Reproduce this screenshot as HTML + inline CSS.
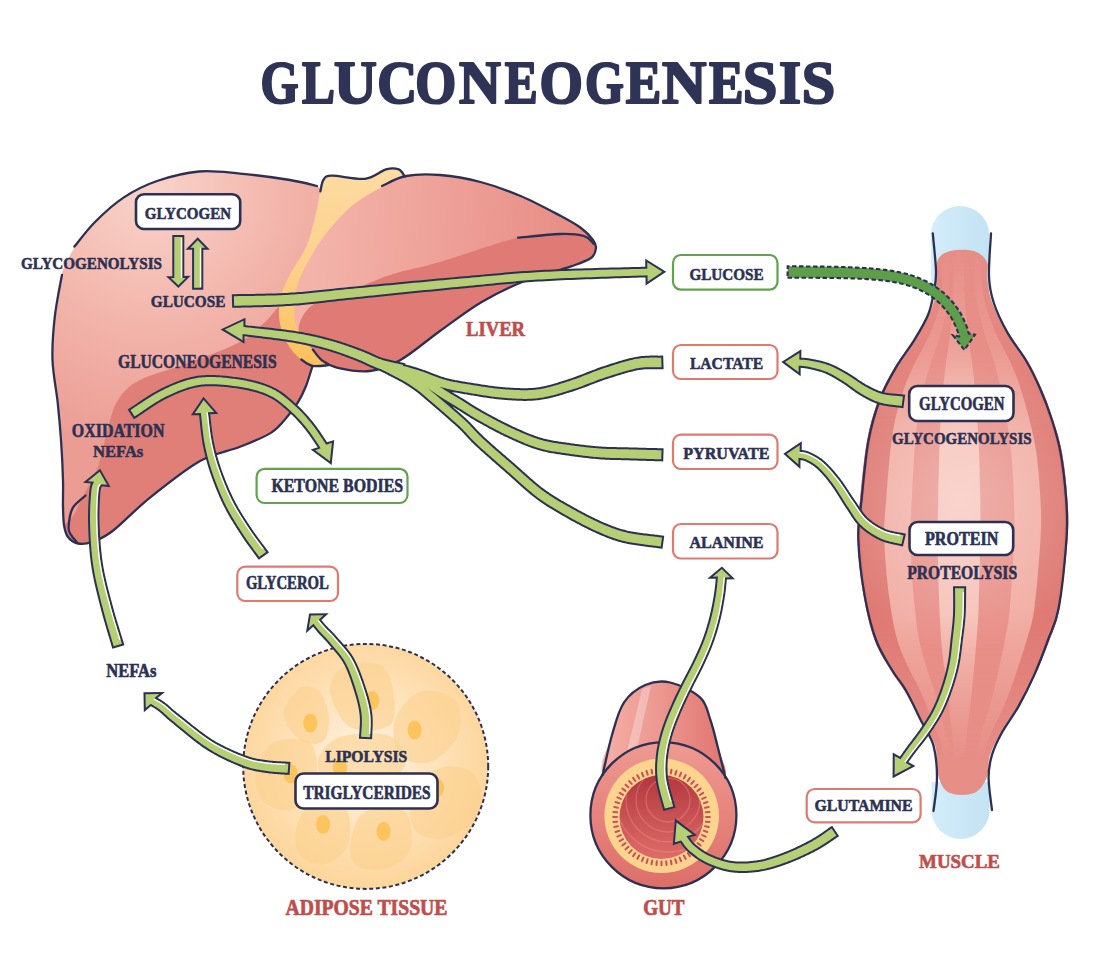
<!DOCTYPE html>
<html><head><meta charset="utf-8"><title>Gluconeogenesis</title>
<style>html,body{margin:0;padding:0;background:#ffffff;}svg{display:block;}</style></head>
<body><svg width="1095" height="958" viewBox="0 0 1095 958">
<defs>
<radialGradient id="gLiverL" cx="150" cy="190" r="260" gradientUnits="userSpaceOnUse">
  <stop offset="0" stop-color="#f9d3ca"/><stop offset="0.55" stop-color="#f2b3a9"/><stop offset="1" stop-color="#eb9d94"/>
</radialGradient>
<linearGradient id="gLiverR" x1="320" y1="220" x2="590" y2="240" gradientUnits="userSpaceOnUse">
  <stop offset="0" stop-color="#f3b3a9"/><stop offset="1" stop-color="#e78b84"/>
</linearGradient>
<linearGradient id="gYellow" x1="0" y1="170" x2="0" y2="365" gradientUnits="userSpaceOnUse">
  <stop offset="0" stop-color="#fddba2"/><stop offset="0.5" stop-color="#fdd08a"/><stop offset="1" stop-color="#fcc15a"/>
</linearGradient>
<radialGradient id="gMuscleC" cx="960" cy="500" r="150" gradientUnits="userSpaceOnUse">
  <stop offset="0" stop-color="#ffffff" stop-opacity="0.3"/><stop offset="1" stop-color="#ffffff" stop-opacity="0"/>
</radialGradient>
<linearGradient id="gTendon" x1="930" y1="0" x2="990" y2="0" gradientUnits="userSpaceOnUse">
  <stop offset="0" stop-color="#d4eefa"/><stop offset="1" stop-color="#c3e2f3"/>
</linearGradient>
<radialGradient id="gAdipose" cx="365" cy="760" r="125" gradientUnits="userSpaceOnUse">
  <stop offset="0" stop-color="#fff5e6"/><stop offset="0.45" stop-color="#fee6c3"/><stop offset="1" stop-color="#fdd69c"/>
</radialGradient>
<linearGradient id="gGutTube" x1="600" y1="0" x2="725" y2="0" gradientUnits="userSpaceOnUse">
  <stop offset="0" stop-color="#f6b0a8"/><stop offset="0.5" stop-color="#ec968e"/><stop offset="1" stop-color="#e07670"/>
</linearGradient>
<linearGradient id="gGutFace" x1="0" y1="742" x2="0" y2="888" gradientUnits="userSpaceOnUse">
  <stop offset="0" stop-color="#ee9a92"/><stop offset="1" stop-color="#dd6e68"/>
</linearGradient>
<linearGradient id="gLumen" x1="0" y1="775" x2="0" y2="859" gradientUnits="userSpaceOnUse">
  <stop offset="0" stop-color="#b3373e"/><stop offset="1" stop-color="#df6c68"/>
</linearGradient>
<linearGradient id="gMFade" x1="0" y1="250" x2="0" y2="800" gradientUnits="userSpaceOnUse"><stop offset="0" stop-color="#fff" stop-opacity="0"/><stop offset="0.17" stop-color="#fff" stop-opacity="0.35"/><stop offset="0.35" stop-color="#fff" stop-opacity="1"/><stop offset="0.66" stop-color="#fff" stop-opacity="1"/><stop offset="0.82" stop-color="#fff" stop-opacity="0.35"/><stop offset="0.93" stop-color="#fff" stop-opacity="0"/></linearGradient><mask id="mFade" maskUnits="userSpaceOnUse" x="800" y="200" width="300" height="650"><rect x="800" y="200" width="300" height="650" fill="url(#gMFade)"/></mask><linearGradient id="gMEdge" x1="850" y1="0" x2="1070" y2="0" gradientUnits="userSpaceOnUse"><stop offset="0" stop-color="#d9706a" stop-opacity="0.0"/><stop offset="0.85" stop-color="#d9706a" stop-opacity="0"/><stop offset="1" stop-color="#d9706a" stop-opacity="0.35"/></linearGradient><clipPath id="cLumen"><circle cx="661.5" cy="817" r="42"/></clipPath></defs>
<rect width="1095" height="958" fill="#ffffff"/>
<clipPath id="cL"><path d="M320.0,188.0 C311.7,181.3 303.3,182.4 290.0,180.0 C276.7,177.6 255.2,175.0 240.0,173.6 C224.8,172.2 212.8,170.3 199.0,171.5 C185.2,172.7 169.6,176.7 157.0,181.0 C144.4,185.3 133.8,190.9 123.5,197.6 C113.2,204.3 103.0,212.9 95.0,221.0 C87.0,229.1 81.2,236.8 75.5,246.0 C69.8,255.2 64.5,264.2 61.0,276.0 C57.5,287.8 56.2,302.7 54.8,316.7 C53.4,330.7 52.0,345.7 52.5,360.0 C53.0,374.3 56.3,389.3 57.7,402.6 C59.1,415.9 60.1,427.1 61.0,440.0 C61.9,452.9 62.7,468.8 63.0,480.0 C63.3,491.2 62.8,499.5 63.0,507.0 C63.2,514.5 63.2,520.0 64.0,525.0 C64.8,530.0 65.7,533.9 68.0,537.0 C70.3,540.1 74.0,542.7 78.0,543.5 C82.0,544.3 86.2,544.1 92.0,542.0 C97.8,539.9 102.9,538.4 112.6,531.0 C122.3,523.6 135.4,509.3 150.0,497.6 C164.6,485.9 185.0,469.5 200.0,461.0 C215.0,452.5 228.1,451.5 240.0,446.8 C251.9,442.1 263.5,437.6 271.3,432.6 C279.1,427.6 282.5,422.2 287.0,417.0 C291.5,411.8 295.3,406.5 298.5,401.3 C301.7,396.1 303.8,391.4 306.0,386.0 C308.2,380.6 308.9,373.5 311.6,368.8 C314.3,364.1 317.3,369.5 322.0,358.0 C326.7,346.5 337.0,323.0 340.0,300.0 C343.0,277.0 343.3,238.7 340.0,220.0 C336.7,201.3 328.3,194.7 320.0,188.0Z"/></clipPath>
<path d="M320.0,188.0 C311.7,181.3 303.3,182.4 290.0,180.0 C276.7,177.6 255.2,175.0 240.0,173.6 C224.8,172.2 212.8,170.3 199.0,171.5 C185.2,172.7 169.6,176.7 157.0,181.0 C144.4,185.3 133.8,190.9 123.5,197.6 C113.2,204.3 103.0,212.9 95.0,221.0 C87.0,229.1 81.2,236.8 75.5,246.0 C69.8,255.2 64.5,264.2 61.0,276.0 C57.5,287.8 56.2,302.7 54.8,316.7 C53.4,330.7 52.0,345.7 52.5,360.0 C53.0,374.3 56.3,389.3 57.7,402.6 C59.1,415.9 60.1,427.1 61.0,440.0 C61.9,452.9 62.7,468.8 63.0,480.0 C63.3,491.2 62.8,499.5 63.0,507.0 C63.2,514.5 63.2,520.0 64.0,525.0 C64.8,530.0 65.7,533.9 68.0,537.0 C70.3,540.1 74.0,542.7 78.0,543.5 C82.0,544.3 86.2,544.1 92.0,542.0 C97.8,539.9 102.9,538.4 112.6,531.0 C122.3,523.6 135.4,509.3 150.0,497.6 C164.6,485.9 185.0,469.5 200.0,461.0 C215.0,452.5 228.1,451.5 240.0,446.8 C251.9,442.1 263.5,437.6 271.3,432.6 C279.1,427.6 282.5,422.2 287.0,417.0 C291.5,411.8 295.3,406.5 298.5,401.3 C301.7,396.1 303.8,391.4 306.0,386.0 C308.2,380.6 308.9,373.5 311.6,368.8 C314.3,364.1 317.3,369.5 322.0,358.0 C326.7,346.5 337.0,323.0 340.0,300.0 C343.0,277.0 343.3,238.7 340.0,220.0 C336.7,201.3 328.3,194.7 320.0,188.0Z" fill="url(#gLiverL)"/>
<path clip-path="url(#cL)" d="M40.0,545.0 C38.3,538.3 63.0,527.7 70.0,520.0 C77.0,512.3 77.0,507.8 81.8,498.6 C86.5,489.4 94.0,477.5 98.5,465.0 C103.0,452.5 105.6,434.6 109.0,423.5 C112.4,412.4 113.8,405.8 119.0,398.5 C124.2,391.2 128.3,385.9 140.0,380.0 C151.7,374.1 172.3,369.1 189.0,362.8 C205.7,356.5 227.3,348.8 240.0,342.0 C252.7,335.2 256.7,329.2 265.0,322.0 C273.3,314.8 277.5,304.3 290.0,299.0 C302.5,293.7 330.8,269.8 340.0,290.0 C349.2,310.2 368.3,385.0 345.0,420.0 C321.7,455.0 244.2,476.7 200.0,500.0 C155.8,523.3 106.7,552.5 80.0,560.0 C53.3,567.5 41.7,551.7 40.0,545.0Z" fill="#e07f78"/>
<path d="M320.4,191.3 C321.8,185.0 321.6,182.4 323.5,179.8 C325.4,177.2 325.0,175.9 331.9,175.7 C338.8,175.5 356.0,179.9 365.0,178.8 C374.0,177.8 380.4,171.0 386.0,169.4 C391.6,167.8 395.5,168.2 398.7,169.4 C401.9,170.6 405.6,173.3 405.0,176.7 C404.4,180.1 402.5,183.6 395.0,190.0 C387.5,196.4 370.8,205.0 360.0,215.0 C349.2,225.0 338.3,237.5 330.0,250.0 C321.7,262.5 314.2,276.7 310.0,290.0 C305.8,303.3 303.7,319.3 305.0,330.0 C306.3,340.7 313.9,348.2 318.0,354.0 C322.1,359.8 329.7,362.7 329.5,364.7 C329.3,366.7 321.7,366.6 317.0,365.8 C312.3,365.0 306.2,363.4 301.3,359.7 C296.4,356.0 291.1,350.2 287.5,343.7 C283.9,337.2 280.6,328.4 279.5,320.7 C278.4,313.0 279.0,305.3 280.7,297.7 C282.4,290.1 285.6,283.2 289.8,274.8 C294.0,266.4 301.8,256.8 306.0,247.2 C310.2,237.6 312.6,226.7 315.0,217.4 C317.4,208.1 319.0,197.6 320.4,191.3Z" fill="url(#gYellow)"/>
<clipPath id="cR"><path d="M384.0,186.0 C393.0,181.0 396.7,177.8 406.0,176.0 C415.3,174.2 427.6,174.0 440.0,175.0 C452.4,176.0 467.1,178.5 480.5,182.0 C493.9,185.5 507.2,190.3 520.6,196.0 C534.0,201.7 550.7,210.7 560.8,216.0 C570.9,221.3 575.6,224.0 581.0,228.0 C586.4,232.0 590.5,236.7 593.0,240.0 C595.5,243.3 596.3,245.0 596.0,248.0 C595.7,251.0 595.2,254.9 591.0,258.0 C586.8,261.1 582.2,262.5 571.0,266.4 C559.8,270.3 538.4,275.6 523.5,281.5 C508.6,287.4 495.6,293.8 481.7,302.0 C467.8,310.2 453.5,321.3 440.0,331.0 C426.5,340.7 412.2,353.3 400.5,360.0 C388.8,366.7 380.4,369.7 370.0,371.0 C359.6,372.3 345.8,369.6 337.8,367.8 C329.8,366.1 326.4,363.5 322.2,360.5 C318.0,357.5 316.5,353.9 312.8,349.6 C309.1,345.3 303.3,340.1 300.2,334.5 C297.1,328.9 295.0,323.6 294.4,316.0 C293.8,308.4 294.8,297.0 296.7,288.6 C298.6,280.2 301.4,274.4 306.0,265.6 C310.6,256.8 316.7,245.7 324.3,235.8 C331.9,225.9 341.9,214.3 351.8,206.0 C361.8,197.7 375.0,191.0 384.0,186.0Z"/></clipPath>
<path d="M384.0,186.0 C393.0,181.0 396.7,177.8 406.0,176.0 C415.3,174.2 427.6,174.0 440.0,175.0 C452.4,176.0 467.1,178.5 480.5,182.0 C493.9,185.5 507.2,190.3 520.6,196.0 C534.0,201.7 550.7,210.7 560.8,216.0 C570.9,221.3 575.6,224.0 581.0,228.0 C586.4,232.0 590.5,236.7 593.0,240.0 C595.5,243.3 596.3,245.0 596.0,248.0 C595.7,251.0 595.2,254.9 591.0,258.0 C586.8,261.1 582.2,262.5 571.0,266.4 C559.8,270.3 538.4,275.6 523.5,281.5 C508.6,287.4 495.6,293.8 481.7,302.0 C467.8,310.2 453.5,321.3 440.0,331.0 C426.5,340.7 412.2,353.3 400.5,360.0 C388.8,366.7 380.4,369.7 370.0,371.0 C359.6,372.3 345.8,369.6 337.8,367.8 C329.8,366.1 326.4,363.5 322.2,360.5 C318.0,357.5 316.5,353.9 312.8,349.6 C309.1,345.3 303.3,340.1 300.2,334.5 C297.1,328.9 295.0,323.6 294.4,316.0 C293.8,308.4 294.8,297.0 296.7,288.6 C298.6,280.2 301.4,274.4 306.0,265.6 C310.6,256.8 316.7,245.7 324.3,235.8 C331.9,225.9 341.9,214.3 351.8,206.0 C361.8,197.7 375.0,191.0 384.0,186.0Z" fill="url(#gLiverR)"/>
<path clip-path="url(#cR)" d="M298.0,345.0 C299.7,328.7 297.3,328.8 300.0,322.0 C302.7,315.2 306.7,308.7 314.0,304.0 C321.3,299.3 331.3,298.4 344.0,293.6 C356.7,288.8 374.0,280.3 390.0,275.0 C406.0,269.7 418.8,268.2 440.0,262.0 C461.2,255.8 497.0,242.7 517.0,238.0 C537.0,233.3 547.8,234.0 560.0,234.0 C572.2,234.0 580.0,235.3 590.0,238.0 C600.0,240.7 615.0,219.7 620.0,250.0 C625.0,280.3 675.0,391.7 620.0,420.0 C565.0,448.3 343.7,432.5 290.0,420.0 C236.3,407.5 296.3,361.3 298.0,345.0Z" fill="#df7b74"/>
<g fill="none" stroke="#2c3153" stroke-width="2.3" stroke-linecap="round">
<path d="M317.0,186.0 C312.5,185.0 302.8,182.1 290.0,180.0 C277.2,177.9 255.2,175.0 240.0,173.6 C224.8,172.2 212.8,170.3 199.0,171.5 C185.2,172.7 169.6,176.7 157.0,181.0 C144.4,185.3 133.8,190.8 123.5,197.6 C113.2,204.4 103.2,213.8 95.0,222.0 C86.8,230.2 77.8,242.5 74.4,246.6"/>
<path d="M62.0,274.8 C60.8,281.8 56.4,302.5 54.8,316.7 C53.2,330.9 52.0,345.7 52.5,360.0 C53.0,374.3 56.3,389.3 57.7,402.6 C59.1,415.9 60.1,427.1 61.0,440.0 C61.9,452.9 62.7,468.8 63.0,480.0 C63.3,491.2 62.8,499.5 63.0,507.0 C63.2,514.5 63.2,520.0 64.0,525.0 C64.8,530.0 65.7,533.9 68.0,537.0 C70.3,540.1 74.0,542.7 78.0,543.5 C82.0,544.3 86.2,544.1 92.0,542.0 C97.8,539.9 102.9,538.4 112.6,531.0 C122.3,523.6 135.4,509.3 150.0,497.6 C164.6,485.9 185.0,469.5 200.0,461.0 C215.0,452.5 228.1,451.5 240.0,446.8 C251.9,442.1 263.5,437.6 271.3,432.6 C279.1,427.6 282.5,422.2 287.0,417.0 C291.5,411.8 295.3,406.5 298.5,401.3 C301.7,396.1 303.8,391.4 306.0,386.0 C308.2,380.6 310.5,372.1 311.6,368.8 C312.7,365.5 312.6,366.5 312.8,366.0"/>
<path d="M85.5,495.5 C83.6,497.2 76.6,502.6 74.0,506.0 C71.4,509.4 70.8,511.8 70.0,516.0 C69.2,520.2 67.8,526.6 69.0,531.0 C70.2,535.4 75.7,540.6 77.0,542.5"/>
<path d="M320.4,191.3 C320.9,189.4 321.6,182.4 323.5,179.8 C325.4,177.2 325.0,175.9 331.9,175.7 C338.8,175.5 356.0,179.9 365.0,178.8 C374.0,177.8 380.4,171.0 386.0,169.4 C391.6,167.8 395.5,168.2 398.7,169.4 C401.9,170.6 403.9,175.5 405.0,176.7"/>
<path d="M382.0,186.0 C386.0,184.3 396.3,177.8 406.0,176.0 C415.7,174.2 427.6,174.0 440.0,175.0 C452.4,176.0 467.1,178.5 480.5,182.0 C493.9,185.5 507.2,190.3 520.6,196.0 C534.0,201.7 550.7,210.7 560.8,216.0 C570.9,221.3 575.6,224.0 581.0,228.0 C586.4,232.0 590.5,236.7 593.0,240.0 C595.5,243.3 596.3,245.0 596.0,248.0 C595.7,251.0 595.2,254.9 591.0,258.0 C586.8,261.1 582.2,262.5 571.0,266.4 C559.8,270.3 538.4,275.6 523.5,281.5 C508.6,287.4 495.6,293.8 481.7,302.0 C467.8,310.2 453.5,321.3 440.0,331.0 C426.5,340.7 412.2,353.3 400.5,360.0 C388.8,366.7 380.4,369.7 370.0,371.0 C359.6,372.3 345.8,369.6 337.8,367.8 C329.8,366.1 326.4,363.5 322.2,360.5 C318.0,357.5 314.4,351.4 312.8,349.6"/>
<path d="M518.0,237.7 C525.0,237.1 549.0,234.3 560.0,234.0 C571.0,233.7 578.3,234.3 584.0,236.0 C589.7,237.7 592.3,242.7 594.0,244.0"/>
<path d="M301.3,359.5 C303.1,360.6 307.8,364.9 312.3,365.8 C316.8,366.8 325.8,365.3 328.5,365.2"/>
</g>
<path d="M931,300 L931,234 A29,28 0 0 1 989,234 L989,300Z" fill="url(#gTendon)"/>
<path d="M931.5,782 L931.5,810 A29,29 0 0 0 989.5,810 L989.5,782Z" fill="url(#gTendon)"/>
<path d="M937.0,262.0 C934.7,268.7 937.3,282.2 936.0,291.0 C934.7,299.8 932.8,306.3 929.2,314.5 C925.5,322.7 919.9,331.2 914.2,340.0 C908.4,348.8 900.4,357.6 894.5,367.5 C888.6,377.4 883.1,387.2 878.5,399.5 C873.9,411.8 870.1,424.2 867.0,441.0 C863.9,457.8 861.6,483.7 860.0,500.0 C858.4,516.3 856.9,523.2 857.5,539.0 C858.1,554.8 860.7,578.2 863.5,595.0 C866.3,611.8 870.0,627.5 874.5,640.0 C879.0,652.5 885.5,661.5 890.5,670.0 C895.5,678.5 899.2,682.3 904.5,691.0 C909.8,699.7 916.9,712.8 922.0,722.0 C927.2,731.2 932.4,736.7 935.2,746.0 C938.0,755.3 936.5,770.2 939.0,778.0 C941.5,785.8 944.2,790.5 950.0,793.0 C955.8,795.5 967.9,795.5 974.0,793.0 C980.1,790.5 983.9,784.3 986.6,778.0 C989.3,771.7 987.5,762.7 990.0,755.0 C992.5,747.3 996.8,740.2 1001.8,732.0 C1006.7,723.8 1014.0,715.7 1019.6,706.0 C1025.2,696.3 1030.5,685.0 1035.5,674.0 C1040.5,663.0 1045.5,651.0 1049.5,640.0 C1053.5,629.0 1056.5,624.8 1059.5,608.0 C1062.5,591.2 1066.2,557.0 1067.5,539.0 C1068.8,521.0 1068.4,514.4 1067.5,500.0 C1066.6,485.6 1064.5,466.1 1062.0,452.4 C1059.5,438.7 1056.0,428.7 1052.5,418.0 C1049.0,407.3 1045.5,397.6 1041.3,388.0 C1037.1,378.4 1033.1,369.7 1027.5,360.5 C1021.9,351.3 1013.4,342.6 1007.5,333.0 C1001.6,323.4 995.6,312.3 992.2,303.0 C988.8,293.7 987.9,283.8 987.0,277.0 C986.1,270.2 989.2,266.3 987.0,262.0 C984.8,257.7 980.2,252.8 974.0,251.0 C967.8,249.2 956.2,249.2 950.0,251.0 C943.8,252.8 939.3,255.3 937.0,262.0Z" fill="#e78e87"/>
<g mask="url(#mFade)">
<path d="M937.0,262.0 C934.7,268.7 937.3,282.2 936.0,291.0 C934.7,299.8 932.8,306.3 929.2,314.5 C925.5,322.7 919.9,331.2 914.2,340.0 C908.4,348.8 900.4,357.6 894.5,367.5 C888.6,377.4 883.1,387.2 878.5,399.5 C873.9,411.8 870.1,424.2 867.0,441.0 C863.9,457.8 861.6,483.7 860.0,500.0 C858.4,516.3 856.9,523.2 857.5,539.0 C858.1,554.8 860.7,578.2 863.5,595.0 C866.3,611.8 870.0,627.5 874.5,640.0 C879.0,652.5 885.5,661.5 890.5,670.0 C895.5,678.5 899.2,682.3 904.5,691.0 C909.8,699.7 916.9,712.8 922.0,722.0 C927.2,731.2 932.4,736.7 935.2,746.0 C938.0,755.3 936.5,770.2 939.0,778.0 C941.5,785.8 944.2,790.5 950.0,793.0 C955.8,795.5 967.9,795.5 974.0,793.0 C980.1,790.5 983.9,784.3 986.6,778.0 C989.3,771.7 987.5,762.7 990.0,755.0 C992.5,747.3 996.8,740.2 1001.8,732.0 C1006.7,723.8 1014.0,715.7 1019.6,706.0 C1025.2,696.3 1030.5,685.0 1035.5,674.0 C1040.5,663.0 1045.5,651.0 1049.5,640.0 C1053.5,629.0 1056.5,624.8 1059.5,608.0 C1062.5,591.2 1066.2,557.0 1067.5,539.0 C1068.8,521.0 1068.4,514.4 1067.5,500.0 C1066.6,485.6 1064.5,466.1 1062.0,452.4 C1059.5,438.7 1056.0,428.7 1052.5,418.0 C1049.0,407.3 1045.5,397.6 1041.3,388.0 C1037.1,378.4 1033.1,369.7 1027.5,360.5 C1021.9,351.3 1013.4,342.6 1007.5,333.0 C1001.6,323.4 995.6,312.3 992.2,303.0 C988.8,293.7 987.9,283.8 987.0,277.0 C986.1,270.2 989.2,266.3 987.0,262.0 C984.8,257.7 980.2,252.8 974.0,251.0 C967.8,249.2 956.2,249.2 950.0,251.0 C943.8,252.8 939.3,255.3 937.0,262.0Z" fill="#de7872"/>
<path d="M942.8,262.0 C941.0,268.7 942.9,282.2 942.0,291.0 C941.1,299.8 939.9,306.3 937.4,314.5 C934.9,322.7 931.1,331.2 927.0,340.0 C922.9,348.8 917.1,357.6 912.7,367.5 C908.3,377.4 903.9,387.2 900.4,399.5 C896.9,411.8 893.9,424.2 891.5,441.0 C889.2,457.8 887.4,483.7 886.2,500.0 C884.9,516.3 883.8,523.2 884.2,539.0 C884.7,554.8 886.7,578.2 888.9,595.0 C891.0,611.8 893.9,627.5 897.3,640.0 C900.8,652.5 905.8,661.5 909.6,670.0 C913.5,678.5 916.6,682.3 920.4,691.0 C924.3,699.7 929.2,712.8 932.7,722.0 C936.3,731.2 939.7,736.7 941.6,746.0 C943.5,755.3 942.4,770.2 944.3,778.0 C946.2,785.8 948.3,790.5 952.8,793.0 C957.3,795.5 966.5,795.5 971.2,793.0 C975.9,790.5 978.9,784.3 980.9,778.0 C983.0,771.7 981.8,762.7 983.6,755.0 C985.3,747.3 988.2,740.2 991.6,732.0 C995.0,723.8 999.9,715.7 1004.0,706.0 C1008.0,696.3 1012.1,685.0 1015.9,674.0 C1019.7,663.0 1023.6,651.0 1026.7,640.0 C1029.8,629.0 1032.1,624.8 1034.4,608.0 C1036.7,591.2 1039.5,557.0 1040.5,539.0 C1041.6,521.0 1041.2,514.4 1040.5,500.0 C1039.8,485.6 1038.2,466.1 1036.3,452.4 C1034.4,438.7 1031.6,428.7 1029.0,418.0 C1026.3,407.3 1023.6,397.6 1020.4,388.0 C1017.2,378.4 1013.9,369.7 1009.7,360.5 C1005.6,351.3 999.7,342.6 995.6,333.0 C991.5,323.4 987.5,312.3 985.1,303.0 C982.7,293.7 981.9,283.8 981.2,277.0 C980.6,270.2 982.9,266.3 981.2,262.0 C979.6,257.7 976.0,252.8 971.2,251.0 C966.5,249.2 957.5,249.2 952.8,251.0 C948.0,252.8 944.5,255.3 942.8,262.0Z" fill="#f1ada3"/>
<path d="M949.2,262.0 C948.1,268.7 949.3,282.2 948.7,291.0 C948.1,299.8 947.3,306.3 945.7,314.5 C944.0,322.7 941.5,331.2 938.8,340.0 C936.1,348.8 932.3,357.6 929.4,367.5 C926.4,377.4 923.5,387.2 921.2,399.5 C918.9,411.8 916.9,424.2 915.3,441.0 C913.8,457.8 912.6,483.7 911.8,500.0 C911.0,516.3 910.2,523.2 910.5,539.0 C910.8,554.8 912.1,578.2 913.5,595.0 C915.0,611.8 916.9,627.5 919.2,640.0 C921.5,652.5 924.8,661.5 927.3,670.0 C929.9,678.5 931.9,682.3 934.5,691.0 C937.0,699.7 940.3,712.8 942.6,722.0 C945.0,731.2 947.2,736.7 948.5,746.0 C949.8,755.3 949.0,770.2 950.3,778.0 C951.5,785.8 952.9,790.5 955.9,793.0 C958.9,795.5 965.0,795.5 968.1,793.0 C971.2,790.5 973.2,784.3 974.5,778.0 C975.9,771.7 975.1,762.7 976.3,755.0 C977.5,747.3 979.4,740.2 981.6,732.0 C983.9,723.8 987.1,715.7 989.8,706.0 C992.5,696.3 995.2,685.0 997.7,674.0 C1000.2,663.0 1002.8,651.0 1004.8,640.0 C1006.9,629.0 1008.4,624.8 1009.9,608.0 C1011.5,591.2 1013.3,557.0 1014.0,539.0 C1014.7,521.0 1014.5,514.4 1014.0,500.0 C1013.6,485.6 1012.5,466.1 1011.2,452.4 C1009.9,438.7 1008.1,428.7 1006.4,418.0 C1004.6,407.3 1002.8,397.6 1000.7,388.0 C998.5,378.4 996.4,369.7 993.6,360.5 C990.9,351.3 987.0,342.6 984.2,333.0 C981.5,323.4 978.9,312.3 977.3,303.0 C975.7,293.7 975.2,283.8 974.8,277.0 C974.3,270.2 975.9,266.3 974.8,262.0 C973.6,257.7 971.3,252.8 968.1,251.0 C965.0,249.2 959.0,249.2 955.9,251.0 C952.7,252.8 950.4,255.3 949.2,262.0Z" fill="#e88f88"/>
<path d="M953.6,262.0 C953.2,268.7 953.6,282.2 953.4,291.0 C953.1,299.8 952.8,306.3 952.1,314.5 C951.4,322.7 950.4,331.2 949.3,340.0 C948.2,348.8 946.6,357.6 945.4,367.5 C944.2,377.4 943.0,387.2 942.0,399.5 C941.1,411.8 940.3,424.2 939.6,441.0 C939.0,457.8 938.5,483.7 938.2,500.0 C937.8,516.3 937.5,523.2 937.6,539.0 C937.8,554.8 938.3,578.2 938.9,595.0 C939.5,611.8 940.3,627.5 941.2,640.0 C942.1,652.5 943.5,661.5 944.6,670.0 C945.6,678.5 946.5,682.3 947.5,691.0 C948.5,699.7 949.9,712.8 950.9,722.0 C951.8,731.2 952.8,736.7 953.3,746.0 C953.8,755.3 953.6,770.2 954.0,778.0 C954.4,785.8 954.4,790.5 955.5,793.0 C956.6,795.5 959.1,795.5 960.5,793.0 C961.9,790.5 963.3,784.3 964.0,778.0 C964.7,771.7 964.2,762.7 964.7,755.0 C965.2,747.3 966.0,740.2 966.9,732.0 C967.9,723.8 969.2,715.7 970.3,706.0 C971.4,696.3 972.5,685.0 973.5,674.0 C974.6,663.0 975.6,651.0 976.5,640.0 C977.3,629.0 978.0,624.8 978.6,608.0 C979.2,591.2 980.0,557.0 980.3,539.0 C980.5,521.0 980.5,514.4 980.3,500.0 C980.1,485.6 979.6,466.1 979.1,452.4 C978.6,438.7 977.8,428.7 977.1,418.0 C976.4,407.3 975.6,397.6 974.8,388.0 C973.9,378.4 973.0,369.7 971.9,360.5 C970.7,351.3 969.1,342.6 968.0,333.0 C966.9,323.4 965.8,312.3 965.1,303.0 C964.5,293.7 964.3,283.8 964.1,277.0 C963.9,270.2 964.7,266.3 964.1,262.0 C963.5,257.7 962.0,252.8 960.5,251.0 C959.1,249.2 956.6,249.2 955.5,251.0 C954.3,252.8 953.9,255.3 953.6,262.0Z" fill="#f6c2b8"/>
</g>
<path d="M937.0,262.0 C934.7,268.7 937.2,282.2 936.0,291.0 C934.8,299.8 933.2,306.3 930.0,314.5 C926.8,322.7 921.8,331.2 916.5,340.0 C911.2,348.8 903.8,357.6 898.0,367.5 C892.2,377.4 886.6,387.2 882.0,399.5 C877.4,411.8 873.6,424.2 870.5,441.0 C867.4,457.8 865.1,483.7 863.5,500.0 C861.9,516.3 860.4,523.2 861.0,539.0 C861.6,554.8 864.2,578.2 867.0,595.0 C869.8,611.8 873.5,627.5 878.0,640.0 C882.5,652.5 889.0,661.5 894.0,670.0 C899.0,678.5 903.0,682.3 908.0,691.0 C913.0,699.7 919.4,712.8 924.0,722.0 C928.6,731.2 933.0,736.7 935.5,746.0 C938.0,755.3 936.6,770.2 939.0,778.0 C941.4,785.8 944.2,790.5 950.0,793.0 C955.8,795.5 967.9,795.5 974.0,793.0 C980.1,790.5 983.9,784.3 986.6,778.0 C989.3,771.7 987.7,762.7 990.0,755.0 C992.3,747.3 996.1,740.2 1000.5,732.0 C1004.9,723.8 1011.2,715.7 1016.5,706.0 C1021.8,696.3 1027.1,685.0 1032.0,674.0 C1036.9,663.0 1042.0,651.0 1046.0,640.0 C1050.0,629.0 1053.0,624.8 1056.0,608.0 C1059.0,591.2 1062.7,557.0 1064.0,539.0 C1065.3,521.0 1064.9,514.4 1064.0,500.0 C1063.1,485.6 1061.0,466.1 1058.5,452.4 C1056.0,438.7 1052.5,428.7 1049.0,418.0 C1045.5,407.3 1042.0,397.6 1037.8,388.0 C1033.6,378.4 1029.4,369.7 1024.0,360.5 C1018.6,351.3 1010.9,342.6 1005.6,333.0 C1000.3,323.4 995.1,312.3 992.0,303.0 C988.9,293.7 987.8,283.8 987.0,277.0 C986.2,270.2 989.2,266.3 987.0,262.0 C984.8,257.7 980.2,252.8 974.0,251.0 C967.8,249.2 956.2,249.2 950.0,251.0 C943.8,252.8 939.3,255.3 937.0,262.0Z" fill="url(#gMuscleC)"/>
<g fill="none" stroke="#2c3153" stroke-width="2.3" stroke-linecap="round">
<path d="M932.8,233.4 C933.3,239.7 935.8,261.7 936.0,271.4 C936.2,281.1 935.2,284.3 933.9,291.5 C932.6,298.7 931.5,306.4 928.2,314.5 C925.0,322.6 919.8,331.0 914.4,339.8 C909.0,348.6 901.8,357.4 896.0,367.4 C890.2,377.3 884.5,387.2 879.9,399.5 C875.3,411.8 871.5,424.2 868.4,441.0 C865.3,457.8 863.2,483.7 861.5,500.0 C859.8,516.3 857.8,523.1 858.3,539.0 C858.8,554.9 861.6,578.6 864.6,595.4 C867.6,612.2 871.4,627.6 876.0,640.0 C880.6,652.4 887.0,661.6 892.0,670.0 C897.0,678.4 901.0,681.7 906.0,690.5 C911.0,699.3 917.4,713.4 922.0,722.6 C926.6,731.8 931.0,736.4 933.5,745.6 C936.0,754.8 937.0,766.8 937.0,777.7 C937.0,788.6 934.1,805.5 933.5,811.0"/>
<path d="M991.0,233.4 C990.7,240.6 988.5,265.2 989.0,276.8 C989.5,288.4 990.7,293.6 993.8,303.0 C996.9,312.4 1002.2,323.3 1007.6,332.9 C1013.0,342.5 1020.6,351.3 1026.0,360.5 C1031.4,369.7 1035.6,378.4 1039.8,388.0 C1044.0,397.6 1047.8,407.3 1051.3,418.0 C1054.8,428.7 1058.0,438.7 1060.5,452.4 C1063.0,466.1 1065.2,485.6 1066.2,500.0 C1067.2,514.4 1067.8,521.0 1066.5,539.0 C1065.2,557.0 1061.8,591.2 1058.7,608.0 C1055.6,624.8 1052.0,628.9 1048.0,640.0 C1044.0,651.1 1039.4,663.3 1034.5,674.4 C1029.6,685.5 1023.8,697.0 1018.4,706.6 C1013.0,716.2 1006.8,723.8 1002.4,731.8 C998.0,739.8 994.3,747.1 992.0,754.8 C989.7,762.4 988.6,768.5 988.6,777.7 C988.6,786.9 991.4,804.6 992.0,810.0"/>
</g>
<circle cx="365.7" cy="766.4" r="122.5" fill="url(#gAdipose)"/>
<path d="M283.5,714.0 C283.5,705.3 293.9,691.7 300.0,688.0 C306.1,684.3 315.2,686.7 320.0,692.0 C324.8,697.3 328.7,711.7 329.0,720.0 C329.3,728.3 326.8,738.7 322.0,742.0 C317.2,745.3 306.4,744.7 300.0,740.0 C293.6,735.3 283.5,722.7 283.5,714.0Z" fill="#fcd08e" fill-opacity="0.6"/>
<path d="M330.0,690.0 C329.2,679.8 336.7,670.2 345.0,666.0 C353.3,661.8 372.0,661.0 380.0,665.0 C388.0,669.0 391.3,680.0 393.0,690.0 C394.7,700.0 397.2,718.8 390.0,725.0 C382.8,731.2 360.0,732.8 350.0,727.0 C340.0,721.2 330.8,700.2 330.0,690.0Z" fill="#fcd08e" fill-opacity="0.6"/>
<path d="M395.0,720.0 C398.3,709.5 410.0,695.3 420.0,692.0 C430.0,688.7 448.7,692.8 455.0,700.0 C461.3,707.2 462.2,724.7 458.0,735.0 C453.8,745.3 439.7,758.7 430.0,762.0 C420.3,765.3 405.8,762.0 400.0,755.0 C394.2,748.0 391.7,730.5 395.0,720.0Z" fill="#fcd08e" fill-opacity="0.6"/>
<path d="M256.0,770.0 C258.2,760.3 265.7,746.2 275.0,742.0 C284.3,737.8 305.5,737.0 312.0,745.0 C318.5,753.0 317.7,779.2 314.0,790.0 C310.3,800.8 298.7,808.3 290.0,810.0 C281.3,811.7 267.7,806.7 262.0,800.0 C256.3,793.3 253.8,779.7 256.0,770.0Z" fill="#fcd08e" fill-opacity="0.6"/>
<path d="M318.0,760.0 C319.7,752.5 328.0,741.0 340.0,737.0 C352.0,733.0 379.2,731.3 390.0,736.0 C400.8,740.7 406.7,757.3 405.0,765.0 C403.3,772.7 392.5,779.2 380.0,782.0 C367.5,784.8 340.3,785.7 330.0,782.0 C319.7,778.3 316.3,767.5 318.0,760.0Z" fill="#fcd08e" fill-opacity="0.6"/>
<path d="M412.0,795.0 C416.2,784.7 429.5,771.3 440.0,768.0 C450.5,764.7 468.7,767.2 475.0,775.0 C481.3,782.8 483.0,804.5 478.0,815.0 C473.0,825.5 455.5,835.5 445.0,838.0 C434.5,840.5 420.5,837.2 415.0,830.0 C409.5,822.8 407.8,805.3 412.0,795.0Z" fill="#fcd08e" fill-opacity="0.6"/>
<path d="M296.0,830.0 C297.7,821.8 301.8,809.7 310.0,806.0 C318.2,802.3 338.7,801.5 345.0,808.0 C351.3,814.5 351.3,835.7 348.0,845.0 C344.7,854.3 333.0,862.3 325.0,864.0 C317.0,865.7 304.8,860.7 300.0,855.0 C295.2,849.3 294.3,838.2 296.0,830.0Z" fill="#fcd08e" fill-opacity="0.6"/>
<path d="M351.0,840.0 C352.7,831.2 356.0,816.7 365.0,812.0 C374.0,807.3 397.5,805.7 405.0,812.0 C412.5,818.3 413.3,840.5 410.0,850.0 C406.7,859.5 394.2,866.5 385.0,869.0 C375.8,871.5 360.7,869.8 355.0,865.0 C349.3,860.2 349.3,848.8 351.0,840.0Z" fill="#fcd08e" fill-opacity="0.6"/>
<ellipse cx="310.3" cy="723" rx="7" ry="9.5" fill="#fcc45c"/>
<ellipse cx="372.3" cy="700.5" rx="7" ry="9.5" fill="#fcc45c"/>
<ellipse cx="414.6" cy="730" rx="7" ry="9.5" fill="#fcc45c"/>
<ellipse cx="290.6" cy="773.7" rx="7" ry="9.5" fill="#fcc45c"/>
<ellipse cx="340" cy="768" rx="7" ry="9.5" fill="#fcc45c"/>
<ellipse cx="437" cy="787.8" rx="7" ry="9.5" fill="#fcc45c"/>
<ellipse cx="323" cy="824.5" rx="7" ry="9.5" fill="#fcc45c"/>
<ellipse cx="383.6" cy="831.5" rx="7" ry="9.5" fill="#fcc45c"/>
<circle cx="365.7" cy="766.4" r="122.5" fill="none" stroke="#2c3153" stroke-width="2" stroke-dasharray="4 2.6"/>
<path d="M602.6,775.0 C597.9,764.2 608.5,747.1 612.0,735.0 C615.5,722.9 618.4,710.9 623.9,702.6 C629.4,694.3 637.5,688.4 645.2,685.0 C652.9,681.6 661.1,680.4 670.3,682.5 C679.5,684.6 693.6,691.4 700.3,697.6 C707.0,703.9 707.4,711.6 710.4,720.0 C713.4,728.4 715.5,738.3 718.0,748.0 C720.5,757.7 728.4,769.3 725.4,778.0 C722.4,786.7 714.2,796.3 700.0,800.0 C685.8,803.7 656.2,804.2 640.0,800.0 C623.8,795.8 607.3,785.8 602.6,775.0Z" fill="url(#gGutTube)"/>
<path d="M642,689 L651,686 L634,762 L624,764Z" fill="#ffffff" fill-opacity="0.3"/>
<circle cx="663.4" cy="815.3" r="73" fill="url(#gGutFace)"/>
<circle cx="661.7" cy="815.8" r="57.3" fill="#fdd48e"/>
<path d="M706.0,817.0L709.8,817.0M705.8,821.7L709.5,822.0M705.0,826.3L708.7,827.0M703.8,830.8L707.4,831.9M702.2,835.1L705.6,836.6M700.0,839.2L703.3,841.1M697.5,843.2L700.6,845.4M694.6,846.8L697.4,849.3M691.3,850.1L693.8,852.9M687.7,853.0L689.9,856.1M683.8,855.5L685.6,858.8M679.6,857.7L681.1,861.1M675.3,859.3L676.4,862.9M670.8,860.5L671.5,864.2M666.2,861.3L666.5,865.0M661.5,861.5L661.5,865.3M656.8,861.3L656.5,865.0M652.2,860.5L651.5,864.2M647.7,859.3L646.6,862.9M643.4,857.7L641.9,861.1M639.2,855.5L637.4,858.8M635.3,853.0L633.1,856.1M631.7,850.1L629.2,852.9M628.4,846.8L625.6,849.3M625.5,843.2L622.4,845.4M623.0,839.2L619.7,841.1M620.8,835.1L617.4,836.6M619.2,830.8L615.6,831.9M618.0,826.3L614.3,827.0M617.2,821.7L613.5,822.0M617.0,817.0L613.2,817.0M617.2,812.3L613.5,812.0M618.0,807.7L614.3,807.0M619.2,803.2L615.6,802.1M620.8,798.9L617.4,797.4M623.0,794.8L619.7,792.9M625.5,790.8L622.4,788.6M628.4,787.2L625.6,784.7M631.7,783.9L629.2,781.1M635.3,781.0L633.1,777.9M639.2,778.5L637.4,775.2M643.4,776.3L641.9,772.9M647.7,774.7L646.6,771.1M652.2,773.5L651.5,769.8M656.8,772.7L656.5,769.0M661.5,772.5L661.5,768.7M666.2,772.7L666.5,769.0M670.8,773.5L671.5,769.8M675.3,774.7L676.4,771.1M679.6,776.3L681.1,772.9M683.8,778.5L685.6,775.2M687.7,781.0L689.9,777.9M691.3,783.9L693.8,781.1M694.6,787.2L697.4,784.7M697.5,790.8L700.6,788.6M700.0,794.8L703.3,792.9M702.2,798.9L705.6,797.4M703.8,803.2L707.4,802.1M705.0,807.7L708.7,807.0M705.8,812.3L709.5,812.0" stroke="#cf5057" stroke-width="2.1" stroke-linecap="round"/>
<circle cx="661.5" cy="817" r="42" fill="url(#gLumen)"/>
<circle cx="668" cy="800" r="22" fill="none" stroke="#f3a19a" stroke-opacity="0.35" stroke-width="1.3" clip-path="url(#cLumen)"/>
<circle cx="668" cy="800" r="32" fill="none" stroke="#f3a19a" stroke-opacity="0.35" stroke-width="1.3" clip-path="url(#cLumen)"/>
<circle cx="668" cy="800" r="42" fill="none" stroke="#f3a19a" stroke-opacity="0.35" stroke-width="1.3" clip-path="url(#cLumen)"/>
<circle cx="668" cy="800" r="52" fill="none" stroke="#f3a19a" stroke-opacity="0.35" stroke-width="1.3" clip-path="url(#cLumen)"/>
<circle cx="668" cy="800" r="62" fill="none" stroke="#f3a19a" stroke-opacity="0.35" stroke-width="1.3" clip-path="url(#cLumen)"/>
<g fill="none" stroke="#2c3153" stroke-width="2.3" stroke-linecap="round">
<path d="M602.6,775.0 C604.2,768.3 608.5,747.1 612.0,735.0 C615.5,722.9 618.4,710.9 623.9,702.6 C629.4,694.3 637.5,688.4 645.2,685.0 C652.9,681.6 661.1,680.4 670.3,682.5 C679.5,684.6 693.6,691.4 700.3,697.6 C707.0,703.9 707.4,711.6 710.4,720.0 C713.4,728.4 715.5,738.3 718.0,748.0 C720.5,757.7 724.2,773.0 725.4,778.0"/>
<circle cx="663.4" cy="815.3" r="73"/>
</g>
<g fill="#b6cf74" stroke="#2c3153" stroke-width="4" stroke-linejoin="miter" stroke-miterlimit="10" paint-order="stroke">
<path d="M234.14,305.80 L235.43,305.76 L236.89,305.72 L238.53,305.68 L240.32,305.64 L242.27,305.59 L244.35,305.55 L246.56,305.50 L248.88,305.45 L251.30,305.40 L253.82,305.34 L256.41,305.28 L259.07,305.21 L261.79,305.14 L264.56,305.06 L267.36,304.98 L270.18,304.88 L273.02,304.78 L275.86,304.67 L278.69,304.55 L281.49,304.42 L284.27,304.28 L287.01,304.12 L289.69,303.96 L292.31,303.78 L294.86,303.59 L297.36,303.39 L299.83,303.19 L302.26,302.97 L304.67,302.75 L307.07,302.52 L309.46,302.27 L311.85,302.03 L314.25,301.77 L316.66,301.50 L319.11,301.23 L321.58,300.95 L324.10,300.66 L326.67,300.37 L329.30,300.07 L331.99,299.76 L334.76,299.44 L337.61,299.12 L340.55,298.79 L343.59,298.45 L346.74,298.10 L350.01,297.75 L353.40,297.40 L356.93,297.03 L360.63,296.66 L364.52,296.26 L368.57,295.85 L372.79,295.41 L377.14,294.97 L381.62,294.51 L386.20,294.04 L390.88,293.57 L395.63,293.08 L400.44,292.59 L405.30,292.10 L410.19,291.60 L415.09,291.11 L419.98,290.62 L424.86,290.12 L429.71,289.64 L434.50,289.16 L439.23,288.69 L443.88,288.23 L448.44,287.78 L452.87,287.35 L457.19,286.93 L461.35,286.53 L465.36,286.14 L469.22,285.78 L472.96,285.41 L476.58,285.06 L480.09,284.72 L483.51,284.38 L486.85,284.05 L490.11,283.73 L493.31,283.41 L496.46,283.10 L499.57,282.80 L502.66,282.50 L505.72,282.21 L508.78,281.93 L511.85,281.65 L514.93,281.38 L518.03,281.11 L521.18,280.85 L524.37,280.60 L527.63,280.35 L530.95,280.10 L534.36,279.86 L537.87,279.62 L541.48,279.39 L545.20,279.17 L549.11,278.94 L553.25,278.72 L557.59,278.51 L562.11,278.30 L566.77,278.09 L571.56,277.89 L576.44,277.69 L581.39,277.50 L586.38,277.32 L591.38,277.14 L596.36,276.97 L601.30,276.80 L606.18,276.63 L610.96,276.48 L615.61,276.33 L620.12,276.19 L624.45,276.05 L628.57,275.92 L632.46,275.80 L636.09,275.68 L639.44,275.58 L642.48,275.48 L645.18,275.38 L647.51,275.30 L647.57,281.70 L662.50,271.74 L647.23,262.30 L647.29,268.70 L644.97,268.77 L642.28,268.84 L639.25,268.92 L635.91,269.00 L632.27,269.09 L628.38,269.19 L624.26,269.29 L619.93,269.39 L615.42,269.50 L610.76,269.62 L605.98,269.74 L601.10,269.87 L596.15,270.00 L591.15,270.14 L586.14,270.28 L581.15,270.43 L576.19,270.58 L571.29,270.75 L566.49,270.91 L561.81,271.08 L557.27,271.26 L552.90,271.45 L548.74,271.64 L544.80,271.83 L541.04,272.04 L537.41,272.24 L533.88,272.46 L530.45,272.67 L527.09,272.90 L523.81,273.12 L520.60,273.36 L517.43,273.60 L514.30,273.84 L511.20,274.09 L508.12,274.35 L505.04,274.61 L501.96,274.88 L498.86,275.16 L495.74,275.44 L492.58,275.72 L489.38,276.02 L486.11,276.32 L482.77,276.62 L479.35,276.94 L475.84,277.26 L472.23,277.58 L468.50,277.92 L464.64,278.26 L460.62,278.61 L456.45,278.98 L452.13,279.37 L447.68,279.77 L443.12,280.19 L438.46,280.61 L433.72,281.05 L428.92,281.49 L424.07,281.95 L419.19,282.40 L414.28,282.86 L409.38,283.32 L404.49,283.78 L399.62,284.24 L394.81,284.69 L390.05,285.14 L385.37,285.59 L380.78,286.02 L376.30,286.45 L371.95,286.86 L367.73,287.26 L363.67,287.65 L359.78,288.01 L356.07,288.37 L352.53,288.70 L349.12,289.04 L345.83,289.37 L342.66,289.69 L339.60,290.01 L336.65,290.32 L333.79,290.62 L331.01,290.92 L328.31,291.21 L325.68,291.49 L323.12,291.77 L320.60,292.04 L318.14,292.30 L315.71,292.55 L313.31,292.80 L310.93,293.03 L308.57,293.26 L306.21,293.48 L303.84,293.69 L301.47,293.90 L299.08,294.09 L296.65,294.28 L294.19,294.45 L291.69,294.62 L289.13,294.78 L286.50,294.92 L283.81,295.05 L281.08,295.17 L278.31,295.28 L275.51,295.38 L272.70,295.47 L269.89,295.55 L267.09,295.62 L264.31,295.69 L261.57,295.74 L258.86,295.80 L256.22,295.85 L253.63,295.89 L251.13,295.93 L248.71,295.96 L246.39,295.99 L244.19,296.02 L242.10,296.05 L240.15,296.08 L238.33,296.11 L236.67,296.14 L235.18,296.17 L233.86,296.20 L234.14,305.80Z"/>
<path d="M402.01,364.58 L401.35,364.43 L400.64,364.28 L399.87,364.11 L399.05,363.94 L398.19,363.75 L397.29,363.56 L396.35,363.36 L395.38,363.15 L394.39,362.93 L393.38,362.71 L392.35,362.48 L391.31,362.24 L390.26,362.00 L389.21,361.75 L388.17,361.49 L387.14,361.23 L386.12,360.97 L385.13,360.70 L384.16,360.43 L383.23,360.16 L382.33,359.89 L381.48,359.61 L380.66,359.34 L379.85,359.05 L379.05,358.75 L378.25,358.45 L377.46,358.13 L376.67,357.80 L375.89,357.47 L375.09,357.13 L374.30,356.77 L373.50,356.41 L372.69,356.04 L371.86,355.67 L371.03,355.28 L370.18,354.89 L369.32,354.50 L368.44,354.10 L367.54,353.70 L366.62,353.29 L365.68,352.88 L364.72,352.47 L363.72,352.06 L362.71,351.65 L361.66,351.24 L360.59,350.84 L359.53,350.45 L358.46,350.05 L357.37,349.64 L356.26,349.23 L355.14,348.82 L354.00,348.40 L352.84,347.98 L351.67,347.56 L350.48,347.13 L349.27,346.70 L348.06,346.27 L346.83,345.84 L345.58,345.42 L344.33,344.99 L343.06,344.56 L341.77,344.14 L340.48,343.72 L339.18,343.31 L337.86,342.90 L336.54,342.49 L335.20,342.09 L333.86,341.70 L332.50,341.31 L331.15,340.94 L329.80,340.57 L328.47,340.21 L327.14,339.85 L325.81,339.50 L324.47,339.15 L323.14,338.80 L321.79,338.46 L320.44,338.12 L319.07,337.79 L317.69,337.45 L316.29,337.12 L314.88,336.80 L313.44,336.47 L311.99,336.15 L310.50,335.83 L308.99,335.52 L307.45,335.21 L305.88,334.90 L304.27,334.59 L302.63,334.29 L300.95,333.99 L299.23,333.69 L297.46,333.40 L295.64,333.10 L293.73,332.81 L291.68,332.51 L289.51,332.21 L287.25,331.91 L284.90,331.60 L282.48,331.30 L280.00,331.00 L277.47,330.70 L274.92,330.40 L272.36,330.11 L269.79,329.82 L267.25,329.54 L264.73,329.27 L262.26,329.00 L259.86,328.74 L257.53,328.50 L255.29,328.26 L253.15,328.03 L251.14,327.82 L249.26,327.62 L247.54,327.43 L245.98,327.26 L244.61,327.11 L243.43,326.98 L243.47,320.81 L224.80,329.62 L242.53,340.19 L242.57,334.02 L243.76,334.18 L245.15,334.35 L246.72,334.55 L248.44,334.76 L250.32,334.99 L252.33,335.23 L254.46,335.49 L256.70,335.76 L259.02,336.05 L261.42,336.34 L263.88,336.64 L266.38,336.96 L268.91,337.28 L271.45,337.60 L274.00,337.93 L276.53,338.26 L279.03,338.60 L281.48,338.93 L283.87,339.27 L286.18,339.60 L288.40,339.93 L290.51,340.26 L292.50,340.58 L294.36,340.90 L296.12,341.21 L297.84,341.52 L299.51,341.84 L301.14,342.15 L302.74,342.47 L304.29,342.79 L305.81,343.12 L307.30,343.44 L308.77,343.77 L310.20,344.10 L311.61,344.43 L313.00,344.77 L314.37,345.10 L315.72,345.45 L317.05,345.79 L318.38,346.14 L319.70,346.49 L321.01,346.84 L322.31,347.20 L323.61,347.57 L324.92,347.93 L326.22,348.31 L327.54,348.68 L328.85,349.06 L330.15,349.44 L331.45,349.83 L332.73,350.23 L334.01,350.63 L335.28,351.04 L336.54,351.46 L337.79,351.88 L339.04,352.30 L340.28,352.73 L341.50,353.16 L342.72,353.60 L343.92,354.03 L345.12,354.47 L346.30,354.90 L347.47,355.34 L348.63,355.78 L349.78,356.21 L350.91,356.65 L352.03,357.08 L353.14,357.50 L354.23,357.92 L355.31,358.34 L356.37,358.76 L357.41,359.16 L358.40,359.55 L359.35,359.94 L360.28,360.33 L361.19,360.72 L362.08,361.12 L362.95,361.51 L363.82,361.91 L364.67,362.31 L365.51,362.70 L366.35,363.10 L367.18,363.50 L368.01,363.90 L368.84,364.29 L369.67,364.69 L370.51,365.08 L371.35,365.47 L372.20,365.85 L373.06,366.23 L373.93,366.61 L374.82,366.98 L375.72,367.34 L376.63,367.70 L377.57,368.05 L378.52,368.39 L379.50,368.71 L380.51,369.04 L380.66,369.08 L381.19,369.34 L381.86,369.67 L382.52,369.99 L383.17,370.31 L383.81,370.63 L384.43,370.94 L385.05,371.25 L385.66,371.55 L386.26,371.86 L386.85,372.16 L387.44,372.46 L388.03,372.76 L388.61,373.06 L389.18,373.35 L389.76,373.65 L390.33,373.95 L390.91,374.25 L391.48,374.55 L392.06,374.84 L392.63,375.15 L393.22,375.45 L393.80,375.75 L394.38,376.05 L394.95,376.35 L395.51,376.64 L396.07,376.93 L396.63,377.22 L397.18,377.50 L397.73,377.79 L398.27,378.07 L398.80,378.35 L399.34,378.63 L399.86,378.91 L400.39,379.19 L400.91,379.47 L401.43,379.76 L401.94,380.04 L402.46,380.32 L402.97,380.60 L403.47,380.89 L403.98,381.18 L404.48,381.47 L404.99,381.76 L405.49,382.06 L405.99,382.36 L406.50,382.66 L407.00,382.97 L407.50,383.28 L408.00,383.59 L408.49,383.89 L408.99,384.20 L409.47,384.51 L409.96,384.82 L410.45,385.14 L410.93,385.45 L411.41,385.77 L411.89,386.09 L412.37,386.41 L412.85,386.73 L413.33,387.06 L413.80,387.38 L414.28,387.72 L414.76,388.05 L415.23,388.39 L415.71,388.74 L416.19,389.08 L416.67,389.44 L417.15,389.79 L417.63,390.15 L418.11,390.51 L418.59,390.89 L419.07,391.27 L419.56,391.66 L420.05,392.05 L420.55,392.46 L421.05,392.87 L421.55,393.28 L422.05,393.70 L422.55,394.13 L423.05,394.55 L423.56,394.98 L424.06,395.41 L424.56,395.85 L425.06,396.28 L425.56,396.71 L426.06,397.14 L426.55,397.57 L427.04,397.99 L427.53,398.41 L428.02,398.83 L428.50,399.24 L428.97,399.64 L429.44,400.04 L429.90,400.43 L430.35,400.81 L430.79,401.19 L431.24,401.56 L431.68,401.94 L432.12,402.31 L432.55,402.68 L432.98,403.04 L433.41,403.40 L433.83,403.76 L434.25,404.12 L434.67,404.48 L435.08,404.83 L435.49,405.18 L435.89,405.53 L436.30,405.87 L436.69,406.21 L437.09,406.55 L437.48,406.89 L437.87,407.22 L438.25,407.55 L438.64,407.88 L439.01,408.21 L439.39,408.53 L439.75,408.85 L440.10,409.15 L440.44,409.44 L440.76,409.72 L441.07,409.99 L441.38,410.26 L441.67,410.51 L441.96,410.77 L442.25,411.02 L442.54,411.27 L442.82,411.52 L443.11,411.77 L443.40,412.03 L443.69,412.29 L444.00,412.55 L444.31,412.83 L444.63,413.11 L444.97,413.41 L445.32,413.72 L445.68,414.04 L446.06,414.38 L446.46,414.74 L446.89,415.12 L447.33,415.51 L447.81,415.93 L448.30,416.37 L448.80,416.81 L449.32,417.26 L449.85,417.72 L450.39,418.19 L450.94,418.67 L451.51,419.16 L452.08,419.66 L452.66,420.16 L453.24,420.68 L453.84,421.20 L454.44,421.73 L455.04,422.26 L455.65,422.80 L456.26,423.35 L456.88,423.91 L457.49,424.46 L458.11,425.03 L458.73,425.60 L459.34,426.17 L459.96,426.75 L460.57,427.34 L461.17,427.92 L461.76,428.50 L462.33,429.07 L462.90,429.64 L463.45,430.22 L464.01,430.80 L464.56,431.39 L465.11,431.99 L465.67,432.60 L466.23,433.21 L466.81,433.84 L467.39,434.49 L468.00,435.14 L468.61,435.81 L469.25,436.50 L469.91,437.21 L470.59,437.93 L471.30,438.68 L472.04,439.44 L472.81,440.22 L473.61,441.03 L474.44,441.86 L475.32,442.72 L476.23,443.60 L477.19,444.50 L478.19,445.43 L479.23,446.39 L480.30,447.38 L481.42,448.40 L482.57,449.44 L483.76,450.51 L484.97,451.60 L486.21,452.71 L487.47,453.83 L488.76,454.97 L490.06,456.12 L491.38,457.28 L492.70,458.45 L494.04,459.62 L495.38,460.80 L496.73,461.97 L498.08,463.15 L499.42,464.32 L500.76,465.49 L502.08,466.65 L503.40,467.80 L504.70,468.94 L505.98,470.06 L507.24,471.16 L508.48,472.25 L509.73,473.35 L510.97,474.46 L512.22,475.58 L513.47,476.71 L514.73,477.84 L515.98,478.98 L517.24,480.12 L518.50,481.26 L519.77,482.40 L521.03,483.53 L522.30,484.67 L523.57,485.80 L524.84,486.92 L526.12,488.03 L527.39,489.13 L528.67,490.23 L529.95,491.31 L531.23,492.37 L532.51,493.42 L533.79,494.45 L535.08,495.47 L536.36,496.46 L537.65,497.43 L538.93,498.38 L540.21,499.30 L541.49,500.21 L542.76,501.09 L544.03,501.96 L545.30,502.81 L546.57,503.64 L547.84,504.46 L549.10,505.27 L550.36,506.06 L551.62,506.84 L552.88,507.61 L554.14,508.37 L555.39,509.12 L556.64,509.86 L557.90,510.59 L559.15,511.31 L560.39,512.03 L561.64,512.75 L562.89,513.46 L564.13,514.17 L565.37,514.88 L566.62,515.58 L567.86,516.29 L569.12,517.00 L570.38,517.71 L571.65,518.42 L572.93,519.13 L574.21,519.83 L575.49,520.53 L576.78,521.23 L578.07,521.92 L579.35,522.61 L580.64,523.29 L581.93,523.96 L583.22,524.63 L584.50,525.29 L585.78,525.94 L587.06,526.58 L588.33,527.22 L589.59,527.84 L590.85,528.45 L592.11,529.05 L593.35,529.64 L594.59,530.21 L595.81,530.77 L597.03,531.32 L598.23,531.85 L599.40,532.36 L600.54,532.86 L601.66,533.34 L602.77,533.81 L603.86,534.28 L604.94,534.73 L606.01,535.17 L607.07,535.60 L608.13,536.02 L609.19,536.43 L610.25,536.83 L611.32,537.23 L612.39,537.61 L613.47,537.99 L614.56,538.36 L615.67,538.72 L616.79,539.07 L617.93,539.42 L619.09,539.76 L620.27,540.09 L621.48,540.42 L622.72,540.74 L623.99,541.05 L625.30,541.36 L626.69,541.67 L628.16,541.98 L629.70,542.27 L631.28,542.56 L632.92,542.83 L634.59,543.10 L636.29,543.37 L638.01,543.62 L639.75,543.87 L641.48,544.10 L643.22,544.33 L644.93,544.56 L646.62,544.77 L648.28,544.97 L649.89,545.17 L651.44,545.36 L652.94,545.54 L654.36,545.71 L655.70,545.87 L656.94,546.01 L658.08,546.15 L659.11,546.28 L660.00,546.40 L660.78,546.51 L662.02,537.49 L661.20,537.38 L660.24,537.26 L659.18,537.13 L658.02,536.99 L656.76,536.85 L655.41,536.69 L653.99,536.53 L652.50,536.36 L650.96,536.18 L649.36,535.99 L647.72,535.80 L646.06,535.59 L644.37,535.38 L642.67,535.16 L640.97,534.94 L639.28,534.71 L637.61,534.47 L635.97,534.22 L634.37,533.97 L632.81,533.71 L631.32,533.45 L629.89,533.18 L628.55,532.91 L627.30,532.64 L626.09,532.35 L624.90,532.06 L623.75,531.77 L622.63,531.47 L621.53,531.17 L620.46,530.86 L619.41,530.55 L618.37,530.22 L617.35,529.90 L616.34,529.56 L615.34,529.22 L614.35,528.86 L613.35,528.50 L612.36,528.13 L611.36,527.74 L610.36,527.35 L609.34,526.95 L608.32,526.53 L607.28,526.10 L606.22,525.66 L605.14,525.20 L604.04,524.73 L602.92,524.25 L601.77,523.75 L600.61,523.24 L599.44,522.73 L598.26,522.19 L597.07,521.64 L595.87,521.08 L594.66,520.51 L593.44,519.92 L592.21,519.32 L590.97,518.72 L589.73,518.10 L588.48,517.47 L587.22,516.83 L585.96,516.19 L584.70,515.53 L583.44,514.87 L582.18,514.20 L580.92,513.53 L579.65,512.85 L578.39,512.17 L577.13,511.48 L575.88,510.80 L574.63,510.10 L573.38,509.41 L572.14,508.71 L570.89,508.01 L569.65,507.31 L568.41,506.61 L567.17,505.92 L565.93,505.22 L564.70,504.52 L563.47,503.81 L562.24,503.11 L561.01,502.40 L559.79,501.68 L558.56,500.96 L557.34,500.23 L556.12,499.49 L554.91,498.74 L553.69,497.99 L552.47,497.22 L551.26,496.44 L550.04,495.64 L548.83,494.84 L547.61,494.02 L546.40,493.18 L545.18,492.33 L543.97,491.46 L542.75,490.57 L541.53,489.66 L540.32,488.73 L539.09,487.77 L537.87,486.79 L536.64,485.79 L535.40,484.77 L534.16,483.73 L532.92,482.68 L531.68,481.61 L530.43,480.53 L529.18,479.44 L527.92,478.33 L526.67,477.22 L525.41,476.10 L524.15,474.97 L522.89,473.84 L521.63,472.71 L520.36,471.58 L519.10,470.44 L517.83,469.31 L516.56,468.19 L515.30,467.06 L514.03,465.95 L512.76,464.84 L511.49,463.74 L510.20,462.62 L508.89,461.49 L507.57,460.34 L506.24,459.19 L504.90,458.03 L503.55,456.86 L502.20,455.69 L500.86,454.52 L499.51,453.36 L498.18,452.19 L496.85,451.04 L495.53,449.89 L494.24,448.75 L492.96,447.63 L491.70,446.52 L490.47,445.43 L489.26,444.36 L488.09,443.31 L486.95,442.29 L485.85,441.29 L484.79,440.33 L483.78,439.39 L482.81,438.50 L481.89,437.64 L481.02,436.81 L480.19,436.00 L479.39,435.22 L478.63,434.46 L477.90,433.72 L477.20,432.99 L476.52,432.29 L475.86,431.60 L475.23,430.92 L474.61,430.26 L474.00,429.61 L473.41,428.96 L472.82,428.33 L472.24,427.70 L471.66,427.07 L471.09,426.45 L470.51,425.83 L469.92,425.20 L469.33,424.58 L468.72,423.96 L468.10,423.34 L467.47,422.71 L466.83,422.08 L466.18,421.46 L465.53,420.85 L464.88,420.24 L464.24,419.64 L463.59,419.05 L462.94,418.46 L462.30,417.89 L461.66,417.32 L461.03,416.75 L460.40,416.20 L459.78,415.65 L459.16,415.11 L458.55,414.59 L457.96,414.07 L457.37,413.56 L456.79,413.06 L456.22,412.57 L455.67,412.10 L455.13,411.63 L454.61,411.18 L454.10,410.73 L453.60,410.31 L453.13,409.89 L452.67,409.49 L452.22,409.09 L451.80,408.72 L451.39,408.36 L451.01,408.02 L450.64,407.70 L450.28,407.39 L449.94,407.09 L449.62,406.80 L449.30,406.52 L448.99,406.25 L448.69,405.99 L448.39,405.73 L448.10,405.47 L447.81,405.22 L447.52,404.97 L447.22,404.71 L446.93,404.46 L446.62,404.20 L446.32,403.93 L446.00,403.66 L445.67,403.38 L445.33,403.09 L444.98,402.78 L444.61,402.47 L444.23,402.14 L443.85,401.81 L443.46,401.48 L443.07,401.15 L442.68,400.82 L442.28,400.48 L441.88,400.14 L441.48,399.80 L441.07,399.45 L440.66,399.10 L440.25,398.75 L439.83,398.40 L439.41,398.04 L438.99,397.68 L438.56,397.32 L438.13,396.96 L437.70,396.59 L437.26,396.22 L436.82,395.85 L436.37,395.48 L435.92,395.10 L435.47,394.72 L435.02,394.34 L434.56,393.96 L434.11,393.58 L433.64,393.19 L433.18,392.79 L432.70,392.38 L432.22,391.97 L431.73,391.55 L431.23,391.13 L430.74,390.70 L430.23,390.27 L429.72,389.83 L429.21,389.39 L428.69,388.95 L428.17,388.52 L427.82,388.22 L427.94,388.30 L428.88,388.94 L429.82,389.59 L430.76,390.24 L431.70,390.89 L432.63,391.53 L433.56,392.17 L434.48,392.81 L435.40,393.43 L436.31,394.05 L437.21,394.66 L438.10,395.25 L438.98,395.82 L439.84,396.38 L440.68,396.92 L441.49,397.43 L442.30,397.94 L443.08,398.43 L443.86,398.92 L444.62,399.39 L445.38,399.86 L446.12,400.32 L446.86,400.77 L447.59,401.21 L448.32,401.66 L449.04,402.09 L449.76,402.53 L450.48,402.96 L451.20,403.40 L451.92,403.83 L452.64,404.27 L453.36,404.71 L454.10,405.15 L454.83,405.60 L455.58,406.05 L456.33,406.51 L457.10,406.98 L457.88,407.46 L458.65,407.94 L459.41,408.42 L460.17,408.89 L460.93,409.37 L461.68,409.85 L462.43,410.34 L463.19,410.82 L463.95,411.31 L464.72,411.80 L465.49,412.30 L466.27,412.80 L467.06,413.31 L467.87,413.82 L468.69,414.34 L469.52,414.86 L470.37,415.39 L471.24,415.92 L472.13,416.47 L473.04,417.02 L473.98,417.57 L474.94,418.14 L475.93,418.71 L476.94,419.30 L477.99,419.89 L479.05,420.49 L480.14,421.10 L481.27,421.73 L482.42,422.37 L483.60,423.03 L484.80,423.69 L486.03,424.37 L487.27,425.05 L488.54,425.74 L489.82,426.43 L491.11,427.13 L492.42,427.83 L493.73,428.53 L495.05,429.23 L496.38,429.92 L497.71,430.61 L499.04,431.30 L500.38,431.98 L501.70,432.65 L503.03,433.30 L504.35,433.95 L505.66,434.58 L506.96,435.20 L508.24,435.80 L509.50,436.39 L510.76,436.97 L512.02,437.55 L513.29,438.13 L514.56,438.71 L515.83,439.28 L517.10,439.85 L518.38,440.41 L519.66,440.97 L520.94,441.52 L522.22,442.07 L523.50,442.61 L524.78,443.13 L526.07,443.65 L527.36,444.16 L528.65,444.66 L529.94,445.15 L531.23,445.63 L532.52,446.09 L533.82,446.54 L535.11,446.98 L536.41,447.40 L537.71,447.81 L539.01,448.20 L540.31,448.57 L541.61,448.93 L542.91,449.26 L544.20,449.58 L545.49,449.88 L546.78,450.16 L548.06,450.43 L549.34,450.68 L550.62,450.93 L551.89,451.16 L553.16,451.38 L554.42,451.59 L555.69,451.80 L556.94,451.99 L558.20,452.18 L559.45,452.37 L560.70,452.55 L561.95,452.73 L563.19,452.90 L564.43,453.08 L565.67,453.25 L566.90,453.43 L568.14,453.61 L569.37,453.79 L570.63,453.98 L571.90,454.16 L573.17,454.34 L574.45,454.52 L575.73,454.70 L577.01,454.87 L578.30,455.04 L579.58,455.20 L580.87,455.36 L582.16,455.52 L583.44,455.68 L584.73,455.83 L586.01,455.97 L587.28,456.12 L588.55,456.25 L589.82,456.39 L591.08,456.52 L592.34,456.64 L593.58,456.76 L594.82,456.88 L596.05,456.99 L597.26,457.10 L598.47,457.20 L599.67,457.30 L600.85,457.39 L602.01,457.47 L603.14,457.54 L604.26,457.61 L605.35,457.66 L606.43,457.72 L607.50,457.76 L608.56,457.81 L609.61,457.84 L610.65,457.88 L611.69,457.91 L612.73,457.94 L613.77,457.96 L614.82,457.99 L615.87,458.01 L616.93,458.03 L618.01,458.05 L619.11,458.08 L620.22,458.10 L621.35,458.13 L622.51,458.16 L623.70,458.19 L624.91,458.23 L626.17,458.27 L627.49,458.31 L628.89,458.36 L630.37,458.40 L631.92,458.45 L633.51,458.50 L635.15,458.55 L636.82,458.61 L638.52,458.66 L640.23,458.71 L641.95,458.76 L643.67,458.82 L645.37,458.87 L647.05,458.92 L648.69,458.97 L650.30,459.02 L651.85,459.06 L653.34,459.11 L654.76,459.15 L656.10,459.19 L657.35,459.23 L658.51,459.26 L659.55,459.30 L660.47,459.32 L661.27,459.35 L661.53,450.25 L660.73,450.23 L659.80,450.21 L658.76,450.18 L657.61,450.15 L656.35,450.12 L655.01,450.08 L653.59,450.05 L652.10,450.01 L650.55,449.97 L648.94,449.93 L647.30,449.89 L645.62,449.84 L643.92,449.80 L642.21,449.76 L640.49,449.71 L638.78,449.67 L637.08,449.62 L635.41,449.58 L633.77,449.53 L632.18,449.49 L630.64,449.45 L629.16,449.41 L627.76,449.37 L626.43,449.33 L625.17,449.30 L623.93,449.27 L622.72,449.24 L621.55,449.22 L620.40,449.19 L619.28,449.17 L618.18,449.16 L617.10,449.14 L616.04,449.12 L614.99,449.10 L613.96,449.08 L612.93,449.06 L611.92,449.04 L610.90,449.02 L609.89,448.99 L608.87,448.96 L607.85,448.92 L606.82,448.88 L605.79,448.83 L604.74,448.78 L603.67,448.72 L602.58,448.66 L601.47,448.59 L600.33,448.50 L599.17,448.42 L597.99,448.32 L596.81,448.22 L595.61,448.12 L594.40,448.01 L593.18,447.90 L591.95,447.78 L590.71,447.66 L589.47,447.54 L588.22,447.41 L586.97,447.27 L585.71,447.14 L584.45,446.99 L583.19,446.85 L581.93,446.70 L580.66,446.55 L579.40,446.39 L578.13,446.23 L576.87,446.07 L575.62,445.90 L574.36,445.73 L573.11,445.56 L571.87,445.39 L570.63,445.21 L569.37,445.03 L568.12,444.85 L566.87,444.68 L565.62,444.51 L564.38,444.34 L563.14,444.17 L561.91,444.00 L560.68,443.83 L559.46,443.65 L558.23,443.47 L557.02,443.29 L555.80,443.10 L554.59,442.90 L553.38,442.69 L552.17,442.48 L550.97,442.26 L549.77,442.02 L548.57,441.78 L547.37,441.52 L546.17,441.25 L544.98,440.96 L543.78,440.66 L542.59,440.34 L541.39,440.00 L540.19,439.65 L538.98,439.27 L537.77,438.89 L536.56,438.48 L535.34,438.07 L534.12,437.63 L532.89,437.19 L531.66,436.73 L530.43,436.26 L529.20,435.78 L527.96,435.28 L526.73,434.78 L525.49,434.27 L524.24,433.75 L523.00,433.22 L521.75,432.68 L520.51,432.14 L519.26,431.59 L518.01,431.03 L516.76,430.47 L515.51,429.91 L514.26,429.34 L513.01,428.77 L511.76,428.20 L510.52,427.62 L509.27,427.03 L508.00,426.42 L506.72,425.80 L505.43,425.17 L504.13,424.52 L502.82,423.86 L501.52,423.20 L500.21,422.53 L498.91,421.85 L497.61,421.18 L496.31,420.49 L495.02,419.81 L493.74,419.13 L492.48,418.45 L491.23,417.78 L490.00,417.11 L488.78,416.45 L487.59,415.79 L486.42,415.15 L485.27,414.52 L484.16,413.90 L483.07,413.30 L482.01,412.71 L481.00,412.14 L480.03,411.59 L479.07,411.04 L478.15,410.50 L477.25,409.97 L476.37,409.45 L475.51,408.93 L474.66,408.41 L473.84,407.90 L473.03,407.40 L472.23,406.90 L471.44,406.40 L470.66,405.91 L469.88,405.42 L469.11,404.93 L468.35,404.44 L467.58,403.96 L466.82,403.47 L466.05,402.98 L465.28,402.50 L464.50,402.01 L463.72,401.52 L462.93,401.03 L462.12,400.54 L461.33,400.06 L460.55,399.58 L459.78,399.12 L459.03,398.66 L458.28,398.22 L457.54,397.77 L456.81,397.33 L456.08,396.90 L455.36,396.47 L454.64,396.04 L453.93,395.61 L453.21,395.18 L452.49,394.75 L451.77,394.32 L451.05,393.88 L450.32,393.44 L449.59,392.99 L448.85,392.54 L448.09,392.08 L447.33,391.61 L446.56,391.13 L445.77,390.64 L444.97,390.13 L444.16,389.62 L443.34,389.09 L442.50,388.55 L441.65,387.99 L440.77,387.41 L439.89,386.81 L439.64,386.64 L439.90,386.73 L441.03,387.08 L442.18,387.42 L443.33,387.75 L444.47,388.05 L445.62,388.35 L446.77,388.64 L447.93,388.92 L449.09,389.19 L450.26,389.45 L451.43,389.70 L452.61,389.95 L453.79,390.20 L454.98,390.43 L456.17,390.66 L457.37,390.89 L458.58,391.11 L459.79,391.33 L461.01,391.55 L462.23,391.76 L463.46,391.97 L464.69,392.18 L465.93,392.39 L467.18,392.60 L468.43,392.80 L469.69,393.01 L470.96,393.22 L472.23,393.43 L473.52,393.64 L474.82,393.85 L476.13,394.07 L477.46,394.29 L478.80,394.51 L480.15,394.73 L481.52,394.96 L482.90,395.18 L484.28,395.40 L485.67,395.61 L487.07,395.82 L488.48,396.03 L489.89,396.24 L491.31,396.44 L492.73,396.63 L494.15,396.82 L495.57,397.00 L497.00,397.17 L498.42,397.33 L499.85,397.48 L501.27,397.62 L502.69,397.75 L504.10,397.87 L505.50,397.98 L506.88,398.07 L508.26,398.17 L509.63,398.26 L511.01,398.35 L512.39,398.44 L513.77,398.52 L515.16,398.60 L516.55,398.67 L517.94,398.73 L519.33,398.78 L520.73,398.83 L522.13,398.86 L523.53,398.88 L524.94,398.89 L526.35,398.88 L527.76,398.86 L529.18,398.83 L530.60,398.78 L532.02,398.71 L533.44,398.62 L534.87,398.51 L536.30,398.38 L537.74,398.23 L539.18,398.05 L540.62,397.86 L542.06,397.63 L543.50,397.39 L544.93,397.12 L546.36,396.83 L547.78,396.53 L549.20,396.21 L550.62,395.87 L552.04,395.52 L553.45,395.15 L554.86,394.77 L556.26,394.38 L557.66,393.98 L559.06,393.58 L560.45,393.16 L561.84,392.74 L563.23,392.31 L564.62,391.88 L566.00,391.45 L567.38,391.02 L568.75,390.58 L570.12,390.15 L571.49,389.72 L572.87,389.29 L574.27,388.84 L575.69,388.38 L577.10,387.90 L578.50,387.41 L579.90,386.91 L581.30,386.40 L582.69,385.88 L584.08,385.36 L585.47,384.83 L586.85,384.30 L588.23,383.77 L589.61,383.24 L590.98,382.71 L592.35,382.18 L593.72,381.65 L595.08,381.13 L596.43,380.61 L597.79,380.11 L599.14,379.61 L600.49,379.12 L601.83,378.64 L603.17,378.17 L604.50,377.72 L605.84,377.28 L607.21,376.84 L608.60,376.39 L610.00,375.94 L611.41,375.49 L612.83,375.04 L614.24,374.59 L615.66,374.14 L617.08,373.70 L618.50,373.26 L619.92,372.83 L621.33,372.40 L622.73,371.99 L624.12,371.58 L625.50,371.19 L626.87,370.81 L628.22,370.44 L629.55,370.09 L630.86,369.75 L632.14,369.44 L633.41,369.14 L634.64,368.86 L635.85,368.60 L637.02,368.36 L638.15,368.15 L639.24,367.96 L640.35,367.80 L641.46,367.66 L642.59,367.54 L643.72,367.43 L644.85,367.35 L645.98,367.28 L647.10,367.23 L648.21,367.19 L649.30,367.16 L650.38,367.14 L651.44,367.13 L652.48,367.13 L653.49,367.13 L654.47,367.14 L655.42,367.16 L656.33,367.17 L657.21,367.19 L658.04,367.20 L658.84,367.22 L659.59,367.22 L660.30,367.22 L660.98,367.21 L661.56,367.20 L661.24,357.60 L660.75,357.62 L660.22,357.63 L659.61,357.63 L658.92,357.63 L658.16,357.63 L657.34,357.62 L656.47,357.61 L655.54,357.60 L654.56,357.59 L653.53,357.59 L652.47,357.59 L651.37,357.59 L650.23,357.61 L649.07,357.64 L647.88,357.68 L646.66,357.73 L645.42,357.80 L644.17,357.88 L642.90,357.99 L641.62,358.11 L640.33,358.26 L639.04,358.43 L637.74,358.63 L636.45,358.85 L635.18,359.10 L633.89,359.37 L632.58,359.66 L631.25,359.97 L629.90,360.30 L628.53,360.65 L627.15,361.02 L625.75,361.39 L624.35,361.79 L622.93,362.19 L621.50,362.61 L620.07,363.04 L618.63,363.47 L617.19,363.92 L615.74,364.37 L614.30,364.82 L612.86,365.28 L611.42,365.74 L609.99,366.21 L608.56,366.67 L607.14,367.14 L605.74,367.60 L604.34,368.06 L602.96,368.52 L601.56,368.99 L600.15,369.47 L598.75,369.97 L597.35,370.48 L595.95,371.00 L594.56,371.52 L593.17,372.05 L591.79,372.59 L590.41,373.13 L589.03,373.67 L587.66,374.21 L586.29,374.75 L584.93,375.29 L583.56,375.82 L582.20,376.35 L580.85,376.88 L579.50,377.40 L578.15,377.90 L576.81,378.40 L575.47,378.89 L574.13,379.37 L572.80,379.83 L571.47,380.28 L570.13,380.71 L568.77,381.15 L567.39,381.59 L566.02,382.03 L564.65,382.48 L563.29,382.92 L561.93,383.35 L560.57,383.78 L559.21,384.21 L557.86,384.63 L556.51,385.04 L555.17,385.44 L553.83,385.83 L552.49,386.21 L551.16,386.58 L549.82,386.93 L548.50,387.27 L547.17,387.60 L545.85,387.90 L544.54,388.19 L543.23,388.47 L541.92,388.72 L540.62,388.95 L539.32,389.16 L538.02,389.35 L536.72,389.51 L535.42,389.66 L534.12,389.78 L532.81,389.89 L531.51,389.98 L530.19,390.05 L528.88,390.11 L527.57,390.15 L526.25,390.18 L524.92,390.19 L523.60,390.19 L522.27,390.18 L520.94,390.16 L519.61,390.12 L518.27,390.08 L516.93,390.03 L515.58,389.97 L514.24,389.91 L512.89,389.83 L511.53,389.76 L510.18,389.68 L508.82,389.59 L507.45,389.51 L506.10,389.42 L504.75,389.33 L503.41,389.23 L502.06,389.11 L500.70,388.99 L499.33,388.85 L497.96,388.70 L496.58,388.55 L495.21,388.38 L493.83,388.21 L492.44,388.03 L491.06,387.84 L489.68,387.65 L488.31,387.46 L486.93,387.26 L485.56,387.05 L484.19,386.85 L482.83,386.64 L481.48,386.43 L480.14,386.21 L478.80,386.00 L477.47,385.79 L476.16,385.58 L474.86,385.38 L473.57,385.17 L472.29,384.97 L471.02,384.77 L469.76,384.57 L468.52,384.37 L467.28,384.18 L466.05,383.98 L464.83,383.78 L463.62,383.58 L462.41,383.38 L461.22,383.17 L460.04,382.97 L458.87,382.76 L457.70,382.55 L456.54,382.33 L455.40,382.11 L454.26,381.88 L453.13,381.65 L452.01,381.42 L450.90,381.17 L449.79,380.92 L448.70,380.67 L447.61,380.40 L446.54,380.13 L445.47,379.85 L444.42,379.57 L443.39,379.27 L442.35,378.95 L441.31,378.62 L440.28,378.28 L439.25,377.93 L438.23,377.57 L437.20,377.20 L436.18,376.82 L435.17,376.44 L434.15,376.05 L433.14,375.66 L432.14,375.27 L431.13,374.88 L430.13,374.49 L429.13,374.10 L428.14,373.71 L427.15,373.33 L426.16,372.95 L425.18,372.58 L424.20,372.22 L423.22,371.87 L422.24,371.53 L421.27,371.20 L420.33,370.89 L419.42,370.60 L418.51,370.31 L417.62,370.03 L416.74,369.75 L415.87,369.48 L415.02,369.22 L414.17,368.96 L413.33,368.71 L412.49,368.47 L411.67,368.22 L410.84,367.98 L410.03,367.75 L409.21,367.51 L408.41,367.28 L407.60,367.05 L406.79,366.82 L405.98,366.60 L405.18,366.37 L404.37,366.14 L403.55,365.91 L402.92,365.73 L403.14,364.84 L402.62,364.71 L402.01,364.58Z"/>
<path d="M174.30,237.00 L174.30,237.96 L174.30,239.11 L174.30,240.44 L174.30,241.94 L174.30,243.57 L174.30,245.33 L174.30,247.19 L174.30,249.15 L174.30,251.17 L174.30,253.25 L174.30,255.37 L174.30,257.50 L174.30,259.63 L174.30,261.75 L174.30,263.83 L174.30,265.85 L174.30,267.81 L174.30,269.67 L174.30,271.43 L174.30,273.06 L174.30,274.56 L174.30,275.89 L174.30,277.04 L174.30,278.00 L170.90,278.08 L178.37,285.30 L185.70,277.92 L182.30,278.00 L182.30,277.04 L182.30,275.89 L182.30,274.56 L182.30,273.06 L182.30,271.43 L182.30,269.67 L182.30,267.81 L182.30,265.85 L182.30,263.83 L182.30,261.75 L182.30,259.63 L182.30,257.50 L182.30,255.37 L182.30,253.25 L182.30,251.17 L182.30,249.15 L182.30,247.19 L182.30,245.33 L182.30,243.57 L182.30,241.94 L182.30,240.44 L182.30,239.11 L182.30,237.96 L182.30,237.00 L174.30,237.00Z"/>
<path d="M201.30,287.80 L201.30,286.86 L201.30,285.73 L201.30,284.43 L201.30,282.97 L201.30,281.37 L201.30,279.65 L201.30,277.83 L201.30,275.92 L201.30,273.94 L201.30,271.90 L201.30,269.84 L201.30,267.75 L201.30,265.66 L201.30,263.60 L201.30,261.56 L201.30,259.58 L201.30,257.67 L201.30,255.85 L201.30,254.13 L201.30,252.53 L201.30,251.07 L201.30,249.77 L201.30,248.64 L201.30,247.70 L205.10,247.70 L197.70,240.20 L190.30,247.70 L194.10,247.70 L194.10,248.64 L194.10,249.77 L194.10,251.07 L194.10,252.53 L194.10,254.13 L194.10,255.85 L194.10,257.67 L194.10,259.58 L194.10,261.56 L194.10,263.60 L194.10,265.66 L194.10,267.75 L194.10,269.84 L194.10,271.90 L194.10,273.94 L194.10,275.92 L194.10,277.83 L194.10,279.65 L194.10,281.37 L194.10,282.97 L194.10,284.43 L194.10,285.73 L194.10,286.86 L194.10,287.80 L201.30,287.80Z"/>
<path d="M134.54,416.51 L135.29,416.03 L136.15,415.46 L137.10,414.83 L138.13,414.14 L139.23,413.39 L140.41,412.58 L141.65,411.74 L142.95,410.85 L144.31,409.93 L145.71,408.98 L147.15,408.01 L148.63,407.03 L150.14,406.04 L151.67,405.04 L153.21,404.05 L154.76,403.07 L156.31,402.10 L157.86,401.16 L159.39,400.25 L160.90,399.37 L162.39,398.54 L163.84,397.75 L165.24,397.02 L166.61,396.35 L167.99,395.69 L169.38,395.04 L170.77,394.39 L172.16,393.75 L173.54,393.13 L174.93,392.51 L176.32,391.91 L177.70,391.33 L179.09,390.76 L180.48,390.21 L181.88,389.67 L183.27,389.16 L184.67,388.66 L186.08,388.18 L187.49,387.73 L188.90,387.30 L190.32,386.89 L191.74,386.51 L193.18,386.16 L194.62,385.83 L196.06,385.53 L197.52,385.25 L198.99,385.01 L200.46,384.80 L201.96,384.62 L203.48,384.48 L205.04,384.36 L206.63,384.28 L208.24,384.22 L209.88,384.20 L211.53,384.19 L213.20,384.22 L214.89,384.26 L216.58,384.33 L218.28,384.42 L219.98,384.53 L221.68,384.65 L223.37,384.80 L225.06,384.95 L226.74,385.12 L228.41,385.31 L230.06,385.50 L231.69,385.70 L233.30,385.91 L234.88,386.13 L236.44,386.35 L237.97,386.57 L239.45,386.80 L240.90,387.03 L242.34,387.27 L243.76,387.52 L245.16,387.78 L246.54,388.05 L247.92,388.33 L249.27,388.62 L250.61,388.93 L251.93,389.24 L253.24,389.57 L254.53,389.91 L255.81,390.26 L257.06,390.62 L258.31,391.00 L259.53,391.38 L260.74,391.78 L261.93,392.19 L263.11,392.62 L264.26,393.05 L265.40,393.50 L266.53,393.96 L267.64,394.44 L268.72,394.93 L269.79,395.42 L270.83,395.93 L271.84,396.46 L272.83,397.01 L273.81,397.59 L274.77,398.18 L275.72,398.79 L276.66,399.41 L277.59,400.06 L278.50,400.72 L279.40,401.39 L280.29,402.07 L281.17,402.77 L282.04,403.47 L282.91,404.19 L283.76,404.91 L284.61,405.64 L285.45,406.37 L286.29,407.11 L287.12,407.85 L287.95,408.59 L288.77,409.33 L289.59,410.07 L290.41,410.81 L291.22,411.53 L292.00,412.24 L292.76,412.94 L293.51,413.64 L294.25,414.35 L294.97,415.05 L295.69,415.76 L296.39,416.48 L297.09,417.19 L297.77,417.91 L298.45,418.63 L299.12,419.36 L299.78,420.08 L300.44,420.82 L301.09,421.55 L301.73,422.29 L302.37,423.03 L303.01,423.77 L303.64,424.52 L304.27,425.27 L304.89,426.03 L305.52,426.79 L306.14,427.55 L306.76,428.32 L307.38,429.09 L307.99,429.86 L308.61,430.66 L309.24,431.50 L309.88,432.36 L310.53,433.25 L311.18,434.16 L311.83,435.08 L312.48,436.01 L313.13,436.94 L313.77,437.88 L314.40,438.81 L315.02,439.72 L315.63,440.63 L316.22,441.51 L316.79,442.38 L317.34,443.21 L317.87,444.01 L318.38,444.78 L318.86,445.50 L319.31,446.18 L319.73,446.81 L320.11,447.39 L320.47,447.91 L320.78,448.36 L315.08,450.21 L329.99,461.21 L331.92,442.79 L326.22,444.64 L325.93,444.21 L325.60,443.72 L325.23,443.16 L324.82,442.54 L324.38,441.87 L323.91,441.14 L323.41,440.38 L322.88,439.57 L322.33,438.72 L321.75,437.85 L321.15,436.95 L320.54,436.03 L319.91,435.09 L319.27,434.14 L318.62,433.18 L317.96,432.21 L317.30,431.25 L316.63,430.30 L315.95,429.35 L315.28,428.42 L314.61,427.50 L313.94,426.61 L313.27,425.74 L312.62,424.91 L311.99,424.12 L311.36,423.33 L310.72,422.55 L310.09,421.77 L309.45,420.98 L308.80,420.21 L308.15,419.43 L307.50,418.65 L306.84,417.88 L306.17,417.11 L305.49,416.33 L304.81,415.57 L304.11,414.80 L303.41,414.03 L302.70,413.27 L301.98,412.50 L301.25,411.74 L300.50,410.98 L299.75,410.23 L298.98,409.47 L298.20,408.72 L297.41,407.96 L296.60,407.21 L295.78,406.47 L294.97,405.74 L294.17,405.01 L293.35,404.26 L292.52,403.51 L291.69,402.76 L290.84,402.00 L289.98,401.23 L289.11,400.47 L288.22,399.70 L287.32,398.93 L286.41,398.17 L285.48,397.41 L284.53,396.65 L283.57,395.91 L282.59,395.17 L281.58,394.44 L280.56,393.72 L279.52,393.02 L278.46,392.33 L277.38,391.66 L276.27,391.01 L275.14,390.37 L273.98,389.76 L272.81,389.18 L271.63,388.62 L270.44,388.08 L269.24,387.56 L268.02,387.05 L266.78,386.56 L265.53,386.08 L264.27,385.62 L262.99,385.17 L261.69,384.73 L260.38,384.31 L259.06,383.91 L257.72,383.52 L256.37,383.14 L255.00,382.77 L253.62,382.42 L252.22,382.08 L250.81,381.75 L249.38,381.44 L247.95,381.14 L246.49,380.85 L245.03,380.57 L243.55,380.30 L242.05,380.04 L240.55,379.80 L239.03,379.56 L237.47,379.33 L235.88,379.09 L234.26,378.87 L232.61,378.64 L230.93,378.43 L229.23,378.22 L227.51,378.02 L225.77,377.84 L224.02,377.67 L222.26,377.51 L220.49,377.37 L218.71,377.25 L216.93,377.15 L215.15,377.07 L213.37,377.01 L211.59,376.98 L209.83,376.98 L208.07,377.00 L206.33,377.05 L204.60,377.14 L202.89,377.25 L201.20,377.41 L199.54,377.60 L197.90,377.82 L196.28,378.08 L194.67,378.38 L193.08,378.70 L191.50,379.05 L189.94,379.43 L188.38,379.84 L186.84,380.28 L185.31,380.74 L183.79,381.22 L182.29,381.72 L180.79,382.24 L179.30,382.79 L177.82,383.35 L176.35,383.92 L174.89,384.51 L173.43,385.12 L171.99,385.74 L170.54,386.37 L169.11,387.01 L167.67,387.66 L166.25,388.31 L164.82,388.98 L163.39,389.65 L161.90,390.38 L160.36,391.17 L158.80,392.00 L157.22,392.88 L155.62,393.80 L154.02,394.75 L152.40,395.72 L150.79,396.71 L149.19,397.72 L147.60,398.73 L146.03,399.74 L144.49,400.75 L142.98,401.74 L141.51,402.72 L140.09,403.67 L138.72,404.59 L137.40,405.48 L136.16,406.32 L134.98,407.11 L133.89,407.85 L132.88,408.52 L131.97,409.12 L131.17,409.64 L130.46,410.09 L134.54,416.51Z"/>
<path d="M266.18,551.98 L265.79,551.44 L265.34,550.84 L264.84,550.17 L264.30,549.44 L263.72,548.66 L263.09,547.83 L262.43,546.96 L261.74,546.04 L261.02,545.08 L260.27,544.08 L259.51,543.05 L258.72,542.00 L257.92,540.92 L257.11,539.83 L256.30,538.71 L255.48,537.59 L254.66,536.46 L253.85,535.33 L253.05,534.20 L252.25,533.08 L251.48,531.96 L250.72,530.86 L249.99,529.78 L249.28,528.72 L248.57,527.65 L247.85,526.56 L247.13,525.47 L246.41,524.36 L245.68,523.26 L244.96,522.14 L244.23,521.02 L243.50,519.89 L242.77,518.75 L242.04,517.60 L241.32,516.45 L240.60,515.30 L239.88,514.13 L239.17,512.97 L238.46,511.79 L237.76,510.61 L237.07,509.43 L236.38,508.24 L235.71,507.04 L235.04,505.85 L234.38,504.64 L233.74,503.44 L233.10,502.22 L232.48,501.01 L231.86,499.78 L231.25,498.53 L230.64,497.26 L230.03,495.97 L229.42,494.67 L228.82,493.36 L228.23,492.04 L227.64,490.70 L227.05,489.36 L226.47,488.02 L225.90,486.67 L225.34,485.32 L224.78,483.97 L224.24,482.62 L223.70,481.27 L223.17,479.93 L222.65,478.59 L222.14,477.26 L221.64,475.94 L221.16,474.63 L220.68,473.34 L220.22,472.06 L219.77,470.80 L219.33,469.55 L218.90,468.33 L218.49,467.12 L218.10,465.93 L217.71,464.75 L217.33,463.58 L216.97,462.42 L216.62,461.27 L216.28,460.13 L215.95,458.99 L215.62,457.86 L215.31,456.74 L215.00,455.62 L214.70,454.49 L214.41,453.37 L214.13,452.25 L213.86,451.13 L213.58,450.00 L213.32,448.87 L213.06,447.73 L212.81,446.58 L212.56,445.43 L212.31,444.26 L212.07,443.08 L211.83,441.90 L211.60,440.70 L211.37,439.45 L211.15,438.15 L210.94,436.81 L210.73,435.43 L210.52,434.03 L210.32,432.60 L210.13,431.16 L209.95,429.72 L209.76,428.28 L209.59,426.85 L209.42,425.43 L209.26,424.04 L209.11,422.68 L208.96,421.35 L208.82,420.07 L208.68,418.84 L208.55,417.66 L208.43,416.55 L208.32,415.51 L208.21,414.54 L208.11,413.66 L208.01,412.86 L207.92,412.17 L214.08,412.02 L203.65,400.00 L194.72,413.18 L200.88,413.03 L200.95,413.69 L201.04,414.45 L201.13,415.31 L201.22,416.26 L201.33,417.30 L201.44,418.40 L201.56,419.58 L201.68,420.82 L201.81,422.11 L201.95,423.45 L202.09,424.83 L202.24,426.24 L202.40,427.68 L202.56,429.14 L202.73,430.61 L202.91,432.08 L203.09,433.55 L203.28,435.02 L203.48,436.47 L203.68,437.91 L203.89,439.31 L204.11,440.68 L204.34,442.02 L204.57,443.30 L204.81,444.53 L205.04,445.74 L205.29,446.94 L205.53,448.14 L205.79,449.33 L206.04,450.51 L206.31,451.68 L206.57,452.86 L206.85,454.03 L207.13,455.20 L207.42,456.37 L207.72,457.53 L208.03,458.71 L208.34,459.88 L208.67,461.06 L209.00,462.24 L209.35,463.43 L209.70,464.63 L210.07,465.84 L210.45,467.06 L210.83,468.28 L211.23,469.52 L211.65,470.78 L212.07,472.05 L212.51,473.33 L212.96,474.63 L213.42,475.95 L213.90,477.28 L214.39,478.63 L214.88,479.98 L215.39,481.35 L215.91,482.73 L216.44,484.11 L216.98,485.50 L217.53,486.89 L218.08,488.28 L218.65,489.67 L219.22,491.07 L219.81,492.46 L220.39,493.84 L220.99,495.22 L221.59,496.60 L222.20,497.96 L222.81,499.31 L223.43,500.66 L224.06,501.98 L224.69,503.29 L225.32,504.59 L225.96,505.88 L226.62,507.16 L227.29,508.44 L227.96,509.70 L228.65,510.96 L229.34,512.22 L230.05,513.46 L230.75,514.70 L231.47,515.93 L232.19,517.15 L232.91,518.36 L233.64,519.57 L234.37,520.76 L235.10,521.95 L235.83,523.12 L236.56,524.29 L237.29,525.45 L238.02,526.60 L238.75,527.74 L239.47,528.87 L240.19,529.99 L240.91,531.09 L241.61,532.19 L242.32,533.28 L243.05,534.40 L243.80,535.53 L244.58,536.69 L245.37,537.85 L246.18,539.01 L246.99,540.18 L247.81,541.35 L248.64,542.51 L249.46,543.66 L250.28,544.80 L251.09,545.92 L251.89,547.02 L252.67,548.10 L253.44,549.14 L254.18,550.15 L254.90,551.13 L255.58,552.06 L256.23,552.94 L256.85,553.77 L257.42,554.55 L257.95,555.27 L258.42,555.92 L258.85,556.51 L259.22,557.02 L266.18,551.98Z"/>
<path d="M94.15,481.81 L94.11,481.88 L94.03,482.00 L93.91,482.17 L93.77,482.39 L93.61,482.65 L93.43,482.95 L93.25,483.28 L93.06,483.65 L92.87,484.05 L92.69,484.49 L92.51,484.96 L92.35,485.46 L92.19,485.99 L92.03,486.57 L91.89,487.18 L91.76,487.84 L91.64,488.54 L91.52,489.30 L91.42,490.10 L91.33,490.95 L91.24,491.84 L91.16,492.76 L91.07,493.75 L90.98,494.79 L90.90,495.87 L90.81,497.01 L90.73,498.19 L90.64,499.42 L90.56,500.68 L90.48,501.99 L90.41,503.33 L90.34,504.70 L90.27,506.10 L90.22,507.52 L90.16,508.97 L90.12,510.45 L90.08,511.94 L90.05,513.45 L90.03,514.97 L90.01,516.51 L90.01,518.05 L90.02,519.60 L90.04,521.15 L90.07,522.70 L90.11,524.26 L90.15,525.84 L90.20,527.46 L90.25,529.11 L90.31,530.78 L90.38,532.49 L90.45,534.21 L90.53,535.96 L90.62,537.73 L90.71,539.51 L90.82,541.31 L90.93,543.12 L91.05,544.94 L91.18,546.77 L91.32,548.60 L91.47,550.44 L91.64,552.28 L91.81,554.11 L92.00,555.95 L92.19,557.77 L92.41,559.59 L92.63,561.40 L92.87,563.20 L93.12,564.99 L93.39,566.76 L93.68,568.54 L93.98,570.32 L94.30,572.10 L94.63,573.88 L94.98,575.66 L95.33,577.44 L95.70,579.22 L96.08,580.99 L96.47,582.77 L96.87,584.54 L97.28,586.30 L97.69,588.06 L98.11,589.82 L98.53,591.57 L98.96,593.32 L99.39,595.06 L99.82,596.79 L100.26,598.52 L100.69,600.24 L101.13,601.95 L101.56,603.65 L101.99,605.35 L102.42,607.04 L102.86,608.76 L103.33,610.54 L103.81,612.36 L104.32,614.22 L104.84,616.10 L105.37,617.99 L105.91,619.90 L106.46,621.81 L107.01,623.71 L107.56,625.60 L108.10,627.47 L108.65,629.31 L109.18,631.12 L109.70,632.87 L110.21,634.58 L110.70,636.22 L111.17,637.80 L111.62,639.30 L112.05,640.71 L112.44,642.03 L112.80,643.25 L113.13,644.36 L113.42,645.35 L113.68,646.22 L121.92,643.78 L121.66,642.90 L121.35,641.89 L121.01,640.77 L120.63,639.54 L120.22,638.22 L119.79,636.81 L119.32,635.32 L118.84,633.75 L118.33,632.11 L117.81,630.42 L117.28,628.67 L116.73,626.89 L116.17,625.06 L115.61,623.21 L115.05,621.34 L114.49,619.46 L113.93,617.58 L113.38,615.70 L112.84,613.83 L112.31,611.99 L111.80,610.17 L111.31,608.39 L110.83,606.65 L110.38,604.96 L109.94,603.29 L109.50,601.60 L109.05,599.90 L108.60,598.20 L108.15,596.49 L107.71,594.78 L107.26,593.07 L106.82,591.35 L106.38,589.63 L105.95,587.90 L105.52,586.18 L105.10,584.45 L104.68,582.72 L104.28,580.99 L103.88,579.26 L103.50,577.54 L103.12,575.81 L102.76,574.09 L102.41,572.37 L102.07,570.65 L101.75,568.93 L101.44,567.22 L101.15,565.52 L100.88,563.81 L100.62,562.10 L100.37,560.38 L100.14,558.63 L99.92,556.87 L99.71,555.10 L99.52,553.32 L99.33,551.54 L99.16,549.75 L98.99,547.96 L98.84,546.16 L98.69,544.38 L98.56,542.59 L98.43,540.82 L98.32,539.06 L98.21,537.30 L98.11,535.57 L98.01,533.85 L97.92,532.15 L97.84,530.47 L97.77,528.82 L97.70,527.19 L97.64,525.59 L97.58,524.03 L97.53,522.50 L97.49,521.00 L97.45,519.50 L97.43,518.00 L97.42,516.51 L97.42,515.02 L97.43,513.54 L97.44,512.08 L97.47,510.63 L97.50,509.19 L97.54,507.78 L97.58,506.38 L97.64,505.02 L97.69,503.68 L97.75,502.37 L97.82,501.10 L97.88,499.86 L97.95,498.67 L98.03,497.51 L98.10,496.40 L98.18,495.34 L98.25,494.33 L98.33,493.38 L98.40,492.47 L98.47,491.65 L98.55,490.91 L98.62,490.26 L98.71,489.67 L98.79,489.14 L98.88,488.67 L98.98,488.26 L99.07,487.90 L99.16,487.59 L99.24,487.32 L99.33,487.09 L99.41,486.90 L99.48,486.74 L99.55,486.59 L99.62,486.46 L99.69,486.34 L99.77,486.21 L99.86,486.07 L99.97,485.90 L100.10,485.71 L100.24,485.48 L100.40,485.19 L100.57,484.86 L100.74,484.48 L100.84,484.19 L107.03,484.82 L99.63,471.86 L87.97,481.18 L94.15,481.81Z"/>
<path d="M288.35,763.76 L287.83,763.73 L287.23,763.69 L286.58,763.66 L285.87,763.62 L285.11,763.58 L284.30,763.54 L283.45,763.50 L282.55,763.46 L281.62,763.41 L280.66,763.36 L279.68,763.31 L278.67,763.26 L277.64,763.20 L276.60,763.13 L275.56,763.06 L274.51,762.99 L273.47,762.91 L272.43,762.82 L271.41,762.73 L270.40,762.63 L269.42,762.53 L268.47,762.42 L267.55,762.30 L266.66,762.18 L265.75,762.05 L264.85,761.92 L263.96,761.79 L263.10,761.67 L262.26,761.56 L261.43,761.44 L260.61,761.32 L259.80,761.20 L258.99,761.08 L258.19,760.95 L257.39,760.81 L256.59,760.66 L255.78,760.50 L254.96,760.33 L254.13,760.14 L253.28,759.93 L252.41,759.71 L251.52,759.47 L250.60,759.21 L249.65,758.92 L248.67,758.60 L247.66,758.26 L246.60,757.89 L245.49,757.49 L244.33,757.05 L243.12,756.58 L241.87,756.10 L240.59,755.60 L239.29,755.07 L237.95,754.53 L236.59,753.96 L235.20,753.38 L233.79,752.78 L232.37,752.15 L230.93,751.52 L229.48,750.86 L228.02,750.18 L226.55,749.49 L225.08,748.78 L223.61,748.06 L222.14,747.32 L220.67,746.56 L219.20,745.79 L217.74,745.00 L216.30,744.20 L214.87,743.38 L213.45,742.55 L212.06,741.71 L210.67,740.83 L209.24,739.91 L207.77,738.92 L206.27,737.90 L204.75,736.83 L203.22,735.72 L201.67,734.59 L200.11,733.43 L198.54,732.25 L196.98,731.06 L195.43,729.86 L193.88,728.66 L192.36,727.46 L190.85,726.27 L189.37,725.09 L187.91,723.93 L186.50,722.79 L185.12,721.68 L183.78,720.61 L182.49,719.58 L181.25,718.59 L180.07,717.64 L178.95,716.76 L177.90,715.93 L176.94,715.18 L176.04,714.47 L175.20,713.79 L174.42,713.15 L173.68,712.55 L172.99,711.97 L172.35,711.42 L171.74,710.90 L171.17,710.40 L170.63,709.93 L170.11,709.47 L169.62,709.03 L169.14,708.60 L168.68,708.19 L168.23,707.79 L167.79,707.39 L167.35,707.00 L166.91,706.62 L166.46,706.23 L166.01,705.85 L165.54,705.47 L165.06,705.08 L164.57,704.69 L164.06,704.30 L163.53,703.92 L163.01,703.54 L162.49,703.18 L161.97,702.82 L161.46,702.48 L160.95,702.15 L160.45,701.83 L159.96,701.52 L159.48,701.22 L159.01,700.94 L158.55,700.66 L158.10,700.40 L157.66,700.15 L157.25,699.91 L156.84,699.68 L156.46,699.46 L156.10,699.26 L155.75,699.07 L155.43,698.89 L155.14,698.72 L154.87,698.57 L154.63,698.43 L154.43,698.31 L154.24,698.19 L159.24,694.02 L145.50,694.24 L145.76,707.98 L150.76,703.81 L150.99,703.95 L151.26,704.11 L151.54,704.28 L151.83,704.45 L152.14,704.63 L152.46,704.82 L152.80,705.02 L153.15,705.22 L153.52,705.44 L153.90,705.66 L154.29,705.90 L154.69,706.14 L155.10,706.39 L155.52,706.65 L155.95,706.91 L156.38,707.19 L156.82,707.48 L157.26,707.77 L157.71,708.07 L158.16,708.38 L158.60,708.70 L159.05,709.02 L159.50,709.36 L159.94,709.70 L160.38,710.04 L160.79,710.38 L161.20,710.71 L161.60,711.05 L161.99,711.40 L162.39,711.75 L162.79,712.11 L163.20,712.48 L163.62,712.87 L164.05,713.27 L164.51,713.69 L164.98,714.13 L165.48,714.59 L166.01,715.08 L166.57,715.58 L167.16,716.12 L167.79,716.67 L168.46,717.26 L169.17,717.88 L169.93,718.53 L170.74,719.21 L171.61,719.93 L172.53,720.68 L173.50,721.47 L174.52,722.29 L175.60,723.18 L176.75,724.13 L177.96,725.13 L179.23,726.18 L180.55,727.28 L181.92,728.41 L183.32,729.57 L184.77,730.77 L186.24,731.98 L187.75,733.21 L189.28,734.45 L190.83,735.70 L192.39,736.95 L193.96,738.19 L195.55,739.42 L197.13,740.64 L198.71,741.83 L200.29,743.00 L201.85,744.14 L203.40,745.25 L204.94,746.31 L206.45,747.33 L207.94,748.29 L209.41,749.21 L210.89,750.12 L212.39,751.01 L213.90,751.88 L215.42,752.73 L216.94,753.56 L218.47,754.38 L219.99,755.18 L221.52,755.96 L223.04,756.72 L224.55,757.47 L226.05,758.19 L227.55,758.90 L229.03,759.58 L230.49,760.25 L231.93,760.90 L233.36,761.52 L234.75,762.13 L236.12,762.71 L237.47,763.28 L238.78,763.82 L240.06,764.34 L241.30,764.84 L242.51,765.31 L243.69,765.77 L244.85,766.20 L245.98,766.60 L247.07,766.97 L248.13,767.31 L249.17,767.62 L250.18,767.92 L251.16,768.18 L252.13,768.43 L253.07,768.66 L254.00,768.87 L254.91,769.07 L255.80,769.25 L256.69,769.42 L257.56,769.57 L258.42,769.72 L259.28,769.87 L260.14,770.00 L260.99,770.14 L261.84,770.27 L262.70,770.40 L263.56,770.54 L264.44,770.67 L265.34,770.82 L266.32,770.98 L267.34,771.12 L268.38,771.26 L269.44,771.39 L270.52,771.51 L271.60,771.63 L272.69,771.73 L273.79,771.83 L274.88,771.93 L275.96,772.02 L277.03,772.10 L278.08,772.18 L279.12,772.26 L280.12,772.33 L281.10,772.39 L282.04,772.45 L282.94,772.51 L283.79,772.56 L284.60,772.62 L285.34,772.67 L286.03,772.71 L286.64,772.76 L287.18,772.80 L287.65,772.84 L288.35,763.76Z"/>
<path d="M370.15,737.13 L370.16,736.67 L370.17,736.16 L370.20,735.56 L370.23,734.90 L370.27,734.17 L370.31,733.38 L370.36,732.53 L370.41,731.64 L370.45,730.71 L370.50,729.73 L370.55,728.73 L370.59,727.69 L370.63,726.63 L370.66,725.56 L370.68,724.46 L370.70,723.35 L370.70,722.24 L370.70,721.12 L370.68,720.00 L370.64,718.89 L370.59,717.78 L370.52,716.68 L370.43,715.60 L370.31,714.54 L370.19,713.53 L370.06,712.54 L369.91,711.56 L369.76,710.57 L369.59,709.59 L369.42,708.60 L369.23,707.62 L369.04,706.64 L368.83,705.65 L368.62,704.66 L368.39,703.67 L368.16,702.68 L367.91,701.67 L367.65,700.67 L367.39,699.65 L367.11,698.63 L366.82,697.60 L366.52,696.56 L366.21,695.51 L365.89,694.45 L365.57,693.38 L365.23,692.29 L364.88,691.19 L364.52,690.07 L364.15,688.94 L363.76,687.77 L363.37,686.57 L362.96,685.34 L362.54,684.09 L362.11,682.82 L361.66,681.52 L361.21,680.22 L360.74,678.90 L360.26,677.57 L359.77,676.23 L359.27,674.90 L358.76,673.56 L358.25,672.23 L357.72,670.90 L357.18,669.59 L356.63,668.29 L356.07,667.00 L355.51,665.73 L354.93,664.49 L354.35,663.27 L353.75,662.07 L353.15,660.91 L352.53,659.78 L351.90,658.67 L351.24,657.58 L350.56,656.51 L349.87,655.47 L349.16,654.44 L348.45,653.44 L347.72,652.46 L346.98,651.49 L346.24,650.55 L345.49,649.63 L344.74,648.73 L344.00,647.84 L343.26,646.98 L342.52,646.13 L341.79,645.31 L341.07,644.50 L340.36,643.71 L339.67,642.94 L338.99,642.19 L338.33,641.46 L337.69,640.75 L337.08,640.06 L336.49,639.38 L335.91,638.71 L335.33,638.04 L334.75,637.37 L334.18,636.73 L333.61,636.10 L333.06,635.50 L332.51,634.91 L331.98,634.35 L331.45,633.79 L330.93,633.26 L330.42,632.74 L329.93,632.24 L329.44,631.75 L328.97,631.28 L328.50,630.81 L328.05,630.36 L327.61,629.92 L327.18,629.50 L326.77,629.08 L326.36,628.67 L325.97,628.27 L325.59,627.88 L325.23,627.50 L324.88,627.12 L324.53,626.75 L324.20,626.37 L323.86,626.00 L323.54,625.62 L323.22,625.26 L322.91,624.89 L322.61,624.54 L322.31,624.19 L322.03,623.84 L321.75,623.50 L321.48,623.18 L321.23,622.85 L320.98,622.54 L320.73,622.24 L320.50,621.95 L320.28,621.66 L320.06,621.39 L319.86,621.13 L319.66,620.88 L319.48,620.64 L319.30,620.42 L319.13,620.20 L318.97,620.00 L318.81,619.81 L318.68,619.64 L323.45,615.36 L310.83,615.59 L308.75,628.04 L313.52,623.76 L313.64,623.91 L313.77,624.08 L313.91,624.26 L314.06,624.46 L314.23,624.68 L314.41,624.92 L314.60,625.18 L314.80,625.44 L315.02,625.73 L315.24,626.03 L315.48,626.34 L315.72,626.66 L315.98,626.99 L316.25,627.34 L316.53,627.69 L316.82,628.06 L317.11,628.43 L317.42,628.81 L317.74,629.20 L318.06,629.60 L318.40,630.00 L318.75,630.41 L319.10,630.83 L319.47,631.25 L319.85,631.68 L320.24,632.12 L320.63,632.55 L321.04,632.98 L321.45,633.42 L321.86,633.86 L322.29,634.30 L322.71,634.74 L323.15,635.19 L323.59,635.65 L324.04,636.11 L324.50,636.59 L324.96,637.07 L325.43,637.56 L325.90,638.07 L326.38,638.58 L326.87,639.11 L327.36,639.66 L327.87,640.22 L328.37,640.79 L328.89,641.38 L329.41,641.99 L329.94,642.62 L330.49,643.29 L331.07,643.99 L331.68,644.72 L332.31,645.45 L332.95,646.20 L333.61,646.95 L334.27,647.72 L334.95,648.50 L335.63,649.28 L336.31,650.08 L337.00,650.89 L337.69,651.71 L338.38,652.54 L339.06,653.39 L339.74,654.24 L340.42,655.11 L341.08,655.99 L341.73,656.88 L342.38,657.78 L343.00,658.69 L343.62,659.62 L344.21,660.55 L344.78,661.49 L345.34,662.45 L345.87,663.42 L346.39,664.42 L346.91,665.48 L347.43,666.57 L347.94,667.70 L348.45,668.86 L348.95,670.05 L349.45,671.27 L349.95,672.51 L350.43,673.77 L350.91,675.04 L351.39,676.32 L351.85,677.62 L352.31,678.91 L352.76,680.21 L353.19,681.51 L353.62,682.80 L354.04,684.08 L354.45,685.35 L354.85,686.61 L355.24,687.84 L355.62,689.06 L355.99,690.24 L356.34,691.40 L356.68,692.53 L357.01,693.62 L357.33,694.69 L357.64,695.75 L357.93,696.78 L358.22,697.80 L358.49,698.81 L358.76,699.80 L359.01,700.78 L359.25,701.75 L359.49,702.70 L359.71,703.65 L359.92,704.59 L360.12,705.51 L360.31,706.44 L360.49,707.35 L360.66,708.26 L360.83,709.16 L360.98,710.07 L361.12,710.97 L361.25,711.87 L361.38,712.76 L361.49,713.66 L361.59,714.57 L361.69,715.46 L361.76,716.34 L361.82,717.25 L361.86,718.19 L361.89,719.15 L361.90,720.14 L361.90,721.15 L361.89,722.17 L361.86,723.19 L361.83,724.22 L361.79,725.25 L361.74,726.26 L361.68,727.27 L361.62,728.26 L361.56,729.22 L361.50,730.17 L361.43,731.08 L361.37,731.96 L361.30,732.80 L361.25,733.60 L361.19,734.35 L361.14,735.06 L361.10,735.73 L361.07,736.34 L361.05,736.87 L370.15,737.13Z"/>
<path d="M902.92,396.44 L902.40,396.38 L901.79,396.32 L901.13,396.26 L900.41,396.20 L899.65,396.13 L898.84,396.07 L897.99,396.00 L897.11,395.93 L896.19,395.85 L895.24,395.77 L894.27,395.69 L893.28,395.60 L892.29,395.50 L891.28,395.39 L890.28,395.28 L889.28,395.16 L888.29,395.04 L887.32,394.90 L886.37,394.75 L885.46,394.60 L884.58,394.44 L883.74,394.27 L882.96,394.09 L882.22,393.91 L881.50,393.70 L880.76,393.49 L880.04,393.26 L879.32,393.02 L878.61,392.77 L877.90,392.51 L877.20,392.23 L876.50,391.95 L875.80,391.66 L875.11,391.36 L874.41,391.05 L873.72,390.73 L873.02,390.40 L872.33,390.06 L871.63,389.72 L870.93,389.37 L870.22,389.00 L869.51,388.64 L868.80,388.26 L868.08,387.88 L867.36,387.49 L866.63,387.09 L865.89,386.69 L865.16,386.29 L864.45,385.90 L863.76,385.50 L863.05,385.08 L862.34,384.65 L861.63,384.20 L860.91,383.74 L860.19,383.27 L859.46,382.78 L858.73,382.29 L857.99,381.79 L857.25,381.29 L856.50,380.77 L855.76,380.26 L855.00,379.74 L854.25,379.22 L853.49,378.70 L852.73,378.19 L851.96,377.67 L851.19,377.16 L850.41,376.66 L849.63,376.16 L848.85,375.67 L848.06,375.19 L847.28,374.73 L846.52,374.29 L845.77,373.86 L845.01,373.42 L844.26,372.99 L843.50,372.55 L842.75,372.12 L841.99,371.69 L841.23,371.26 L840.46,370.84 L839.70,370.42 L838.93,370.00 L838.17,369.59 L837.40,369.19 L836.62,368.79 L835.85,368.40 L835.08,368.01 L834.30,367.63 L833.52,367.26 L832.74,366.90 L831.95,366.55 L831.17,366.21 L830.38,365.87 L829.59,365.55 L828.80,365.24 L827.99,364.94 L827.18,364.65 L826.35,364.38 L825.53,364.12 L824.70,363.86 L823.87,363.62 L823.04,363.39 L822.22,363.17 L821.39,362.96 L820.57,362.75 L819.76,362.56 L818.95,362.37 L818.15,362.19 L817.36,362.02 L816.58,361.86 L815.82,361.70 L815.06,361.55 L814.33,361.41 L813.61,361.27 L812.92,361.13 L812.24,361.01 L811.59,360.88 L810.96,360.76 L810.34,360.65 L809.72,360.53 L809.09,360.42 L808.47,360.33 L807.87,360.24 L807.27,360.16 L806.69,360.09 L806.12,360.03 L805.56,359.97 L805.02,359.92 L804.49,359.87 L803.99,359.83 L803.49,359.80 L803.02,359.77 L802.56,359.74 L802.13,359.72 L801.71,359.70 L801.32,359.68 L800.95,359.66 L800.61,359.65 L800.29,359.63 L800.00,359.61 L799.74,359.60 L799.52,359.58 L799.31,359.57 L799.35,352.91 L784.90,362.09 L798.65,372.29 L798.69,365.63 L798.95,365.66 L799.24,365.69 L799.55,365.72 L799.87,365.75 L800.21,365.78 L800.56,365.80 L800.93,365.83 L801.31,365.86 L801.71,365.90 L802.12,365.93 L802.54,365.97 L802.98,366.01 L803.43,366.06 L803.90,366.11 L804.37,366.16 L804.86,366.22 L805.36,366.29 L805.86,366.36 L806.38,366.44 L806.90,366.53 L807.43,366.62 L807.96,366.72 L808.50,366.83 L809.06,366.95 L809.66,367.09 L810.28,367.23 L810.93,367.37 L811.60,367.52 L812.28,367.67 L812.97,367.83 L813.68,367.99 L814.40,368.16 L815.13,368.33 L815.87,368.51 L816.61,368.70 L817.36,368.89 L818.12,369.09 L818.88,369.29 L819.63,369.51 L820.39,369.73 L821.14,369.95 L821.89,370.19 L822.64,370.43 L823.37,370.68 L824.10,370.94 L824.81,371.20 L825.51,371.48 L826.20,371.76 L826.89,372.05 L827.59,372.36 L828.28,372.68 L828.98,373.01 L829.68,373.35 L830.38,373.70 L831.09,374.06 L831.79,374.43 L832.50,374.82 L833.21,375.20 L833.92,375.60 L834.63,376.01 L835.35,376.42 L836.07,376.84 L836.79,377.26 L837.51,377.69 L838.23,378.13 L838.95,378.57 L839.68,379.01 L840.41,379.46 L841.14,379.91 L841.87,380.36 L842.60,380.82 L843.32,381.27 L844.02,381.71 L844.72,382.16 L845.41,382.63 L846.12,383.11 L846.82,383.60 L847.54,384.11 L848.25,384.62 L848.97,385.14 L849.69,385.67 L850.42,386.20 L851.15,386.74 L851.88,387.28 L852.62,387.82 L853.36,388.36 L854.11,388.90 L854.86,389.44 L855.62,389.98 L856.38,390.51 L857.14,391.03 L857.91,391.55 L858.69,392.06 L859.47,392.56 L860.26,393.04 L861.04,393.51 L861.79,393.95 L862.53,394.38 L863.26,394.81 L863.99,395.23 L864.73,395.65 L865.46,396.07 L866.20,396.48 L866.94,396.89 L867.68,397.30 L868.43,397.70 L869.19,398.09 L869.95,398.48 L870.71,398.86 L871.48,399.24 L872.27,399.61 L873.06,399.97 L873.86,400.32 L874.67,400.66 L875.49,400.99 L876.32,401.31 L877.16,401.62 L878.01,401.92 L878.88,402.21 L879.78,402.49 L880.72,402.76 L881.71,403.02 L882.71,403.26 L883.74,403.48 L884.79,403.69 L885.85,403.89 L886.92,404.07 L888.00,404.24 L889.07,404.41 L890.14,404.56 L891.21,404.70 L892.25,404.84 L893.28,404.97 L894.29,405.09 L895.26,405.20 L896.20,405.31 L897.09,405.41 L897.94,405.50 L898.74,405.59 L899.47,405.67 L900.14,405.75 L900.73,405.83 L901.23,405.89 L901.68,405.96 L902.92,396.44Z"/>
<path d="M903.56,535.28 L903.07,535.16 L902.49,535.04 L901.87,534.92 L901.21,534.80 L900.51,534.67 L899.78,534.54 L899.00,534.40 L898.20,534.26 L897.37,534.11 L896.52,533.95 L895.64,533.79 L894.75,533.61 L893.85,533.43 L892.94,533.23 L892.02,533.03 L891.12,532.82 L890.22,532.59 L889.33,532.36 L888.46,532.11 L887.61,531.86 L886.80,531.59 L886.01,531.32 L885.27,531.04 L884.56,530.74 L883.82,530.41 L883.05,530.06 L882.28,529.70 L881.51,529.32 L880.73,528.92 L879.95,528.52 L879.17,528.09 L878.38,527.66 L877.60,527.22 L876.82,526.76 L876.05,526.29 L875.28,525.81 L874.51,525.32 L873.76,524.83 L873.01,524.32 L872.27,523.80 L871.53,523.28 L870.82,522.75 L870.11,522.21 L869.42,521.66 L868.74,521.11 L868.07,520.55 L867.43,519.99 L866.81,519.43 L866.21,518.87 L865.64,518.30 L865.08,517.72 L864.53,517.13 L864.00,516.52 L863.47,515.91 L862.96,515.27 L862.45,514.63 L861.94,513.97 L861.44,513.29 L860.94,512.60 L860.44,511.90 L859.94,511.18 L859.43,510.44 L858.93,509.70 L858.41,508.94 L857.90,508.16 L857.37,507.37 L856.83,506.57 L856.29,505.76 L855.73,504.94 L855.15,504.10 L854.56,503.25 L853.97,502.41 L853.38,501.58 L852.79,500.73 L852.19,499.86 L851.58,498.96 L850.97,498.04 L850.35,497.11 L849.73,496.16 L849.10,495.20 L848.46,494.22 L847.82,493.24 L847.18,492.25 L846.54,491.26 L845.89,490.27 L845.23,489.27 L844.58,488.28 L843.92,487.30 L843.27,486.32 L842.61,485.35 L841.95,484.39 L841.29,483.45 L840.62,482.52 L839.96,481.61 L839.30,480.72 L838.64,479.86 L837.99,479.02 L837.34,478.20 L836.69,477.38 L836.03,476.56 L835.38,475.76 L834.72,474.96 L834.06,474.16 L833.40,473.38 L832.74,472.61 L832.08,471.84 L831.42,471.09 L830.77,470.35 L830.11,469.62 L829.45,468.90 L828.80,468.20 L828.14,467.50 L827.49,466.83 L826.84,466.16 L826.20,465.52 L825.55,464.89 L824.91,464.27 L824.28,463.67 L823.64,463.10 L823.01,462.53 L822.37,461.98 L821.73,461.45 L821.09,460.93 L820.44,460.44 L819.80,459.97 L819.17,459.51 L818.53,459.07 L817.90,458.65 L817.27,458.25 L816.65,457.86 L816.04,457.49 L815.43,457.13 L814.83,456.79 L814.24,456.47 L813.66,456.15 L813.08,455.85 L812.52,455.56 L811.97,455.29 L811.43,455.02 L810.90,454.77 L810.39,454.53 L809.89,454.29 L809.41,454.07 L808.92,453.84 L808.39,453.61 L807.85,453.40 L807.32,453.20 L806.79,453.02 L806.27,452.87 L805.76,452.73 L805.27,452.60 L804.78,452.49 L804.31,452.40 L803.85,452.31 L803.41,452.24 L802.98,452.18 L802.57,452.12 L802.18,452.08 L801.81,452.04 L801.46,452.00 L801.14,451.97 L800.83,451.94 L800.56,451.92 L800.32,451.89 L800.11,451.87 L799.95,451.85 L799.83,451.83 L799.70,451.81 L799.75,445.12 L786.59,453.97 L798.45,464.48 L798.50,457.79 L798.75,457.84 L799.04,457.89 L799.33,457.93 L799.62,457.97 L799.91,458.01 L800.20,458.04 L800.50,458.07 L800.80,458.11 L801.11,458.15 L801.42,458.19 L801.74,458.23 L802.07,458.28 L802.40,458.34 L802.74,458.40 L803.08,458.47 L803.43,458.55 L803.77,458.64 L804.13,458.73 L804.48,458.84 L804.83,458.96 L805.19,459.09 L805.55,459.23 L805.90,459.38 L806.28,459.56 L806.71,459.76 L807.17,459.99 L807.64,460.22 L808.11,460.46 L808.60,460.70 L809.09,460.96 L809.58,461.22 L810.09,461.49 L810.60,461.77 L811.11,462.06 L811.63,462.36 L812.16,462.68 L812.68,463.00 L813.21,463.34 L813.75,463.69 L814.28,464.05 L814.82,464.43 L815.36,464.82 L815.90,465.22 L816.44,465.64 L816.98,466.07 L817.52,466.52 L818.05,466.98 L818.59,467.47 L819.14,467.98 L819.70,468.51 L820.27,469.07 L820.84,469.64 L821.42,470.24 L822.01,470.85 L822.60,471.48 L823.19,472.13 L823.79,472.79 L824.39,473.47 L825.00,474.16 L825.61,474.86 L826.22,475.58 L826.83,476.31 L827.45,477.06 L828.06,477.81 L828.68,478.57 L829.29,479.35 L829.91,480.13 L830.52,480.92 L831.14,481.72 L831.75,482.52 L832.36,483.33 L832.96,484.14 L833.55,484.96 L834.15,485.79 L834.75,486.66 L835.36,487.55 L835.97,488.46 L836.58,489.39 L837.19,490.33 L837.81,491.30 L838.43,492.27 L839.05,493.25 L839.67,494.24 L840.29,495.24 L840.91,496.24 L841.53,497.24 L842.15,498.24 L842.77,499.23 L843.39,500.22 L844.00,501.20 L844.61,502.17 L845.22,503.13 L845.83,504.08 L846.44,505.00 L847.04,505.91 L847.63,506.79 L848.20,507.62 L848.74,508.44 L849.27,509.25 L849.79,510.05 L850.31,510.86 L850.82,511.66 L851.33,512.46 L851.84,513.25 L852.34,514.04 L852.85,514.83 L853.37,515.61 L853.89,516.39 L854.41,517.17 L854.95,517.94 L855.50,518.71 L856.06,519.48 L856.63,520.24 L857.22,520.99 L857.83,521.74 L858.46,522.48 L859.11,523.22 L859.78,523.95 L860.48,524.67 L861.19,525.37 L861.92,526.06 L862.66,526.73 L863.41,527.39 L864.18,528.05 L864.96,528.69 L865.75,529.32 L866.56,529.94 L867.37,530.55 L868.19,531.15 L869.03,531.74 L869.86,532.32 L870.71,532.89 L871.56,533.44 L872.41,533.98 L873.27,534.51 L874.13,535.03 L875.00,535.53 L875.86,536.02 L876.73,536.49 L877.59,536.96 L878.45,537.40 L879.31,537.83 L880.17,538.25 L881.04,538.66 L881.97,539.07 L882.93,539.46 L883.91,539.82 L884.91,540.17 L885.91,540.50 L886.92,540.80 L887.93,541.09 L888.94,541.37 L889.95,541.63 L890.95,541.88 L891.93,542.11 L892.90,542.33 L893.85,542.53 L894.77,542.73 L895.66,542.91 L896.52,543.09 L897.33,543.25 L898.10,543.41 L898.82,543.55 L899.48,543.68 L900.08,543.81 L900.60,543.92 L901.04,544.02 L901.44,544.12 L903.56,535.28Z"/>
<path d="M955.05,588.26 L955.05,588.88 L955.05,589.59 L955.06,590.37 L955.07,591.23 L955.08,592.16 L955.09,593.15 L955.10,594.20 L955.11,595.30 L955.13,596.44 L955.14,597.62 L955.15,598.84 L955.16,600.08 L955.16,601.34 L955.17,602.62 L955.17,603.90 L955.17,605.19 L955.16,606.47 L955.15,607.74 L955.14,608.99 L955.12,610.22 L955.09,611.42 L955.06,612.58 L955.02,613.69 L954.97,614.76 L954.92,615.80 L954.86,616.85 L954.79,617.89 L954.72,618.94 L954.64,619.98 L954.56,621.02 L954.47,622.06 L954.38,623.09 L954.28,624.13 L954.18,625.16 L954.08,626.19 L953.97,627.22 L953.86,628.25 L953.75,629.28 L953.63,630.31 L953.52,631.34 L953.40,632.36 L953.29,633.39 L953.17,634.41 L953.05,635.43 L952.94,636.46 L952.82,637.48 L952.71,638.50 L952.59,639.52 L952.48,640.54 L952.38,641.55 L952.27,642.56 L952.17,643.56 L952.07,644.55 L951.97,645.54 L951.88,646.52 L951.78,647.50 L951.68,648.48 L951.58,649.44 L951.48,650.41 L951.37,651.37 L951.26,652.33 L951.15,653.28 L951.04,654.23 L950.92,655.18 L950.80,656.12 L950.67,657.07 L950.53,658.01 L950.39,658.96 L950.23,659.90 L950.08,660.84 L949.91,661.78 L949.73,662.73 L949.55,663.69 L949.36,664.65 L949.16,665.61 L948.95,666.57 L948.75,667.53 L948.53,668.49 L948.31,669.45 L948.09,670.41 L947.85,671.37 L947.62,672.33 L947.38,673.30 L947.13,674.26 L946.88,675.22 L946.62,676.18 L946.36,677.15 L946.09,678.11 L945.81,679.07 L945.53,680.03 L945.25,681.00 L944.96,681.96 L944.66,682.92 L944.36,683.89 L944.06,684.85 L943.75,685.81 L943.43,686.78 L943.11,687.75 L942.78,688.73 L942.45,689.71 L942.11,690.69 L941.76,691.67 L941.42,692.65 L941.06,693.64 L940.70,694.62 L940.34,695.60 L939.97,696.58 L939.60,697.55 L939.22,698.52 L938.84,699.49 L938.45,700.46 L938.05,701.42 L937.65,702.37 L937.25,703.31 L936.84,704.25 L936.43,705.18 L936.01,706.11 L935.59,707.02 L935.16,707.92 L934.73,708.81 L934.29,709.70 L933.85,710.57 L933.40,711.44 L932.94,712.30 L932.47,713.16 L931.99,714.02 L931.51,714.87 L931.03,715.71 L930.53,716.56 L930.04,717.39 L929.53,718.23 L929.02,719.06 L928.51,719.89 L927.99,720.72 L927.47,721.54 L926.94,722.37 L926.41,723.19 L925.88,724.01 L925.34,724.83 L924.80,725.65 L924.26,726.46 L923.72,727.28 L923.17,728.10 L922.63,728.91 L922.09,729.71 L921.54,730.52 L920.97,731.33 L920.39,732.15 L919.80,732.97 L919.20,733.79 L918.59,734.62 L917.98,735.44 L917.37,736.27 L916.75,737.09 L916.13,737.90 L915.52,738.71 L914.90,739.52 L914.29,740.32 L913.69,741.10 L913.09,741.88 L912.50,742.65 L911.92,743.40 L911.36,744.15 L910.81,744.87 L910.27,745.58 L909.75,746.28 L909.24,746.96 L908.76,747.61 L908.30,748.25 L907.84,748.88 L907.39,749.50 L906.95,750.11 L906.52,750.72 L906.09,751.31 L905.68,751.90 L905.27,752.47 L904.87,753.03 L904.49,753.57 L904.11,754.10 L903.75,754.62 L903.40,755.12 L903.06,755.60 L902.74,756.06 L902.43,756.50 L902.14,756.92 L901.86,757.32 L901.59,757.70 L901.34,758.06 L901.11,758.39 L900.90,758.69 L900.70,758.97 L900.52,759.22 L894.71,755.97 L894.60,774.86 L911.29,766.03 L905.48,762.78 L905.66,762.53 L905.87,762.25 L906.09,761.94 L906.33,761.61 L906.58,761.26 L906.86,760.88 L907.14,760.49 L907.44,760.07 L907.76,759.63 L908.09,759.18 L908.43,758.71 L908.79,758.22 L909.15,757.72 L909.53,757.20 L909.92,756.66 L910.32,756.12 L910.73,755.56 L911.15,754.99 L911.58,754.41 L912.02,753.82 L912.47,753.22 L912.92,752.61 L913.38,752.00 L913.84,751.39 L914.31,750.76 L914.81,750.12 L915.32,749.45 L915.86,748.77 L916.41,748.06 L916.99,747.34 L917.57,746.60 L918.17,745.84 L918.78,745.08 L919.40,744.29 L920.03,743.50 L920.66,742.70 L921.30,741.89 L921.94,741.07 L922.58,740.24 L923.22,739.41 L923.86,738.57 L924.50,737.73 L925.14,736.89 L925.76,736.05 L926.38,735.21 L926.99,734.36 L927.59,733.52 L928.17,732.69 L928.73,731.87 L929.30,731.06 L929.86,730.24 L930.42,729.42 L930.98,728.60 L931.54,727.77 L932.10,726.94 L932.66,726.11 L933.21,725.27 L933.77,724.43 L934.32,723.58 L934.86,722.72 L935.41,721.87 L935.95,721.00 L936.49,720.13 L937.02,719.26 L937.54,718.37 L938.07,717.48 L938.58,716.59 L939.09,715.68 L939.60,714.77 L940.10,713.85 L940.59,712.92 L941.07,711.99 L941.55,711.04 L942.01,710.09 L942.48,709.13 L942.93,708.17 L943.39,707.19 L943.83,706.21 L944.27,705.23 L944.70,704.24 L945.13,703.24 L945.55,702.24 L945.97,701.24 L946.38,700.23 L946.78,699.23 L947.18,698.22 L947.57,697.21 L947.96,696.20 L948.34,695.19 L948.72,694.18 L949.09,693.18 L949.45,692.17 L949.81,691.17 L950.16,690.17 L950.51,689.18 L950.85,688.19 L951.19,687.20 L951.52,686.20 L951.85,685.21 L952.17,684.22 L952.49,683.22 L952.80,682.23 L953.11,681.23 L953.41,680.24 L953.71,679.24 L953.99,678.25 L954.28,677.25 L954.56,676.25 L954.83,675.26 L955.10,674.26 L955.36,673.26 L955.62,672.26 L955.87,671.27 L956.11,670.27 L956.35,669.27 L956.59,668.27 L956.82,667.27 L957.04,666.27 L957.26,665.27 L957.47,664.27 L957.67,663.26 L957.87,662.25 L958.05,661.25 L958.23,660.25 L958.40,659.25 L958.56,658.25 L958.71,657.26 L958.86,656.27 L959.00,655.28 L959.13,654.29 L959.26,653.30 L959.39,652.32 L959.51,651.34 L959.63,650.35 L959.75,649.37 L959.87,648.39 L959.98,647.40 L960.10,646.42 L960.21,645.43 L960.33,644.45 L960.44,643.46 L960.56,642.47 L960.68,641.48 L960.81,640.48 L960.93,639.48 L961.06,638.47 L961.19,637.46 L961.32,636.45 L961.46,635.43 L961.59,634.40 L961.72,633.38 L961.86,632.34 L961.99,631.31 L962.12,630.27 L962.25,629.22 L962.38,628.18 L962.51,627.12 L962.63,626.07 L962.75,625.00 L962.87,623.94 L962.98,622.87 L963.09,621.79 L963.19,620.71 L963.29,619.63 L963.39,618.54 L963.47,617.44 L963.55,616.35 L963.63,615.24 L963.70,614.10 L963.76,612.92 L963.81,611.71 L963.86,610.46 L963.90,609.19 L963.94,607.90 L963.97,606.60 L964.00,605.29 L964.02,603.98 L964.04,602.67 L964.05,601.37 L964.07,600.10 L964.08,598.84 L964.09,597.61 L964.10,596.42 L964.10,595.27 L964.11,594.17 L964.11,593.12 L964.12,592.13 L964.12,591.21 L964.13,590.37 L964.13,589.60 L964.14,588.93 L964.15,588.34 L955.05,588.26Z"/>
<path d="M673.16,806.41 L672.99,805.76 L672.78,805.01 L672.54,804.18 L672.28,803.28 L671.99,802.31 L671.69,801.28 L671.37,800.19 L671.03,799.05 L670.69,797.86 L670.33,796.64 L669.97,795.39 L669.60,794.11 L669.24,792.81 L668.88,791.50 L668.53,790.19 L668.19,788.88 L667.86,787.58 L667.54,786.30 L667.25,785.04 L666.98,783.82 L666.73,782.64 L666.51,781.51 L666.33,780.44 L666.17,779.42 L666.04,778.42 L665.92,777.42 L665.81,776.42 L665.72,775.44 L665.64,774.46 L665.58,773.49 L665.52,772.53 L665.48,771.57 L665.45,770.62 L665.43,769.67 L665.42,768.73 L665.42,767.79 L665.44,766.85 L665.46,765.91 L665.49,764.97 L665.53,764.03 L665.58,763.09 L665.63,762.15 L665.69,761.21 L665.77,760.26 L665.84,759.31 L665.93,758.36 L666.02,757.40 L666.11,756.44 L666.22,755.49 L666.33,754.55 L666.45,753.61 L666.58,752.67 L666.72,751.73 L666.87,750.79 L667.03,749.85 L667.19,748.91 L667.37,747.97 L667.55,747.04 L667.74,746.10 L667.94,745.16 L668.15,744.21 L668.37,743.27 L668.59,742.33 L668.82,741.39 L669.06,740.44 L669.30,739.49 L669.55,738.54 L669.81,737.59 L670.07,736.64 L670.34,735.68 L670.61,734.72 L670.89,733.76 L671.18,732.82 L671.47,731.87 L671.77,730.92 L672.09,729.96 L672.41,729.01 L672.74,728.05 L673.08,727.09 L673.42,726.13 L673.77,725.17 L674.13,724.20 L674.50,723.23 L674.87,722.27 L675.25,721.30 L675.64,720.32 L676.02,719.35 L676.42,718.38 L676.81,717.40 L677.21,716.43 L677.62,715.45 L678.02,714.47 L678.43,713.50 L678.84,712.52 L679.25,711.54 L679.67,710.56 L680.08,709.60 L680.49,708.63 L680.92,707.66 L681.34,706.69 L681.78,705.72 L682.22,704.74 L682.66,703.76 L683.11,702.79 L683.56,701.81 L684.02,700.83 L684.48,699.85 L684.94,698.87 L685.40,697.90 L685.86,696.92 L686.33,695.95 L686.80,694.97 L687.26,694.01 L687.73,693.04 L688.20,692.08 L688.66,691.12 L689.13,690.16 L689.59,689.21 L690.05,688.26 L690.51,687.32 L690.96,686.40 L691.41,685.49 L691.86,684.58 L692.31,683.68 L692.77,682.79 L693.22,681.89 L693.68,681.00 L694.14,680.12 L694.60,679.23 L695.06,678.34 L695.53,677.46 L695.99,676.57 L696.45,675.68 L696.91,674.79 L697.37,673.90 L697.83,673.01 L698.29,672.11 L698.75,671.20 L699.21,670.29 L699.66,669.37 L700.12,668.45 L700.57,667.52 L701.02,666.58 L701.46,665.64 L701.90,664.70 L702.34,663.76 L702.78,662.81 L703.22,661.86 L703.66,660.91 L704.10,659.95 L704.54,658.98 L704.98,658.02 L705.42,657.05 L705.85,656.07 L706.29,655.10 L706.72,654.12 L707.15,653.14 L707.57,652.16 L707.99,651.18 L708.41,650.19 L708.82,649.21 L709.22,648.22 L709.62,647.23 L710.02,646.25 L710.40,645.26 L710.78,644.27 L711.16,643.29 L711.52,642.30 L711.88,641.32 L712.22,640.34 L712.57,639.37 L712.90,638.39 L713.24,637.41 L713.56,636.43 L713.88,635.45 L714.20,634.48 L714.51,633.50 L714.81,632.52 L715.11,631.55 L715.40,630.57 L715.69,629.60 L715.97,628.62 L716.25,627.65 L716.53,626.67 L716.80,625.70 L717.06,624.73 L717.32,623.75 L717.58,622.78 L717.83,621.81 L718.08,620.84 L718.33,619.86 L718.57,618.89 L718.81,617.91 L719.04,616.92 L719.27,615.92 L719.50,614.92 L719.72,613.91 L719.94,612.90 L720.15,611.90 L720.36,610.89 L720.56,609.88 L720.76,608.87 L720.95,607.87 L721.14,606.87 L721.32,605.87 L721.50,604.89 L721.68,603.90 L721.85,602.93 L722.02,601.97 L722.18,601.01 L722.34,600.07 L722.49,599.14 L722.64,598.22 L722.79,597.32 L722.93,596.43 L723.06,595.56 L723.20,594.68 L723.32,593.78 L723.45,592.87 L723.57,591.97 L723.68,591.06 L723.79,590.15 L723.89,589.25 L723.99,588.36 L724.08,587.48 L724.17,586.61 L724.26,585.75 L724.34,584.91 L724.41,584.10 L724.49,583.31 L724.56,582.54 L724.62,581.81 L724.69,581.11 L724.74,580.44 L724.80,579.82 L724.85,579.23 L724.90,578.69 L724.95,578.20 L724.99,577.77 L725.03,577.38 L730.19,577.33 L721.80,569.10 L712.81,576.67 L717.97,576.62 L717.92,577.03 L717.88,577.50 L717.82,578.02 L717.77,578.57 L717.71,579.16 L717.65,579.79 L717.59,580.46 L717.53,581.15 L717.46,581.88 L717.38,582.63 L717.31,583.41 L717.23,584.21 L717.14,585.03 L717.05,585.86 L716.96,586.71 L716.86,587.57 L716.76,588.43 L716.66,589.30 L716.55,590.17 L716.44,591.04 L716.32,591.90 L716.20,592.76 L716.07,593.60 L715.94,594.44 L715.80,595.29 L715.66,596.16 L715.51,597.05 L715.36,597.95 L715.20,598.86 L715.04,599.78 L714.87,600.72 L714.70,601.66 L714.53,602.61 L714.35,603.57 L714.17,604.54 L713.99,605.51 L713.80,606.48 L713.60,607.45 L713.40,608.43 L713.20,609.41 L712.99,610.39 L712.78,611.36 L712.57,612.33 L712.35,613.30 L712.12,614.26 L711.90,615.22 L711.67,616.17 L711.43,617.11 L711.19,618.05 L710.95,619.00 L710.70,619.94 L710.45,620.89 L710.19,621.83 L709.93,622.77 L709.67,623.72 L709.40,624.66 L709.13,625.60 L708.85,626.54 L708.57,627.49 L708.29,628.43 L708.00,629.37 L707.70,630.31 L707.40,631.25 L707.10,632.19 L706.79,633.13 L706.48,634.07 L706.16,635.01 L705.83,635.95 L705.50,636.88 L705.17,637.82 L704.83,638.76 L704.48,639.70 L704.13,640.63 L703.77,641.57 L703.40,642.51 L703.02,643.45 L702.64,644.40 L702.25,645.35 L701.85,646.30 L701.45,647.25 L701.04,648.20 L700.62,649.15 L700.21,650.10 L699.78,651.05 L699.36,652.01 L698.93,652.96 L698.49,653.91 L698.06,654.86 L697.62,655.80 L697.18,656.75 L696.74,657.69 L696.30,658.64 L695.86,659.57 L695.42,660.51 L694.97,661.44 L694.54,662.36 L694.10,663.27 L693.67,664.17 L693.23,665.06 L692.78,665.95 L692.34,666.83 L691.89,667.71 L691.44,668.59 L690.98,669.47 L690.52,670.34 L690.06,671.22 L689.60,672.10 L689.14,672.98 L688.67,673.86 L688.20,674.74 L687.73,675.63 L687.26,676.52 L686.79,677.42 L686.32,678.32 L685.85,679.23 L685.38,680.14 L684.91,681.07 L684.43,682.00 L683.96,682.94 L683.49,683.88 L683.03,684.82 L682.56,685.77 L682.09,686.72 L681.62,687.67 L681.15,688.63 L680.67,689.60 L680.20,690.57 L679.72,691.54 L679.24,692.52 L678.77,693.50 L678.29,694.49 L677.81,695.48 L677.34,696.47 L676.87,697.46 L676.40,698.46 L675.93,699.45 L675.46,700.45 L675.00,701.45 L674.54,702.45 L674.09,703.45 L673.64,704.45 L673.20,705.44 L672.76,706.44 L672.33,707.44 L671.91,708.42 L671.49,709.40 L671.07,710.39 L670.65,711.37 L670.23,712.36 L669.82,713.35 L669.40,714.35 L668.99,715.34 L668.58,716.34 L668.18,717.33 L667.77,718.33 L667.38,719.33 L666.98,720.34 L666.60,721.34 L666.21,722.34 L665.84,723.35 L665.47,724.36 L665.11,725.37 L664.75,726.38 L664.40,727.39 L664.07,728.40 L663.74,729.41 L663.42,730.43 L663.11,731.44 L662.81,732.44 L662.52,733.43 L662.23,734.42 L661.95,735.42 L661.67,736.41 L661.40,737.41 L661.14,738.40 L660.89,739.40 L660.64,740.40 L660.39,741.39 L660.16,742.39 L659.93,743.39 L659.71,744.40 L659.50,745.40 L659.30,746.41 L659.10,747.41 L658.92,748.42 L658.74,749.44 L658.57,750.45 L658.42,751.47 L658.27,752.49 L658.13,753.51 L658.00,754.54 L657.89,755.56 L657.78,756.57 L657.68,757.58 L657.58,758.58 L657.49,759.59 L657.41,760.59 L657.34,761.60 L657.27,762.61 L657.21,763.62 L657.16,764.63 L657.12,765.65 L657.10,766.67 L657.08,767.70 L657.07,768.73 L657.07,769.77 L657.09,770.81 L657.11,771.86 L657.15,772.92 L657.21,773.99 L657.27,775.06 L657.35,776.14 L657.45,777.23 L657.56,778.33 L657.68,779.45 L657.83,780.58 L658.00,781.77 L658.21,783.00 L658.44,784.28 L658.71,785.58 L658.99,786.90 L659.30,788.25 L659.62,789.61 L659.96,790.97 L660.31,792.34 L660.67,793.70 L661.03,795.06 L661.40,796.39 L661.76,797.71 L662.12,798.99 L662.48,800.23 L662.82,801.43 L663.15,802.58 L663.47,803.68 L663.76,804.70 L664.04,805.66 L664.28,806.53 L664.50,807.31 L664.69,807.99 L664.84,808.59 L673.16,806.41Z"/>
<path d="M831.62,828.42 L831.17,828.72 L830.66,829.07 L830.10,829.46 L829.51,829.88 L828.88,830.32 L828.21,830.80 L827.50,831.30 L826.76,831.82 L825.99,832.37 L825.19,832.93 L824.37,833.51 L823.52,834.10 L822.65,834.70 L821.76,835.31 L820.85,835.92 L819.93,836.53 L819.00,837.14 L818.06,837.75 L817.12,838.35 L816.17,838.94 L815.22,839.52 L814.28,840.08 L813.34,840.62 L812.40,841.15 L811.44,841.68 L810.44,842.22 L809.42,842.77 L808.38,843.32 L807.32,843.88 L806.24,844.43 L805.14,845.00 L804.02,845.56 L802.90,846.12 L801.76,846.69 L800.61,847.25 L799.45,847.80 L798.29,848.36 L797.12,848.91 L795.95,849.45 L794.78,849.98 L793.61,850.51 L792.44,851.03 L791.27,851.54 L790.11,852.03 L788.96,852.52 L787.82,852.99 L786.69,853.44 L785.57,853.89 L784.45,854.32 L783.32,854.76 L782.19,855.19 L781.07,855.61 L779.95,856.03 L778.83,856.44 L777.71,856.84 L776.59,857.24 L775.48,857.62 L774.36,858.00 L773.25,858.37 L772.14,858.73 L771.03,859.07 L769.93,859.41 L768.82,859.74 L767.72,860.05 L766.62,860.35 L765.52,860.63 L764.43,860.91 L763.33,861.16 L762.24,861.41 L761.15,861.64 L760.06,861.85 L758.97,862.04 L757.87,862.23 L756.76,862.40 L755.65,862.56 L754.53,862.71 L753.41,862.85 L752.28,862.98 L751.16,863.10 L750.03,863.20 L748.91,863.30 L747.78,863.38 L746.66,863.44 L745.54,863.50 L744.42,863.54 L743.31,863.56 L742.21,863.58 L741.11,863.58 L740.02,863.57 L738.93,863.54 L737.86,863.50 L736.80,863.45 L735.74,863.38 L734.70,863.29 L733.67,863.20 L732.66,863.08 L731.66,862.96 L730.66,862.81 L729.66,862.64 L728.65,862.45 L727.65,862.25 L726.65,862.03 L725.65,861.79 L724.65,861.54 L723.66,861.27 L722.67,860.99 L721.69,860.70 L720.71,860.40 L719.74,860.09 L718.78,859.76 L717.83,859.43 L716.89,859.09 L715.96,858.75 L715.04,858.39 L714.14,858.04 L713.25,857.68 L712.38,857.32 L711.52,856.95 L710.67,856.58 L709.86,856.22 L709.07,855.86 L708.31,855.49 L707.55,855.11 L706.81,854.72 L706.07,854.32 L705.34,853.90 L704.63,853.48 L703.92,853.05 L703.22,852.61 L702.54,852.16 L701.86,851.71 L701.20,851.26 L700.54,850.80 L699.90,850.34 L699.28,849.88 L698.66,849.42 L698.06,848.96 L697.46,848.50 L696.89,848.04 L696.32,847.59 L695.77,847.14 L695.23,846.70 L694.70,846.26 L694.21,845.84 L693.76,845.45 L693.33,845.06 L692.91,844.65 L692.50,844.24 L692.09,843.81 L691.70,843.38 L691.32,842.94 L690.94,842.50 L690.58,842.06 L690.23,841.61 L689.89,841.17 L689.56,840.73 L689.24,840.30 L688.93,839.88 L688.63,839.46 L688.35,839.06 L688.07,838.67 L687.81,838.29 L687.55,837.93 L687.30,837.58 L687.06,837.24 L686.83,836.92 L686.59,836.61 L686.39,836.35 L692.65,834.43 L676.62,822.38 L674.95,842.37 L681.21,840.45 L681.36,840.64 L681.51,840.84 L681.69,841.09 L681.89,841.38 L682.11,841.70 L682.36,842.06 L682.62,842.44 L682.90,842.85 L683.20,843.28 L683.51,843.73 L683.84,844.20 L684.19,844.69 L684.56,845.19 L684.95,845.70 L685.35,846.22 L685.77,846.74 L686.21,847.28 L686.66,847.81 L687.14,848.35 L687.63,848.88 L688.15,849.41 L688.68,849.94 L689.23,850.46 L689.79,850.96 L690.34,851.42 L690.88,851.89 L691.45,852.36 L692.03,852.85 L692.62,853.34 L693.24,853.83 L693.86,854.33 L694.51,854.84 L695.17,855.35 L695.85,855.86 L696.54,856.37 L697.25,856.88 L697.98,857.39 L698.72,857.89 L699.47,858.40 L700.24,858.89 L701.03,859.39 L701.83,859.87 L702.65,860.35 L703.48,860.82 L704.33,861.28 L705.19,861.72 L706.06,862.16 L706.94,862.58 L707.82,862.98 L708.71,863.38 L709.62,863.78 L710.54,864.17 L711.49,864.57 L712.45,864.96 L713.42,865.35 L714.41,865.73 L715.42,866.11 L716.44,866.48 L717.47,866.84 L718.51,867.19 L719.57,867.53 L720.64,867.86 L721.71,868.18 L722.80,868.48 L723.89,868.77 L725.00,869.05 L726.11,869.31 L727.23,869.55 L728.35,869.77 L729.48,869.97 L730.61,870.16 L731.74,870.32 L732.88,870.46 L734.02,870.58 L735.16,870.68 L736.32,870.77 L737.49,870.85 L738.66,870.90 L739.84,870.95 L741.02,870.98 L742.21,870.99 L743.41,870.99 L744.61,870.97 L745.81,870.94 L747.01,870.90 L748.22,870.84 L749.43,870.77 L750.64,870.69 L751.84,870.59 L753.05,870.48 L754.25,870.36 L755.46,870.22 L756.65,870.07 L757.85,869.91 L759.04,869.74 L760.23,869.56 L761.42,869.36 L762.62,869.14 L763.81,868.90 L765.00,868.65 L766.19,868.39 L767.38,868.11 L768.56,867.81 L769.74,867.51 L770.93,867.19 L772.11,866.86 L773.28,866.51 L774.46,866.16 L775.63,865.80 L776.80,865.42 L777.97,865.04 L779.14,864.65 L780.31,864.26 L781.47,863.85 L782.63,863.44 L783.80,863.03 L784.96,862.60 L786.11,862.18 L787.27,861.75 L788.43,861.31 L789.60,860.87 L790.80,860.40 L791.99,859.92 L793.20,859.43 L794.41,858.93 L795.63,858.42 L796.85,857.90 L798.07,857.36 L799.29,856.83 L800.50,856.28 L801.72,855.73 L802.92,855.17 L804.12,854.61 L805.31,854.05 L806.50,853.48 L807.66,852.91 L808.82,852.35 L809.96,851.78 L811.08,851.22 L812.19,850.65 L813.27,850.10 L814.34,849.54 L815.38,849.00 L816.40,848.45 L817.43,847.89 L818.46,847.30 L819.49,846.71 L820.52,846.10 L821.54,845.48 L822.55,844.85 L823.55,844.22 L824.54,843.59 L825.51,842.96 L826.46,842.33 L827.40,841.71 L828.30,841.10 L829.19,840.50 L830.04,839.92 L830.86,839.36 L831.65,838.81 L832.40,838.29 L833.12,837.80 L833.78,837.34 L834.41,836.91 L834.98,836.52 L835.50,836.16 L835.96,835.86 L836.38,835.58 L831.62,828.42Z"/>
</g>
<g fill="none" stroke="#ffffff" stroke-width="1.3">
<path d="M181.5,238.0 L181.5,239.1 L181.5,240.4 L181.5,241.9 L181.5,243.6 L181.5,245.3 L181.5,247.2 L181.5,249.1 L181.5,251.2 L181.5,253.3 L181.5,255.4 L181.5,257.5 L181.5,259.6 L181.5,261.7 L181.5,263.8 L181.5,265.9 L181.5,267.8 L181.5,269.7 L181.5,271.4 L181.5,273.1 L181.5,274.6 L181.5,275.9 L181.5,277.0 L181.5,278.0"/>
<path d="M200.5,286.9 L200.5,285.7 L200.5,284.4 L200.5,283.0 L200.5,281.4 L200.5,279.7 L200.5,277.8 L200.5,275.9 L200.5,273.9 L200.5,271.9 L200.5,269.8 L200.5,267.7 L200.5,265.7 L200.5,263.6 L200.5,261.6 L200.5,259.6 L200.5,257.7 L200.5,255.8 L200.5,254.1 L200.5,252.5 L200.5,251.1 L200.5,249.8 L200.5,248.6 L200.5,247.7"/>
<path d="M263.1,549.1 L262.5,548.3 L261.8,547.4 L261.1,546.5 L260.4,545.6 L259.6,544.6 L258.9,543.5 L258.1,542.5 L257.3,541.4 L256.5,540.3 L255.7,539.2 L254.8,538.1 L254.0,536.9 L253.2,535.8 L252.4,534.7 L251.6,533.5 L250.8,532.4 L250.1,531.3 L249.3,530.2 L248.6,529.2 L247.9,528.1 L247.2,527.0 L246.5,525.9 L245.7,524.8 L245.0,523.7 L244.3,522.6 L243.6,521.4 L242.8,520.3 L242.1,519.2 L241.4,518.0 L240.6,516.9 L239.9,515.7 L239.2,514.5 L238.5,513.4 L237.8,512.2 L237.1,511.0 L236.4,509.8 L235.7,508.6 L235.0,507.4 L234.3,506.2 L233.7,505.0 L233.0,503.8 L232.4,502.6 L231.8,501.4 L231.1,500.1 L230.5,498.9 L229.9,497.6 L229.3,496.3 L228.7,495.0 L228.1,493.7 L227.5,492.4 L226.9,491.0 L226.3,489.7 L225.7,488.3 L225.2,487.0 L224.6,485.6 L224.0,484.3 L223.5,482.9 L223.0,481.6 L222.4,480.2 L221.9,478.9 L221.4,477.5 L220.9,476.2 L220.4,474.9 L219.9,473.6 L219.5,472.3 L219.0,471.1 L218.6,469.8 L218.1,468.6 L217.7,467.4 L217.3,466.2 L216.9,465.0 L216.6,463.8 L216.2,462.7 L215.9,461.5 L215.5,460.4 L215.2,459.2 L214.9,458.1 L214.5,456.9 L214.2,455.8 L213.9,454.7 L213.6,453.6 L213.4,452.4 L213.1,451.3 L212.8,450.2 L212.5,449.0 L212.3,447.9 L212.0,446.7 L211.8,445.6 L211.5,444.4 L211.3,443.2 L211.0,442.1 L210.8,440.8 L210.6,439.6 L210.4,438.3 L210.1,436.9 L209.9,435.5 L209.7,434.1 L209.5,432.7 L209.3,431.3 L209.2,429.8 L209.0,428.4 L208.8,426.9 L208.6,425.5 L208.5,424.1 L208.3,422.8 L208.2,421.4 L208.0,420.2 L207.9,418.9 L207.8,417.7 L207.6,416.6 L207.5,415.6 L207.4,414.6 L207.3,413.7 L207.2,413.0 L207.1,412.3"/>
<path d="M119.9,639.8 L119.5,638.5 L119.0,637.0 L118.6,635.5 L118.1,634.0 L117.6,632.3 L117.0,630.7 L116.5,628.9 L116.0,627.1 L115.4,625.3 L114.8,623.4 L114.3,621.6 L113.7,619.7 L113.2,617.8 L112.6,615.9 L112.1,614.0 L111.5,612.2 L111.0,610.4 L110.5,608.6 L110.1,606.9 L109.6,605.2 L109.2,603.5 L108.7,601.8 L108.3,600.1 L107.8,598.4 L107.4,596.7 L106.9,595.0 L106.5,593.3 L106.0,591.5 L105.6,589.8 L105.2,588.1 L104.7,586.4 L104.3,584.6 L103.9,582.9 L103.5,581.2 L103.1,579.4 L102.7,577.7 L102.3,576.0 L102.0,574.2 L101.6,572.5 L101.3,570.8 L101.0,569.1 L100.7,567.4 L100.4,565.6 L100.1,563.9 L99.8,562.2 L99.6,560.5 L99.3,558.7 L99.1,557.0 L98.9,555.2 L98.7,553.4 L98.5,551.6 L98.4,549.8 L98.2,548.0 L98.0,546.2 L97.9,544.4 L97.8,542.6 L97.6,540.9 L97.5,539.1 L97.4,537.3 L97.3,535.6 L97.2,533.9 L97.1,532.2 L97.0,530.5 L97.0,528.8 L96.9,527.2 L96.8,525.6 L96.8,524.1 L96.7,522.5 L96.7,521.0 L96.7,519.5 L96.6,518.0 L96.6,516.5 L96.6,515.0 L96.6,513.5 L96.6,512.1 L96.7,510.6 L96.7,509.2 L96.7,507.7 L96.8,506.4 L96.8,505.0 L96.9,503.6 L97.0,502.3 L97.0,501.1 L97.1,499.8 L97.2,498.6 L97.2,497.5 L97.3,496.3 L97.4,495.3 L97.5,494.3 L97.5,493.3 L97.6,492.4 L97.7,491.6 L97.8,490.8 L97.8,490.1 L97.9,489.5 L98.0,489.0 L98.1,488.5 L98.2,488.1 L98.3,487.7 L98.4,487.3 L98.5,487.1 L98.6,486.8 L98.7,486.6 L98.8,486.4 L98.8,486.2 L98.9,486.1 L99.0,485.9 L99.1,485.8 L99.2,485.6 L99.3,485.5 L99.4,485.3 L99.6,485.1 L99.7,484.8 L99.9,484.5 L100.0,484.2 L100.1,483.9"/>
<path d="M285.1,764.4 L284.3,764.3 L283.4,764.3 L282.5,764.3 L281.6,764.2 L280.6,764.2 L279.6,764.1 L278.6,764.1 L277.6,764.0 L276.5,763.9 L275.5,763.9 L274.4,763.8 L273.4,763.7 L272.4,763.6 L271.3,763.5 L270.3,763.4 L269.3,763.3 L268.4,763.2 L267.4,763.1 L266.5,763.0 L265.6,762.8 L264.7,762.7 L263.8,762.6 L263.0,762.5 L262.1,762.3 L261.3,762.2 L260.5,762.1 L259.7,762.0 L258.9,761.9 L258.1,761.7 L257.2,761.6 L256.4,761.4 L255.6,761.3 L254.8,761.1 L253.9,760.9 L253.1,760.7 L252.2,760.5 L251.3,760.2 L250.4,760.0 L249.4,759.7 L248.4,759.4 L247.4,759.0 L246.3,758.6 L245.2,758.2 L244.0,757.8 L242.8,757.3 L241.6,756.8 L240.3,756.3 L239.0,755.8 L237.6,755.3 L236.3,754.7 L234.9,754.1 L233.5,753.5 L232.0,752.9 L230.6,752.2 L229.1,751.6 L227.7,750.9 L226.2,750.2 L224.7,749.5 L223.2,748.8 L221.8,748.0 L220.3,747.3 L218.8,746.5 L217.4,745.7 L215.9,744.9 L214.5,744.1 L213.0,743.2 L211.6,742.4 L210.2,741.5 L208.8,740.6 L207.3,739.6 L205.8,738.5 L204.3,737.5 L202.7,736.4 L201.2,735.2 L199.6,734.1 L198.1,732.9 L196.5,731.7 L194.9,730.5 L193.4,729.3 L191.9,728.1 L190.3,726.9 L188.9,725.7 L187.4,724.5 L186.0,723.4 L184.6,722.3 L183.3,721.2 L182.0,720.2 L180.8,719.2 L179.6,718.3 L178.5,717.4 L177.4,716.6 L176.4,715.8 L175.5,715.1 L174.7,714.4 L173.9,713.8 L173.2,713.2 L172.5,712.6 L171.8,712.0 L171.2,711.5 L170.6,711.0 L170.1,710.5 L169.6,710.1 L169.1,709.6 L168.6,709.2 L168.1,708.8 L167.7,708.4 L167.3,708.0 L166.8,707.6 L166.4,707.2 L165.9,706.8 L165.5,706.5 L165.0,706.1 L164.6,705.7 L164.1,705.3 L163.6,704.9 L163.1,704.6 L162.5,704.2 L162.0,703.8 L161.5,703.5 L161.0,703.1 L160.5,702.8 L160.0,702.5 L159.5,702.2 L159.1,701.9 L158.6,701.6 L158.1,701.3 L157.7,701.1 L157.3,700.8 L156.8,700.6 L156.4,700.4 L156.1,700.2 L155.7,700.0 L155.4,699.8 L155.0,699.6 L154.7,699.4 L154.5,699.3 L154.2,699.1 L154.0,699.0 L153.8,698.9"/>
<path d="M369.5,734.1 L369.5,733.3 L369.6,732.5 L369.6,731.6 L369.7,730.7 L369.7,729.7 L369.7,728.7 L369.8,727.7 L369.8,726.6 L369.9,725.5 L369.9,724.4 L369.9,723.3 L369.9,722.2 L369.9,721.1 L369.9,720.0 L369.8,718.9 L369.8,717.8 L369.7,716.7 L369.6,715.7 L369.5,714.6 L369.4,713.6 L369.3,712.6 L369.1,711.7 L369.0,710.7 L368.8,709.7 L368.6,708.7 L368.4,707.8 L368.3,706.8 L368.0,705.8 L367.8,704.8 L367.6,703.8 L367.4,702.9 L367.1,701.9 L366.9,700.9 L366.6,699.9 L366.3,698.8 L366.0,697.8 L365.8,696.8 L365.4,695.7 L365.1,694.7 L364.8,693.6 L364.5,692.5 L364.1,691.4 L363.8,690.3 L363.4,689.2 L363.0,688.0 L362.6,686.8 L362.2,685.6 L361.8,684.3 L361.3,683.1 L360.9,681.8 L360.4,680.5 L360.0,679.2 L359.5,677.8 L359.0,676.5 L358.5,675.2 L358.0,673.8 L357.5,672.5 L357.0,671.2 L356.4,669.9 L355.9,668.6 L355.3,667.3 L354.8,666.1 L354.2,664.8 L353.6,663.6 L353.0,662.4 L352.4,661.3 L351.8,660.2 L351.2,659.1 L350.6,658.0 L349.9,656.9 L349.2,655.9 L348.5,654.9 L347.8,653.9 L347.1,652.9 L346.3,652.0 L345.6,651.0 L344.9,650.1 L344.1,649.2 L343.4,648.4 L342.6,647.5 L341.9,646.7 L341.2,645.8 L340.5,645.0 L339.8,644.2 L339.1,643.5 L338.4,642.7 L337.7,642.0 L337.1,641.3 L336.5,640.6 L335.9,639.9 L335.3,639.2 L334.7,638.6 L334.1,637.9 L333.6,637.3 L333.0,636.6 L332.5,636.0 L331.9,635.5 L331.4,634.9 L330.9,634.3 L330.4,633.8 L329.8,633.3 L329.4,632.8 L328.9,632.3 L328.4,631.8 L327.9,631.4 L327.5,630.9 L327.0,630.5 L326.6,630.1 L326.2,629.6 L325.8,629.2 L325.4,628.8 L325.0,628.4 L324.6,628.0 L324.3,627.7 L323.9,627.3 L323.6,626.9 L323.3,626.5 L322.9,626.1 L322.6,625.8 L322.3,625.4 L322.0,625.0 L321.7,624.7 L321.4,624.3 L321.1,624.0 L320.9,623.7 L320.6,623.4 L320.3,623.0 L320.1,622.7 L319.9,622.4 L319.6,622.2 L319.4,621.9 L319.2,621.6 L319.0,621.4 L318.8,621.1 L318.7,620.9 L318.5,620.7 L318.3,620.5 L318.2,620.3 L318.1,620.1"/>
<path d="M900.4,535.5 L899.6,535.3 L898.9,535.2 L898.1,535.0 L897.2,534.9 L896.4,534.7 L895.5,534.6 L894.6,534.4 L893.7,534.2 L892.8,534.0 L891.8,533.8 L890.9,533.6 L890.0,533.4 L889.1,533.1 L888.2,532.9 L887.4,532.6 L886.5,532.3 L885.7,532.1 L885.0,531.8 L884.2,531.5 L883.5,531.1 L882.7,530.8 L881.9,530.4 L881.1,530.0 L880.4,529.6 L879.6,529.2 L878.8,528.8 L878.0,528.4 L877.2,527.9 L876.4,527.4 L875.6,527.0 L874.8,526.5 L874.1,526.0 L873.3,525.5 L872.5,525.0 L871.8,524.4 L871.1,523.9 L870.3,523.4 L869.6,522.8 L868.9,522.3 L868.2,521.7 L867.5,521.2 L866.9,520.6 L866.3,520.0 L865.6,519.4 L865.1,518.9 L864.5,518.3 L863.9,517.7 L863.4,517.0 L862.9,516.4 L862.3,515.8 L861.8,515.1 L861.3,514.4 L860.8,513.8 L860.3,513.1 L859.8,512.3 L859.3,511.6 L858.8,510.9 L858.3,510.1 L857.7,509.4 L857.2,508.6 L856.7,507.8 L856.2,507.0 L855.6,506.2 L855.1,505.4 L854.5,504.5 L853.9,503.7 L853.3,502.9 L852.7,502.0 L852.1,501.2 L851.5,500.3 L850.9,499.4 L850.3,498.5 L849.7,497.5 L849.1,496.6 L848.4,495.6 L847.8,494.7 L847.1,493.7 L846.5,492.7 L845.9,491.7 L845.2,490.7 L844.6,489.7 L843.9,488.7 L843.3,487.7 L842.6,486.8 L841.9,485.8 L841.3,484.8 L840.6,483.9 L840.0,483.0 L839.3,482.1 L838.7,481.2 L838.0,480.3 L837.4,479.5 L836.7,478.7 L836.1,477.9 L835.4,477.1 L834.8,476.3 L834.1,475.5 L833.4,474.7 L832.8,473.9 L832.1,473.1 L831.5,472.4 L830.8,471.6 L830.2,470.9 L829.5,470.1 L828.9,469.4 L828.2,468.7 L827.6,468.0 L826.9,467.4 L826.3,466.7 L825.6,466.1 L825.0,465.5 L824.4,464.8 L823.7,464.3 L823.1,463.7 L822.5,463.1 L821.8,462.6 L821.2,462.1 L820.6,461.6 L820.0,461.1 L819.3,460.6 L818.7,460.2 L818.1,459.7 L817.5,459.3 L816.8,458.9 L816.2,458.5 L815.6,458.2 L815.0,457.8 L814.4,457.5 L813.8,457.2 L813.3,456.9 L812.7,456.6 L812.2,456.3 L811.6,456.0 L811.1,455.7 L810.5,455.5 L810.0,455.2 L809.5,455.0 L809.1,454.8 L808.6,454.6 L808.1,454.3 L807.6,454.1 L807.0,454.0 L806.5,453.8 L806.0,453.6 L805.6,453.5 L805.1,453.4 L804.6,453.3 L804.2,453.2 L803.7,453.1 L803.3,453.0 L802.9,453.0 L802.5,452.9 L802.1,452.9 L801.7,452.8 L801.4,452.8 L801.1,452.8 L800.8,452.7 L800.5,452.7 L800.2,452.7 L800.0,452.7 L799.8,452.6 L799.7,452.6 L799.5,452.6"/>
<path d="M963.3,592.1 L963.3,593.1 L963.3,594.2 L963.3,595.3 L963.3,596.4 L963.3,597.6 L963.3,598.8 L963.3,600.1 L963.3,601.4 L963.2,602.7 L963.2,604.0 L963.2,605.3 L963.2,606.6 L963.1,607.9 L963.1,609.2 L963.1,610.4 L963.0,611.7 L963.0,612.9 L962.9,614.1 L962.8,615.2 L962.8,616.3 L962.7,617.4 L962.6,618.5 L962.5,619.6 L962.4,620.6 L962.3,621.7 L962.2,622.8 L962.1,623.9 L962.0,624.9 L961.8,626.0 L961.7,627.0 L961.6,628.1 L961.5,629.1 L961.3,630.2 L961.2,631.2 L961.1,632.2 L960.9,633.3 L960.8,634.3 L960.7,635.3 L960.5,636.3 L960.4,637.4 L960.3,638.4 L960.1,639.4 L960.0,640.4 L959.9,641.4 L959.8,642.4 L959.6,643.4 L959.5,644.4 L959.4,645.3 L959.3,646.3 L959.2,647.3 L959.1,648.3 L959.0,649.3 L958.8,650.3 L958.7,651.2 L958.6,652.2 L958.5,653.2 L958.3,654.2 L958.2,655.2 L958.1,656.2 L957.9,657.1 L957.8,658.1 L957.6,659.1 L957.4,660.1 L957.3,661.1 L957.1,662.1 L956.9,663.1 L956.7,664.1 L956.5,665.1 L956.3,666.1 L956.0,667.1 L955.8,668.1 L955.6,669.1 L955.3,670.1 L955.1,671.1 L954.8,672.1 L954.6,673.1 L954.3,674.1 L954.1,675.1 L953.8,676.0 L953.5,677.0 L953.2,678.0 L952.9,679.0 L952.6,680.0 L952.3,681.0 L952.0,682.0 L951.7,683.0 L951.4,684.0 L951.1,685.0 L950.8,686.0 L950.4,686.9 L950.1,687.9 L949.8,688.9 L949.4,689.9 L949.1,690.9 L948.7,691.9 L948.3,692.9 L948.0,693.9 L947.6,694.9 L947.2,695.9 L946.8,696.9 L946.4,697.9 L946.0,698.9 L945.6,699.9 L945.2,700.9 L944.8,701.9 L944.4,702.9 L944.0,703.9 L943.5,704.9 L943.1,705.9 L942.7,706.9 L942.2,707.8 L941.8,708.8 L941.3,709.7 L940.8,710.7 L940.4,711.6 L939.9,712.6 L939.4,713.5 L938.9,714.4 L938.4,715.3 L937.9,716.2 L937.4,717.1 L936.9,718.0 L936.3,718.8 L935.8,719.7 L935.3,720.6 L934.7,721.4 L934.2,722.3 L933.6,723.1 L933.1,724.0 L932.5,724.8 L932.0,725.7 L931.4,726.5 L930.9,727.3 L930.3,728.2 L929.8,729.0 L929.2,729.8 L928.6,730.6 L928.1,731.4 L927.5,732.2 L926.9,733.1 L926.3,733.9 L925.7,734.7 L925.1,735.6 L924.5,736.4 L923.9,737.3 L923.2,738.1 L922.6,738.9 L921.9,739.8 L921.3,740.6 L920.7,741.4 L920.0,742.2 L919.4,743.0 L918.8,743.8 L918.1,744.6 L917.5,745.4 L916.9,746.1 L916.4,746.8 L915.8,747.6 L915.2,748.3 L914.7,749.0 L914.2,749.6 L913.7,750.3 L913.2,750.9 L912.7,751.5 L912.3,752.1 L911.8,752.7 L911.4,753.3 L910.9,753.9 L910.5,754.5 L910.1,755.1 L909.7,755.6 L909.3,756.2 L908.9,756.7 L908.5,757.2 L908.1,757.8 L907.8,758.2 L907.4,758.7 L907.1,759.2 L906.8,759.6 L906.5,760.0 L906.2,760.4 L905.9,760.8 L905.7,761.1 L905.4,761.5 L905.2,761.8 L905.0,762.1 L904.8,762.3"/>
<path d="M670.9,801.5 L670.6,800.4 L670.3,799.3 L669.9,798.1 L669.6,796.9 L669.2,795.6 L668.8,794.3 L668.5,793.0 L668.1,791.7 L667.8,790.4 L667.4,789.1 L667.1,787.8 L666.8,786.5 L666.5,785.2 L666.2,784.0 L665.9,782.8 L665.7,781.7 L665.5,780.6 L665.4,779.5 L665.2,778.5 L665.1,777.5 L665.0,776.5 L664.9,775.5 L664.8,774.5 L664.8,773.5 L664.7,772.6 L664.7,771.6 L664.7,770.6 L664.6,769.7 L664.6,768.7 L664.6,767.8 L664.6,766.8 L664.7,765.9 L664.7,764.9 L664.7,764.0 L664.8,763.0 L664.8,762.1 L664.9,761.1 L665.0,760.2 L665.0,759.2 L665.1,758.3 L665.2,757.3 L665.3,756.4 L665.4,755.4 L665.5,754.4 L665.7,753.5 L665.8,752.6 L665.9,751.6 L666.1,750.7 L666.2,749.7 L666.4,748.8 L666.6,747.8 L666.8,746.9 L667.0,745.9 L667.2,745.0 L667.4,744.0 L667.6,743.1 L667.8,742.1 L668.0,741.2 L668.3,740.2 L668.5,739.3 L668.8,738.3 L669.0,737.4 L669.3,736.4 L669.6,735.5 L669.8,734.5 L670.1,733.5 L670.4,732.6 L670.7,731.6 L671.0,730.7 L671.3,729.7 L671.7,728.7 L672.0,727.8 L672.3,726.8 L672.7,725.9 L673.0,724.9 L673.4,723.9 L673.8,722.9 L674.1,722.0 L674.5,721.0 L674.9,720.0 L675.3,719.1 L675.7,718.1 L676.1,717.1 L676.5,716.1 L676.9,715.1 L677.3,714.2 L677.7,713.2 L678.1,712.2 L678.5,711.2 L678.9,710.3 L679.3,709.3 L679.8,708.3 L680.2,707.3 L680.6,706.4 L681.0,705.4 L681.5,704.4 L681.9,703.4 L682.4,702.4 L682.8,701.5 L683.3,700.5 L683.8,699.5 L684.2,698.5 L684.7,697.6 L685.1,696.6 L685.6,695.6 L686.1,694.6 L686.5,693.7 L687.0,692.7 L687.5,691.7 L687.9,690.8 L688.4,689.8 L688.9,688.9 L689.3,687.9 L689.8,687.0 L690.2,686.0 L690.7,685.1 L691.1,684.2 L691.6,683.3 L692.1,682.4 L692.5,681.5 L693.0,680.6 L693.4,679.7 L693.9,678.9 L694.4,678.0 L694.8,677.1 L695.3,676.2 L695.7,675.3 L696.2,674.4 L696.7,673.5 L697.1,672.6 L697.6,671.7 L698.0,670.8 L698.5,669.9 L698.9,669.0 L699.4,668.1 L699.9,667.2 L700.3,666.2 L700.7,665.3 L701.2,664.4 L701.6,663.4 L702.1,662.5 L702.5,661.5 L702.9,660.6 L703.4,659.6 L703.8,658.6 L704.3,657.7 L704.7,656.7 L705.1,655.7 L705.6,654.8 L706.0,653.8 L706.4,652.8 L706.8,651.8 L707.3,650.9 L707.7,649.9 L708.1,648.9 L708.5,647.9 L708.9,646.9 L709.3,645.9 L709.7,645.0 L710.0,644.0 L710.4,643.0 L710.8,642.0 L711.1,641.0 L711.5,640.1 L711.8,639.1 L712.1,638.1 L712.5,637.2 L712.8,636.2 L713.1,635.2 L713.4,634.2 L713.7,633.3 L714.0,632.3 L714.3,631.3 L714.6,630.3 L714.9,629.4 L715.2,628.4 L715.5,627.4 L715.8,626.5 L716.0,625.5 L716.3,624.5 L716.6,623.5 L716.8,622.6 L717.1,621.6 L717.3,620.6 L717.6,619.7 L717.8,618.7 L718.0,617.7 L718.3,616.7 L718.5,615.7 L718.7,614.7 L718.9,613.7 L719.2,612.7 L719.4,611.7 L719.6,610.7 L719.8,609.7 L720.0,608.7 L720.2,607.7 L720.4,606.7 L720.5,605.7 L720.7,604.7 L720.9,603.8 L721.1,602.8 L721.2,601.8 L721.4,600.9 L721.5,599.9 L721.7,599.0 L721.9,598.1 L722.0,597.2 L722.1,596.3 L722.3,595.4 L722.4,594.6 L722.5,593.7 L722.7,592.8 L722.8,591.9 L722.9,591.0 L723.0,590.1 L723.1,589.2 L723.2,588.3 L723.3,587.4 L723.4,586.5 L723.5,585.7 L723.5,584.8 L723.6,584.0 L723.7,583.2 L723.8,582.5 L723.8,581.7 L723.9,581.0 L723.9,580.4 L724.0,579.7 L724.1,579.2 L724.1,578.6 L724.2,578.1 L724.2,577.7 L724.2,577.3"/>
</g>
<path d="M787.5,277.7 L789.0,277.8 L790.6,277.8 L792.5,277.8 L794.6,277.8 L796.9,277.8 L799.3,277.8 L801.9,277.8 L804.6,277.8 L807.4,277.8 L810.3,277.8 L813.2,277.8 L816.3,277.8 L819.3,277.9 L822.4,277.9 L825.4,277.9 L828.5,277.9 L831.5,278.0 L834.4,278.0 L837.3,278.0 L840.1,278.1 L842.7,278.1 L845.2,278.2 L847.6,278.2 L849.8,278.3 L851.9,278.4 L853.9,278.5 L855.9,278.6 L857.8,278.6 L859.7,278.7 L861.6,278.8 L863.4,278.9 L865.1,279.0 L866.9,279.1 L868.5,279.2 L870.2,279.3 L871.8,279.4 L873.4,279.6 L874.9,279.7 L876.4,279.8 L877.9,280.0 L879.4,280.1 L880.8,280.2 L882.3,280.4 L883.7,280.6 L885.1,280.7 L886.5,280.9 L887.8,281.1 L889.2,281.3 L890.5,281.5 L891.8,281.7 L893.1,281.9 L894.4,282.2 L895.6,282.4 L896.8,282.6 L897.9,282.8 L899.0,283.1 L900.1,283.3 L901.2,283.6 L902.3,283.8 L903.3,284.1 L904.4,284.4 L905.4,284.6 L906.4,284.9 L907.4,285.2 L908.3,285.5 L909.3,285.8 L910.3,286.2 L911.2,286.5 L912.2,286.8 L913.1,287.2 L914.1,287.5 L915.1,287.9 L916.0,288.3 L916.9,288.7 L917.8,289.0 L918.7,289.4 L919.6,289.9 L920.5,290.3 L921.4,290.7 L922.3,291.1 L923.1,291.6 L924.0,292.0 L924.8,292.5 L925.6,293.0 L926.5,293.4 L927.3,293.9 L928.1,294.4 L928.9,294.9 L929.6,295.4 L930.4,295.9 L931.2,296.4 L931.9,296.9 L932.7,297.5 L933.4,298.0 L934.1,298.5 L934.8,299.1 L935.5,299.6 L936.2,300.2 L936.8,300.7 L937.5,301.3 L938.1,301.9 L938.8,302.5 L939.4,303.1 L940.1,303.7 L940.7,304.3 L941.3,305.0 L941.9,305.6 L942.5,306.3 L943.1,306.9 L943.7,307.6 L944.3,308.2 L944.8,308.9 L945.4,309.5 L945.9,310.2 L946.4,310.9 L947.0,311.5 L947.5,312.1 L948.0,312.8 L948.4,313.4 L948.9,314.0 L949.3,314.6 L949.7,315.2 L950.1,315.8 L950.5,316.3 L950.9,316.9 L951.2,317.5 L951.6,318.1 L951.9,318.7 L952.3,319.4 L952.6,320.0 L952.9,320.6 L953.2,321.2 L953.5,321.8 L953.8,322.4 L954.1,323.0 L954.4,323.6 L954.6,324.2 L954.9,324.8 L955.2,325.3 L955.4,325.9 L955.7,326.5 L955.9,327.0 L956.2,327.6 L956.4,328.1 L956.6,328.5 L956.8,328.9 L957.0,329.4 L957.1,329.8 L957.3,330.2 L957.4,330.6 L957.6,331.0 L957.7,331.4 L957.8,331.7 L958.0,332.1 L958.1,332.5 L958.2,332.8 L958.3,333.2 L958.4,333.5 L958.5,333.9 L958.6,334.2 L958.7,334.5 L958.7,334.8 L958.8,335.1 L958.9,335.4 L959.0,335.7 L959.1,336.0 L959.2,336.3 L959.2,336.5 L953.0,335.3 L964.4,350.0 L975.0,334.7 L968.8,333.5 L968.7,333.3 L968.7,333.2 L968.6,333.0 L968.6,332.8 L968.5,332.5 L968.4,332.2 L968.3,331.9 L968.2,331.6 L968.1,331.2 L968.0,330.8 L967.9,330.4 L967.8,330.0 L967.7,329.6 L967.5,329.1 L967.4,328.7 L967.2,328.2 L967.1,327.7 L966.9,327.2 L966.7,326.7 L966.5,326.1 L966.3,325.6 L966.1,325.0 L965.8,324.5 L965.6,323.9 L965.4,323.4 L965.1,322.9 L964.9,322.4 L964.6,321.8 L964.4,321.2 L964.1,320.6 L963.8,320.0 L963.6,319.4 L963.3,318.7 L962.9,318.1 L962.6,317.4 L962.3,316.7 L961.9,316.0 L961.6,315.3 L961.2,314.6 L960.8,313.8 L960.4,313.1 L960.0,312.4 L959.5,311.6 L959.1,310.9 L958.6,310.2 L958.1,309.4 L957.6,308.7 L957.1,308.0 L956.6,307.3 L956.1,306.6 L955.5,305.9 L955.0,305.2 L954.4,304.5 L953.9,303.8 L953.3,303.0 L952.7,302.3 L952.0,301.6 L951.4,300.8 L950.8,300.1 L950.1,299.4 L949.4,298.6 L948.8,297.9 L948.1,297.2 L947.3,296.4 L946.6,295.7 L945.9,295.0 L945.1,294.3 L944.4,293.6 L943.6,292.9 L942.8,292.2 L942.0,291.6 L941.2,290.9 L940.4,290.3 L939.6,289.7 L938.8,289.1 L937.9,288.5 L937.1,287.9 L936.2,287.3 L935.4,286.7 L934.5,286.1 L933.6,285.6 L932.7,285.0 L931.8,284.5 L930.9,283.9 L929.9,283.4 L929.0,282.9 L928.0,282.3 L927.1,281.8 L926.1,281.3 L925.1,280.8 L924.1,280.4 L923.1,279.9 L922.1,279.4 L921.0,279.0 L920.0,278.5 L918.9,278.1 L917.9,277.7 L916.9,277.3 L915.8,276.9 L914.8,276.5 L913.7,276.1 L912.6,275.8 L911.6,275.4 L910.5,275.1 L909.4,274.8 L908.3,274.4 L907.2,274.1 L906.0,273.8 L904.9,273.5 L903.7,273.2 L902.5,272.9 L901.3,272.7 L900.1,272.4 L898.9,272.1 L897.6,271.9 L896.3,271.6 L895.0,271.4 L893.6,271.1 L892.2,270.9 L890.8,270.7 L889.4,270.5 L887.9,270.3 L886.5,270.1 L885.0,269.9 L883.5,269.7 L882.0,269.5 L880.5,269.3 L879.0,269.2 L877.4,269.0 L875.9,268.9 L874.3,268.7 L872.6,268.6 L871.0,268.5 L869.3,268.3 L867.6,268.2 L865.8,268.1 L864.0,268.0 L862.2,267.9 L860.3,267.8 L858.4,267.7 L856.4,267.6 L854.4,267.5 L852.3,267.4 L850.2,267.3 L848.0,267.2 L845.5,267.1 L843.0,267.0 L840.3,267.0 L837.5,266.9 L834.6,266.8 L831.6,266.8 L828.6,266.7 L825.6,266.7 L822.5,266.6 L819.4,266.6 L816.3,266.6 L813.3,266.5 L810.3,266.5 L807.5,266.5 L804.6,266.4 L801.9,266.4 L799.4,266.4 L796.9,266.4 L794.7,266.3 L792.6,266.3 L790.7,266.3 L789.1,266.3 L787.7,266.3Z" fill="#5e9e4a" stroke="#2c3153" stroke-width="2.1" stroke-dasharray="4.5 2.5"/>
<rect x="136" y="194.2" width="104.19999999999999" height="34.80000000000001" rx="8" fill="#ffffff" stroke="#2c3153" stroke-width="2.6"/>
<rect x="673" y="255" width="104.5" height="34.69999999999999" rx="8" fill="#ffffff" stroke="#62a34d" stroke-width="2.2"/>
<rect x="673" y="345" width="104.5" height="34" rx="8" fill="#ffffff" stroke="#df7a71" stroke-width="2.2"/>
<rect x="673" y="434.6" width="104.5" height="34.39999999999998" rx="8" fill="#ffffff" stroke="#df7a71" stroke-width="2.2"/>
<rect x="673" y="524" width="104.5" height="34.5" rx="8" fill="#ffffff" stroke="#df7a71" stroke-width="2.2"/>
<rect x="256.6" y="468.8" width="150.89999999999998" height="34.19999999999999" rx="8" fill="#ffffff" stroke="#62a34d" stroke-width="2.2"/>
<rect x="237.3" y="566.7" width="100.69999999999999" height="34.299999999999955" rx="8" fill="#ffffff" stroke="#df7a71" stroke-width="2.2"/>
<rect x="295.5" y="773.5" width="142.0" height="35.0" rx="8" fill="#ffffff" stroke="#2c3153" stroke-width="2.6"/>
<rect x="909.2" y="386" width="104.29999999999995" height="35" rx="8" fill="#ffffff" stroke="#2c3153" stroke-width="2.6"/>
<rect x="909.5" y="522" width="103.70000000000005" height="33" rx="8" fill="#ffffff" stroke="#2c3153" stroke-width="2.6"/>
<rect x="806.7" y="789" width="113.89999999999998" height="33.299999999999955" rx="8" fill="#ffffff" stroke="#df7a71" stroke-width="2.2"/>
<g font-family="'Liberation Serif', serif" font-weight="bold">
<text x="260.6" y="103.0" font-size="60.36" textLength="38.1" lengthAdjust="spacingAndGlyphs" fill="#2f3456" stroke="#2f3456" stroke-width="2.2" stroke-linejoin="round">G</text>
<text x="302.1" y="103.0" font-size="60.36" textLength="32.9" lengthAdjust="spacingAndGlyphs" fill="#2f3456" stroke="#2f3456" stroke-width="2.2" stroke-linejoin="round">L</text>
<text x="334.1" y="103.0" font-size="60.36" textLength="42.8" lengthAdjust="spacingAndGlyphs" fill="#2f3456" stroke="#2f3456" stroke-width="2.2" stroke-linejoin="round">U</text>
<text x="377.3" y="103.0" font-size="60.36" textLength="39.9" lengthAdjust="spacingAndGlyphs" fill="#2f3456" stroke="#2f3456" stroke-width="2.2" stroke-linejoin="round">C</text>
<text x="415.2" y="103.0" font-size="60.36" textLength="41.0" lengthAdjust="spacingAndGlyphs" fill="#2f3456" stroke="#2f3456" stroke-width="2.2" stroke-linejoin="round">O</text>
<text x="459.1" y="103.0" font-size="60.36" textLength="41.8" lengthAdjust="spacingAndGlyphs" fill="#2f3456" stroke="#2f3456" stroke-width="2.2" stroke-linejoin="round">N</text>
<text x="504.7" y="103.0" font-size="60.36" textLength="32.9" lengthAdjust="spacingAndGlyphs" fill="#2f3456" stroke="#2f3456" stroke-width="2.2" stroke-linejoin="round">E</text>
<text x="539.6" y="103.0" font-size="60.36" textLength="43.4" lengthAdjust="spacingAndGlyphs" fill="#2f3456" stroke="#2f3456" stroke-width="2.2" stroke-linejoin="round">O</text>
<text x="585.0" y="103.0" font-size="60.36" textLength="38.9" lengthAdjust="spacingAndGlyphs" fill="#2f3456" stroke="#2f3456" stroke-width="2.2" stroke-linejoin="round">G</text>
<text x="625.7" y="103.0" font-size="60.36" textLength="35.5" lengthAdjust="spacingAndGlyphs" fill="#2f3456" stroke="#2f3456" stroke-width="2.2" stroke-linejoin="round">E</text>
<text x="661.9" y="103.0" font-size="60.36" textLength="44.4" lengthAdjust="spacingAndGlyphs" fill="#2f3456" stroke="#2f3456" stroke-width="2.2" stroke-linejoin="round">N</text>
<text x="709.1" y="103.0" font-size="60.36" textLength="34.5" lengthAdjust="spacingAndGlyphs" fill="#2f3456" stroke="#2f3456" stroke-width="2.2" stroke-linejoin="round">E</text>
<text x="742.7" y="103.0" font-size="60.36" textLength="34.6" lengthAdjust="spacingAndGlyphs" fill="#2f3456" stroke="#2f3456" stroke-width="2.2" stroke-linejoin="round">S</text>
<text x="779.0" y="103.0" font-size="60.36" textLength="22.0" lengthAdjust="spacingAndGlyphs" fill="#2f3456" stroke="#2f3456" stroke-width="2.2" stroke-linejoin="round">I</text>
<text x="801.8" y="103.0" font-size="60.36" textLength="33.4" lengthAdjust="spacingAndGlyphs" fill="#2f3456" stroke="#2f3456" stroke-width="2.2" stroke-linejoin="round">S</text>
<text x="144.8" y="219.3" font-size="17.59" textLength="86.2" lengthAdjust="spacingAndGlyphs" fill="#2c3153" stroke="#2c3153" stroke-width="0.58" stroke-linejoin="round">GLYCOGEN</text>
<text x="20.9" y="268.5" font-size="17.14" textLength="141.1" lengthAdjust="spacingAndGlyphs" fill="#2c3153" stroke="#2c3153" stroke-width="0.57" stroke-linejoin="round">GLYCOGENOLYSIS</text>
<text x="150.8" y="306.9" font-size="17.14" textLength="74.6" lengthAdjust="spacingAndGlyphs" fill="#2c3153" stroke="#2c3153" stroke-width="0.57" stroke-linejoin="round">GLUCOSE</text>
<text x="118.1" y="368.3" font-size="17.88" textLength="158.5" lengthAdjust="spacingAndGlyphs" fill="#2c3153" stroke="#2c3153" stroke-width="0.59" stroke-linejoin="round">GLUCONEOGENESIS</text>
<text x="71.8" y="436.9" font-size="17.88" textLength="92.6" lengthAdjust="spacingAndGlyphs" fill="#2c3153" stroke="#2c3153" stroke-width="0.59" stroke-linejoin="round">OXIDATION</text>
<text x="93.1" y="456.7" font-size="17.00" textLength="50.2" lengthAdjust="spacingAndGlyphs" fill="#2c3153" stroke="#2c3153" stroke-width="0.56" stroke-linejoin="round">NEFAs</text>
<text x="271.4" y="492.0" font-size="18.03" textLength="131.7" lengthAdjust="spacingAndGlyphs" fill="#2c3153" stroke="#2c3153" stroke-width="0.60" stroke-linejoin="round">KETONE BODIES</text>
<text x="245.9" y="588.6" font-size="18.18" textLength="83.0" lengthAdjust="spacingAndGlyphs" fill="#2c3153" stroke="#2c3153" stroke-width="0.60" stroke-linejoin="round">GLYCEROL</text>
<text x="106.2" y="677.2" font-size="18.33" textLength="50.3" lengthAdjust="spacingAndGlyphs" fill="#2c3153" stroke="#2c3153" stroke-width="0.61" stroke-linejoin="round">NEFAs</text>
<text x="325.2" y="762.4" font-size="17.73" textLength="82.1" lengthAdjust="spacingAndGlyphs" fill="#2c3153" stroke="#2c3153" stroke-width="0.59" stroke-linejoin="round">LIPOLYSIS</text>
<text x="303.2" y="798.9" font-size="18.33" textLength="127.4" lengthAdjust="spacingAndGlyphs" fill="#2c3153" stroke="#2c3153" stroke-width="0.61" stroke-linejoin="round">TRIGLYCERIDES</text>
<text x="285.5" y="914.9" font-size="22.46" textLength="161.9" lengthAdjust="spacingAndGlyphs" fill="#bf4e4b" stroke="#bf4e4b" stroke-width="0.74" stroke-linejoin="round">ADIPOSE TISSUE</text>
<text x="466.1" y="335.8" font-size="20.10" textLength="58.9" lengthAdjust="spacingAndGlyphs" fill="#bf4e4b" stroke="#bf4e4b" stroke-width="0.66" stroke-linejoin="round">LIVER</text>
<text x="689.4" y="279.6" font-size="17.73" textLength="74.2" lengthAdjust="spacingAndGlyphs" fill="#2c3153" stroke="#2c3153" stroke-width="0.59" stroke-linejoin="round">GLUCOSE</text>
<text x="689.9" y="368.8" font-size="17.00" textLength="73.3" lengthAdjust="spacingAndGlyphs" fill="#2c3153" stroke="#2c3153" stroke-width="0.56" stroke-linejoin="round">LACTATE</text>
<text x="683.3" y="458.6" font-size="17.44" textLength="86.1" lengthAdjust="spacingAndGlyphs" fill="#2c3153" stroke="#2c3153" stroke-width="0.58" stroke-linejoin="round">PYRUVATE</text>
<text x="689.4" y="548.2" font-size="17.59" textLength="74.2" lengthAdjust="spacingAndGlyphs" fill="#2c3153" stroke="#2c3153" stroke-width="0.58" stroke-linejoin="round">ALANINE</text>
<text x="919.1" y="409.7" font-size="18.18" textLength="85.4" lengthAdjust="spacingAndGlyphs" fill="#2c3153" stroke="#2c3153" stroke-width="0.60" stroke-linejoin="round">GLYCOGEN</text>
<text x="892.0" y="444.1" font-size="17.73" textLength="139.6" lengthAdjust="spacingAndGlyphs" fill="#2c3153" stroke="#2c3153" stroke-width="0.59" stroke-linejoin="round">GLYCOGENOLYSIS</text>
<text x="925.0" y="545.0" font-size="19.51" textLength="73.3" lengthAdjust="spacingAndGlyphs" fill="#2c3153" stroke="#2c3153" stroke-width="0.64" stroke-linejoin="round">PROTEIN</text>
<text x="907.2" y="578.6" font-size="18.03" textLength="109.9" lengthAdjust="spacingAndGlyphs" fill="#2c3153" stroke="#2c3153" stroke-width="0.60" stroke-linejoin="round">PROTEOLYSIS</text>
<text x="814.4" y="810.7" font-size="17.73" textLength="98.2" lengthAdjust="spacingAndGlyphs" fill="#2c3153" stroke="#2c3153" stroke-width="0.59" stroke-linejoin="round">GLUTAMINE</text>
<text x="919.1" y="867.7" font-size="19.80" textLength="80.9" lengthAdjust="spacingAndGlyphs" fill="#bf4e4b" stroke="#bf4e4b" stroke-width="0.65" stroke-linejoin="round">MUSCLE</text>
<text x="643.2" y="914.9" font-size="22.46" textLength="41.2" lengthAdjust="spacingAndGlyphs" fill="#bf4e4b" stroke="#bf4e4b" stroke-width="0.74" stroke-linejoin="round">GUT</text>
</g>
</svg></body></html>
